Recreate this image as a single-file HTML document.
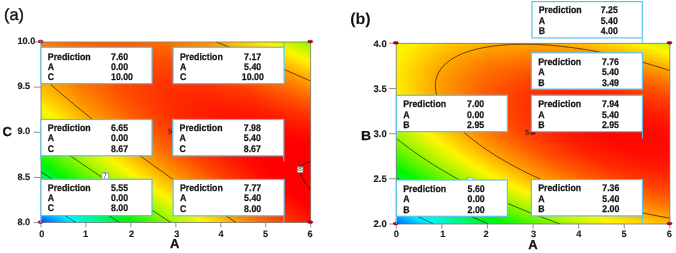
<!DOCTYPE html>
<html><head><meta charset="utf-8"><title>Contour plots</title><style>
html,body{margin:0;padding:0;background:#fff;width:676px;height:253px;overflow:hidden}
svg{display:block;filter:blur(0.3px)}
text{font-family:"Liberation Sans",sans-serif;fill:#1a1a1a;text-rendering:geometricPrecision}
.t{font-size:9.2px;font-weight:bold;fill:#222;stroke:#222;stroke-width:0.15px}
.tb{font-size:9.5px}
.ax{font-size:13px;font-weight:bold;fill:#111;stroke:#111;stroke-width:0.25px}
.pl{font-size:16px;font-weight:bold;fill:#111}
.bx{font-size:9.6px;font-weight:bold;fill:#151515;stroke:#151515;stroke-width:0.25px}
.five{font-size:7.5px;font-weight:bold;fill:#5a1a00}
.cl{font-size:6.5px;fill:#222}
</style></head>
<body><svg width="676" height="253" viewBox="0 0 676 253">
<defs><linearGradient id="a0" gradientUnits="userSpaceOnUse" x1="41.0" x2="311.0" y1="0" y2="0"><stop offset="0.000" stop-color="#ff8000"/><stop offset="0.156" stop-color="#ff6400"/><stop offset="0.311" stop-color="#ff5f00"/><stop offset="0.467" stop-color="#ff7000"/><stop offset="0.622" stop-color="#ff9900"/><stop offset="0.778" stop-color="#ffd900"/><stop offset="0.841" stop-color="#fcf600"/><stop offset="0.993" stop-color="#96f600"/><stop offset="1.000" stop-color="#91f600"/></linearGradient><linearGradient id="a1" gradientUnits="userSpaceOnUse" x1="41.0" x2="311.0" y1="0" y2="0"><stop offset="0.000" stop-color="#ff8100"/><stop offset="0.156" stop-color="#ff6300"/><stop offset="0.311" stop-color="#ff5c00"/><stop offset="0.467" stop-color="#ff6c00"/><stop offset="0.622" stop-color="#ff9200"/><stop offset="0.778" stop-color="#ffd000"/><stop offset="0.856" stop-color="#fdf600"/><stop offset="1.000" stop-color="#9df600"/></linearGradient><linearGradient id="a2" gradientUnits="userSpaceOnUse" x1="41.0" x2="311.0" y1="0" y2="0"><stop offset="0.000" stop-color="#ff8200"/><stop offset="0.156" stop-color="#ff6200"/><stop offset="0.311" stop-color="#ff5900"/><stop offset="0.467" stop-color="#ff6700"/><stop offset="0.622" stop-color="#ff8c00"/><stop offset="0.778" stop-color="#ffc800"/><stop offset="0.874" stop-color="#fcf600"/><stop offset="1.000" stop-color="#a8f600"/></linearGradient><linearGradient id="a3" gradientUnits="userSpaceOnUse" x1="41.0" x2="311.0" y1="0" y2="0"><stop offset="0.000" stop-color="#ff8400"/><stop offset="0.156" stop-color="#ff6200"/><stop offset="0.311" stop-color="#ff5700"/><stop offset="0.467" stop-color="#ff6300"/><stop offset="0.622" stop-color="#ff8600"/><stop offset="0.778" stop-color="#ffc000"/><stop offset="0.889" stop-color="#fdf600"/><stop offset="1.000" stop-color="#b4f600"/></linearGradient><linearGradient id="a4" gradientUnits="userSpaceOnUse" x1="41.0" x2="311.0" y1="0" y2="0"><stop offset="0.000" stop-color="#ff8500"/><stop offset="0.156" stop-color="#ff6100"/><stop offset="0.311" stop-color="#ff5400"/><stop offset="0.467" stop-color="#ff5f00"/><stop offset="0.622" stop-color="#ff8000"/><stop offset="0.778" stop-color="#ffb800"/><stop offset="0.907" stop-color="#fcf600"/><stop offset="1.000" stop-color="#bff600"/></linearGradient><linearGradient id="a5" gradientUnits="userSpaceOnUse" x1="41.0" x2="311.0" y1="0" y2="0"><stop offset="0.000" stop-color="#ff8700"/><stop offset="0.156" stop-color="#ff6100"/><stop offset="0.311" stop-color="#ff5200"/><stop offset="0.467" stop-color="#ff5b00"/><stop offset="0.622" stop-color="#ff7a00"/><stop offset="0.778" stop-color="#ffb100"/><stop offset="0.922" stop-color="#fdf600"/><stop offset="1.000" stop-color="#cbf600"/></linearGradient><linearGradient id="a6" gradientUnits="userSpaceOnUse" x1="41.0" x2="311.0" y1="0" y2="0"><stop offset="0.000" stop-color="#ff8800"/><stop offset="0.156" stop-color="#ff6100"/><stop offset="0.311" stop-color="#ff5000"/><stop offset="0.467" stop-color="#ff5700"/><stop offset="0.622" stop-color="#ff7400"/><stop offset="0.778" stop-color="#ffa900"/><stop offset="0.941" stop-color="#fcf600"/><stop offset="1.000" stop-color="#d6f600"/></linearGradient><linearGradient id="a7" gradientUnits="userSpaceOnUse" x1="41.0" x2="311.0" y1="0" y2="0"><stop offset="0.000" stop-color="#ff8a00"/><stop offset="0.156" stop-color="#ff6100"/><stop offset="0.311" stop-color="#ff4f00"/><stop offset="0.467" stop-color="#ff5300"/><stop offset="0.622" stop-color="#ff6f00"/><stop offset="0.778" stop-color="#ffa200"/><stop offset="0.933" stop-color="#ffeb00"/><stop offset="0.959" stop-color="#fbf600"/><stop offset="1.000" stop-color="#e1f600"/></linearGradient><linearGradient id="a8" gradientUnits="userSpaceOnUse" x1="41.0" x2="311.0" y1="0" y2="0"><stop offset="0.000" stop-color="#ff8c00"/><stop offset="0.156" stop-color="#ff6100"/><stop offset="0.311" stop-color="#ff4d00"/><stop offset="0.467" stop-color="#ff5000"/><stop offset="0.622" stop-color="#ff6a00"/><stop offset="0.778" stop-color="#ff9a00"/><stop offset="0.933" stop-color="#ffe200"/><stop offset="0.974" stop-color="#fcf600"/><stop offset="1.000" stop-color="#ebf600"/></linearGradient><linearGradient id="a9" gradientUnits="userSpaceOnUse" x1="41.0" x2="311.0" y1="0" y2="0"><stop offset="0.000" stop-color="#ff8f00"/><stop offset="0.156" stop-color="#ff6200"/><stop offset="0.311" stop-color="#ff4c00"/><stop offset="0.467" stop-color="#ff4d00"/><stop offset="0.622" stop-color="#ff6400"/><stop offset="0.778" stop-color="#ff9300"/><stop offset="0.933" stop-color="#ffd900"/><stop offset="0.989" stop-color="#fdf600"/><stop offset="1.000" stop-color="#f6f600"/></linearGradient><linearGradient id="a10" gradientUnits="userSpaceOnUse" x1="41.0" x2="311.0" y1="0" y2="0"><stop offset="0.000" stop-color="#ff9100"/><stop offset="0.156" stop-color="#ff6200"/><stop offset="0.311" stop-color="#ff4a00"/><stop offset="0.467" stop-color="#ff4900"/><stop offset="0.622" stop-color="#ff5f00"/><stop offset="0.778" stop-color="#ff8d00"/><stop offset="0.933" stop-color="#ffd100"/><stop offset="1.000" stop-color="#fff500"/></linearGradient><linearGradient id="a11" gradientUnits="userSpaceOnUse" x1="41.0" x2="311.0" y1="0" y2="0"><stop offset="0.000" stop-color="#ff9400"/><stop offset="0.156" stop-color="#ff6300"/><stop offset="0.311" stop-color="#ff4900"/><stop offset="0.467" stop-color="#ff4600"/><stop offset="0.622" stop-color="#ff5b00"/><stop offset="0.778" stop-color="#ff8600"/><stop offset="0.933" stop-color="#ffc800"/><stop offset="1.000" stop-color="#ffeb00"/></linearGradient><linearGradient id="a12" gradientUnits="userSpaceOnUse" x1="41.0" x2="311.0" y1="0" y2="0"><stop offset="0.000" stop-color="#ff9700"/><stop offset="0.156" stop-color="#ff6400"/><stop offset="0.311" stop-color="#ff4800"/><stop offset="0.467" stop-color="#ff4400"/><stop offset="0.622" stop-color="#ff5600"/><stop offset="0.778" stop-color="#ff7f00"/><stop offset="0.933" stop-color="#ffc000"/><stop offset="1.000" stop-color="#ffe200"/></linearGradient><linearGradient id="a13" gradientUnits="userSpaceOnUse" x1="41.0" x2="311.0" y1="0" y2="0"><stop offset="0.000" stop-color="#ff9a00"/><stop offset="0.156" stop-color="#ff6500"/><stop offset="0.311" stop-color="#ff4800"/><stop offset="0.467" stop-color="#ff4100"/><stop offset="0.622" stop-color="#ff5100"/><stop offset="0.778" stop-color="#ff7900"/><stop offset="0.933" stop-color="#ffb700"/><stop offset="1.000" stop-color="#ffd900"/></linearGradient><linearGradient id="a14" gradientUnits="userSpaceOnUse" x1="41.0" x2="311.0" y1="0" y2="0"><stop offset="0.000" stop-color="#ff9d00"/><stop offset="0.156" stop-color="#ff6600"/><stop offset="0.311" stop-color="#ff4700"/><stop offset="0.467" stop-color="#ff3f00"/><stop offset="0.622" stop-color="#ff4d00"/><stop offset="0.778" stop-color="#ff7300"/><stop offset="0.933" stop-color="#ffaf00"/><stop offset="1.000" stop-color="#ffd000"/></linearGradient><linearGradient id="a15" gradientUnits="userSpaceOnUse" x1="41.0" x2="311.0" y1="0" y2="0"><stop offset="0.000" stop-color="#ffa000"/><stop offset="0.156" stop-color="#ff6800"/><stop offset="0.311" stop-color="#ff4600"/><stop offset="0.467" stop-color="#ff3c00"/><stop offset="0.622" stop-color="#ff4900"/><stop offset="0.778" stop-color="#ff6d00"/><stop offset="0.933" stop-color="#ffa700"/><stop offset="1.000" stop-color="#ffc800"/></linearGradient><linearGradient id="a16" gradientUnits="userSpaceOnUse" x1="41.0" x2="311.0" y1="0" y2="0"><stop offset="0.000" stop-color="#ffa300"/><stop offset="0.156" stop-color="#ff6900"/><stop offset="0.311" stop-color="#ff4600"/><stop offset="0.467" stop-color="#ff3a00"/><stop offset="0.622" stop-color="#ff4500"/><stop offset="0.778" stop-color="#ff6700"/><stop offset="0.933" stop-color="#ffa000"/><stop offset="1.000" stop-color="#ffbf00"/></linearGradient><linearGradient id="a17" gradientUnits="userSpaceOnUse" x1="41.0" x2="311.0" y1="0" y2="0"><stop offset="0.000" stop-color="#ffa700"/><stop offset="0.156" stop-color="#ff6b00"/><stop offset="0.311" stop-color="#ff4600"/><stop offset="0.467" stop-color="#ff3800"/><stop offset="0.622" stop-color="#ff4100"/><stop offset="0.778" stop-color="#ff6100"/><stop offset="0.933" stop-color="#ff9800"/><stop offset="1.000" stop-color="#ffb700"/></linearGradient><linearGradient id="a18" gradientUnits="userSpaceOnUse" x1="41.0" x2="311.0" y1="0" y2="0"><stop offset="0.000" stop-color="#ffab00"/><stop offset="0.156" stop-color="#ff6d00"/><stop offset="0.311" stop-color="#ff4600"/><stop offset="0.467" stop-color="#ff3600"/><stop offset="0.622" stop-color="#ff3d00"/><stop offset="0.778" stop-color="#ff5c00"/><stop offset="0.933" stop-color="#ff9100"/><stop offset="1.000" stop-color="#ffaf00"/></linearGradient><linearGradient id="a19" gradientUnits="userSpaceOnUse" x1="41.0" x2="311.0" y1="0" y2="0"><stop offset="0.000" stop-color="#ffaf00"/><stop offset="0.156" stop-color="#ff6f00"/><stop offset="0.311" stop-color="#ff4600"/><stop offset="0.467" stop-color="#ff3500"/><stop offset="0.622" stop-color="#ff3a00"/><stop offset="0.778" stop-color="#ff5600"/><stop offset="0.933" stop-color="#ff8a00"/><stop offset="1.000" stop-color="#ffa700"/></linearGradient><linearGradient id="a20" gradientUnits="userSpaceOnUse" x1="41.0" x2="311.0" y1="0" y2="0"><stop offset="0.000" stop-color="#ffb300"/><stop offset="0.156" stop-color="#ff7100"/><stop offset="0.311" stop-color="#ff4700"/><stop offset="0.467" stop-color="#ff3300"/><stop offset="0.622" stop-color="#ff3700"/><stop offset="0.778" stop-color="#ff5100"/><stop offset="0.933" stop-color="#ff8200"/><stop offset="1.000" stop-color="#ff9f00"/></linearGradient><linearGradient id="a21" gradientUnits="userSpaceOnUse" x1="41.0" x2="311.0" y1="0" y2="0"><stop offset="0.000" stop-color="#ffb700"/><stop offset="0.156" stop-color="#ff7400"/><stop offset="0.311" stop-color="#ff4700"/><stop offset="0.467" stop-color="#ff3200"/><stop offset="0.622" stop-color="#ff3300"/><stop offset="0.778" stop-color="#ff4c00"/><stop offset="0.933" stop-color="#ff7c00"/><stop offset="1.000" stop-color="#ff9700"/></linearGradient><linearGradient id="a22" gradientUnits="userSpaceOnUse" x1="41.0" x2="311.0" y1="0" y2="0"><stop offset="0.000" stop-color="#ffbc00"/><stop offset="0.156" stop-color="#ff7600"/><stop offset="0.311" stop-color="#ff4800"/><stop offset="0.467" stop-color="#ff3100"/><stop offset="0.622" stop-color="#ff3000"/><stop offset="0.778" stop-color="#ff4700"/><stop offset="0.933" stop-color="#ff7500"/><stop offset="1.000" stop-color="#ff8f00"/></linearGradient><linearGradient id="a23" gradientUnits="userSpaceOnUse" x1="41.0" x2="311.0" y1="0" y2="0"><stop offset="0.000" stop-color="#ffc000"/><stop offset="0.156" stop-color="#ff7900"/><stop offset="0.311" stop-color="#ff4900"/><stop offset="0.467" stop-color="#ff3000"/><stop offset="0.622" stop-color="#ff2e00"/><stop offset="0.778" stop-color="#ff4200"/><stop offset="0.933" stop-color="#ff6e00"/><stop offset="1.000" stop-color="#ff8800"/></linearGradient><linearGradient id="a24" gradientUnits="userSpaceOnUse" x1="41.0" x2="311.0" y1="0" y2="0"><stop offset="0.000" stop-color="#ffc500"/><stop offset="0.156" stop-color="#ff7c00"/><stop offset="0.311" stop-color="#ff4a00"/><stop offset="0.467" stop-color="#ff2f00"/><stop offset="0.622" stop-color="#ff2b00"/><stop offset="0.778" stop-color="#ff3e00"/><stop offset="0.933" stop-color="#ff6800"/><stop offset="1.000" stop-color="#ff8100"/></linearGradient><linearGradient id="a25" gradientUnits="userSpaceOnUse" x1="41.0" x2="311.0" y1="0" y2="0"><stop offset="0.000" stop-color="#ffca00"/><stop offset="0.156" stop-color="#ff7f00"/><stop offset="0.311" stop-color="#ff4b00"/><stop offset="0.467" stop-color="#ff2e00"/><stop offset="0.622" stop-color="#ff2800"/><stop offset="0.778" stop-color="#ff3a00"/><stop offset="0.933" stop-color="#ff6200"/><stop offset="1.000" stop-color="#ff7a00"/></linearGradient><linearGradient id="a26" gradientUnits="userSpaceOnUse" x1="41.0" x2="311.0" y1="0" y2="0"><stop offset="0.000" stop-color="#ffcf00"/><stop offset="0.156" stop-color="#ff8200"/><stop offset="0.311" stop-color="#ff4d00"/><stop offset="0.467" stop-color="#ff2e00"/><stop offset="0.622" stop-color="#ff2600"/><stop offset="0.778" stop-color="#ff3500"/><stop offset="0.933" stop-color="#ff5c00"/><stop offset="1.000" stop-color="#ff7300"/></linearGradient><linearGradient id="a27" gradientUnits="userSpaceOnUse" x1="41.0" x2="311.0" y1="0" y2="0"><stop offset="0.000" stop-color="#ffd400"/><stop offset="0.156" stop-color="#ff8600"/><stop offset="0.311" stop-color="#ff4e00"/><stop offset="0.467" stop-color="#ff2e00"/><stop offset="0.622" stop-color="#ff2400"/><stop offset="0.778" stop-color="#ff3100"/><stop offset="0.933" stop-color="#ff5600"/><stop offset="1.000" stop-color="#ff6c00"/></linearGradient><linearGradient id="a28" gradientUnits="userSpaceOnUse" x1="41.0" x2="311.0" y1="0" y2="0"><stop offset="0.000" stop-color="#ffda00"/><stop offset="0.156" stop-color="#ff8900"/><stop offset="0.311" stop-color="#ff5000"/><stop offset="0.467" stop-color="#ff2d00"/><stop offset="0.622" stop-color="#ff2200"/><stop offset="0.778" stop-color="#ff2d00"/><stop offset="0.933" stop-color="#ff5000"/><stop offset="1.000" stop-color="#ff6600"/></linearGradient><linearGradient id="a29" gradientUnits="userSpaceOnUse" x1="41.0" x2="311.0" y1="0" y2="0"><stop offset="0.000" stop-color="#ffe000"/><stop offset="0.156" stop-color="#ff8d00"/><stop offset="0.311" stop-color="#ff5200"/><stop offset="0.467" stop-color="#ff2d00"/><stop offset="0.622" stop-color="#ff2000"/><stop offset="0.778" stop-color="#ff2a00"/><stop offset="0.933" stop-color="#ff4a00"/><stop offset="1.000" stop-color="#ff5f00"/></linearGradient><linearGradient id="a30" gradientUnits="userSpaceOnUse" x1="41.0" x2="311.0" y1="0" y2="0"><stop offset="0.000" stop-color="#ffe500"/><stop offset="0.156" stop-color="#ff9100"/><stop offset="0.311" stop-color="#ff5400"/><stop offset="0.467" stop-color="#ff2e00"/><stop offset="0.622" stop-color="#ff1e00"/><stop offset="0.778" stop-color="#ff2600"/><stop offset="0.933" stop-color="#ff4500"/><stop offset="1.000" stop-color="#ff5900"/></linearGradient><linearGradient id="a31" gradientUnits="userSpaceOnUse" x1="41.0" x2="311.0" y1="0" y2="0"><stop offset="0.000" stop-color="#ffeb00"/><stop offset="0.156" stop-color="#ff9500"/><stop offset="0.311" stop-color="#ff5600"/><stop offset="0.467" stop-color="#ff2e00"/><stop offset="0.622" stop-color="#ff1d00"/><stop offset="0.778" stop-color="#ff2300"/><stop offset="0.933" stop-color="#ff4000"/><stop offset="1.000" stop-color="#ff5300"/></linearGradient><linearGradient id="a32" gradientUnits="userSpaceOnUse" x1="41.0" x2="311.0" y1="0" y2="0"><stop offset="0.000" stop-color="#fff100"/><stop offset="0.156" stop-color="#ff9900"/><stop offset="0.311" stop-color="#ff5900"/><stop offset="0.467" stop-color="#ff2f00"/><stop offset="0.622" stop-color="#ff1c00"/><stop offset="0.778" stop-color="#ff2000"/><stop offset="0.933" stop-color="#ff3b00"/><stop offset="1.000" stop-color="#ff4d00"/></linearGradient><linearGradient id="a33" gradientUnits="userSpaceOnUse" x1="41.0" x2="311.0" y1="0" y2="0"><stop offset="0.000" stop-color="#fdf600"/><stop offset="0.178" stop-color="#ff9300"/><stop offset="0.333" stop-color="#ff5300"/><stop offset="0.489" stop-color="#ff2b00"/><stop offset="0.644" stop-color="#ff1900"/><stop offset="0.800" stop-color="#ff1f00"/><stop offset="0.956" stop-color="#ff3b00"/><stop offset="1.000" stop-color="#ff4800"/></linearGradient><linearGradient id="a34" gradientUnits="userSpaceOnUse" x1="41.0" x2="311.0" y1="0" y2="0"><stop offset="0.000" stop-color="#f6f600"/><stop offset="0.019" stop-color="#fff200"/><stop offset="0.174" stop-color="#ff9900"/><stop offset="0.330" stop-color="#ff5700"/><stop offset="0.485" stop-color="#ff2c00"/><stop offset="0.641" stop-color="#ff1800"/><stop offset="0.796" stop-color="#ff1b00"/><stop offset="0.952" stop-color="#ff3500"/><stop offset="1.000" stop-color="#ff4200"/></linearGradient><linearGradient id="a35" gradientUnits="userSpaceOnUse" x1="41.0" x2="311.0" y1="0" y2="0"><stop offset="0.000" stop-color="#eff600"/><stop offset="0.026" stop-color="#fff400"/><stop offset="0.181" stop-color="#ff9a00"/><stop offset="0.337" stop-color="#ff5700"/><stop offset="0.493" stop-color="#ff2b00"/><stop offset="0.648" stop-color="#ff1700"/><stop offset="0.804" stop-color="#ff1900"/><stop offset="0.959" stop-color="#ff3200"/><stop offset="1.000" stop-color="#ff3d00"/></linearGradient><linearGradient id="a36" gradientUnits="userSpaceOnUse" x1="41.0" x2="311.0" y1="0" y2="0"><stop offset="0.000" stop-color="#e8f600"/><stop offset="0.037" stop-color="#fff300"/><stop offset="0.193" stop-color="#ff9900"/><stop offset="0.348" stop-color="#ff5600"/><stop offset="0.504" stop-color="#ff2a00"/><stop offset="0.659" stop-color="#ff1500"/><stop offset="0.815" stop-color="#ff1700"/><stop offset="0.970" stop-color="#ff3000"/><stop offset="1.000" stop-color="#ff3800"/></linearGradient><linearGradient id="a37" gradientUnits="userSpaceOnUse" x1="41.0" x2="311.0" y1="0" y2="0"><stop offset="0.000" stop-color="#e0f600"/><stop offset="0.044" stop-color="#fff400"/><stop offset="0.200" stop-color="#ff9a00"/><stop offset="0.356" stop-color="#ff5600"/><stop offset="0.511" stop-color="#ff2900"/><stop offset="0.667" stop-color="#ff1400"/><stop offset="0.822" stop-color="#ff1500"/><stop offset="0.978" stop-color="#ff2d00"/><stop offset="1.000" stop-color="#ff3300"/></linearGradient><linearGradient id="a38" gradientUnits="userSpaceOnUse" x1="41.0" x2="311.0" y1="0" y2="0"><stop offset="0.000" stop-color="#d8f600"/><stop offset="0.056" stop-color="#fff400"/><stop offset="0.211" stop-color="#ff9900"/><stop offset="0.367" stop-color="#ff5500"/><stop offset="0.522" stop-color="#ff2800"/><stop offset="0.678" stop-color="#ff1200"/><stop offset="0.833" stop-color="#ff1300"/><stop offset="0.989" stop-color="#ff2b00"/><stop offset="1.000" stop-color="#ff2e00"/></linearGradient><linearGradient id="a39" gradientUnits="userSpaceOnUse" x1="41.0" x2="311.0" y1="0" y2="0"><stop offset="0.000" stop-color="#d0f600"/><stop offset="0.063" stop-color="#fff500"/><stop offset="0.219" stop-color="#ff9a00"/><stop offset="0.374" stop-color="#ff5500"/><stop offset="0.530" stop-color="#ff2700"/><stop offset="0.685" stop-color="#ff1100"/><stop offset="0.841" stop-color="#ff1100"/><stop offset="0.996" stop-color="#ff2800"/><stop offset="1.000" stop-color="#ff2900"/></linearGradient><linearGradient id="a40" gradientUnits="userSpaceOnUse" x1="41.0" x2="311.0" y1="0" y2="0"><stop offset="0.000" stop-color="#c8f600"/><stop offset="0.074" stop-color="#fff500"/><stop offset="0.230" stop-color="#ff9900"/><stop offset="0.385" stop-color="#ff5400"/><stop offset="0.541" stop-color="#ff2600"/><stop offset="0.696" stop-color="#ff0f00"/><stop offset="0.852" stop-color="#ff0f00"/><stop offset="1.000" stop-color="#ff2400"/></linearGradient><linearGradient id="a41" gradientUnits="userSpaceOnUse" x1="41.0" x2="311.0" y1="0" y2="0"><stop offset="0.000" stop-color="#c0f600"/><stop offset="0.085" stop-color="#fff400"/><stop offset="0.241" stop-color="#ff9800"/><stop offset="0.396" stop-color="#ff5300"/><stop offset="0.552" stop-color="#ff2400"/><stop offset="0.707" stop-color="#ff0d00"/><stop offset="0.863" stop-color="#ff0d00"/><stop offset="1.000" stop-color="#ff2000"/></linearGradient><linearGradient id="a42" gradientUnits="userSpaceOnUse" x1="41.0" x2="311.0" y1="0" y2="0"><stop offset="0.000" stop-color="#b7f600"/><stop offset="0.093" stop-color="#fff600"/><stop offset="0.248" stop-color="#ff9900"/><stop offset="0.404" stop-color="#ff5300"/><stop offset="0.559" stop-color="#ff2400"/><stop offset="0.715" stop-color="#ff0c00"/><stop offset="0.870" stop-color="#ff0b00"/><stop offset="1.000" stop-color="#ff1c00"/></linearGradient><linearGradient id="a43" gradientUnits="userSpaceOnUse" x1="41.0" x2="311.0" y1="0" y2="0"><stop offset="0.000" stop-color="#aff600"/><stop offset="0.104" stop-color="#fff500"/><stop offset="0.259" stop-color="#ff9800"/><stop offset="0.415" stop-color="#ff5200"/><stop offset="0.570" stop-color="#ff2300"/><stop offset="0.726" stop-color="#ff0a00"/><stop offset="0.881" stop-color="#ff0900"/><stop offset="1.000" stop-color="#ff1800"/></linearGradient><linearGradient id="a44" gradientUnits="userSpaceOnUse" x1="41.0" x2="311.0" y1="0" y2="0"><stop offset="0.000" stop-color="#a6f600"/><stop offset="0.115" stop-color="#fff400"/><stop offset="0.270" stop-color="#ff9700"/><stop offset="0.426" stop-color="#ff5100"/><stop offset="0.581" stop-color="#ff2100"/><stop offset="0.737" stop-color="#ff0900"/><stop offset="0.893" stop-color="#ff0800"/><stop offset="1.000" stop-color="#ff1400"/></linearGradient><linearGradient id="a45" gradientUnits="userSpaceOnUse" x1="41.0" x2="311.0" y1="0" y2="0"><stop offset="0.000" stop-color="#9df600"/><stop offset="0.122" stop-color="#fff600"/><stop offset="0.281" stop-color="#ff9600"/><stop offset="0.437" stop-color="#ff5000"/><stop offset="0.593" stop-color="#ff2000"/><stop offset="0.748" stop-color="#ff0700"/><stop offset="0.904" stop-color="#ff0600"/><stop offset="1.000" stop-color="#ff1000"/></linearGradient><linearGradient id="a46" gradientUnits="userSpaceOnUse" x1="41.0" x2="311.0" y1="0" y2="0"><stop offset="0.000" stop-color="#94f600"/><stop offset="0.133" stop-color="#fff600"/><stop offset="0.289" stop-color="#ff9700"/><stop offset="0.444" stop-color="#ff5000"/><stop offset="0.600" stop-color="#ff1f00"/><stop offset="0.756" stop-color="#ff0600"/><stop offset="0.911" stop-color="#ff0400"/><stop offset="1.000" stop-color="#ff0d00"/></linearGradient><linearGradient id="a47" gradientUnits="userSpaceOnUse" x1="41.0" x2="311.0" y1="0" y2="0"><stop offset="0.000" stop-color="#8af600"/><stop offset="0.141" stop-color="#fdf600"/><stop offset="0.315" stop-color="#ff8f00"/><stop offset="0.470" stop-color="#ff4900"/><stop offset="0.626" stop-color="#ff1b00"/><stop offset="0.781" stop-color="#ff0300"/><stop offset="0.937" stop-color="#ff0300"/><stop offset="1.000" stop-color="#ff0900"/></linearGradient><linearGradient id="a48" gradientUnits="userSpaceOnUse" x1="41.0" x2="311.0" y1="0" y2="0"><stop offset="0.000" stop-color="#81f600"/><stop offset="0.152" stop-color="#fef600"/><stop offset="0.319" stop-color="#ff9200"/><stop offset="0.474" stop-color="#ff4b00"/><stop offset="0.630" stop-color="#ff1b00"/><stop offset="0.785" stop-color="#ff0300"/><stop offset="0.970" stop-color="#ff0300"/><stop offset="1.000" stop-color="#ff0600"/></linearGradient><linearGradient id="a49" gradientUnits="userSpaceOnUse" x1="41.0" x2="311.0" y1="0" y2="0"><stop offset="0.000" stop-color="#77f600"/><stop offset="0.152" stop-color="#f6f600"/><stop offset="0.167" stop-color="#fff400"/><stop offset="0.322" stop-color="#ff9500"/><stop offset="0.478" stop-color="#ff4d00"/><stop offset="0.633" stop-color="#ff1c00"/><stop offset="0.789" stop-color="#ff0200"/><stop offset="1.000" stop-color="#ff0300"/></linearGradient><linearGradient id="a50" gradientUnits="userSpaceOnUse" x1="41.0" x2="311.0" y1="0" y2="0"><stop offset="0.000" stop-color="#6df600"/><stop offset="0.152" stop-color="#eef600"/><stop offset="0.178" stop-color="#fff300"/><stop offset="0.333" stop-color="#ff9400"/><stop offset="0.489" stop-color="#ff4c00"/><stop offset="0.644" stop-color="#ff1b00"/><stop offset="0.800" stop-color="#ff0000"/><stop offset="1.000" stop-color="#ff0000"/></linearGradient><linearGradient id="a51" gradientUnits="userSpaceOnUse" x1="41.0" x2="311.0" y1="0" y2="0"><stop offset="0.000" stop-color="#63f600"/><stop offset="0.152" stop-color="#e6f600"/><stop offset="0.189" stop-color="#fff300"/><stop offset="0.344" stop-color="#ff9300"/><stop offset="0.500" stop-color="#ff4b00"/><stop offset="0.656" stop-color="#ff1900"/><stop offset="0.804" stop-color="#ff0000"/><stop offset="1.000" stop-color="#ff0000"/></linearGradient><linearGradient id="a52" gradientUnits="userSpaceOnUse" x1="41.0" x2="311.0" y1="0" y2="0"><stop offset="0.000" stop-color="#59f600"/><stop offset="0.152" stop-color="#def600"/><stop offset="0.196" stop-color="#fff500"/><stop offset="0.352" stop-color="#ff9500"/><stop offset="0.507" stop-color="#ff4b00"/><stop offset="0.663" stop-color="#ff1900"/><stop offset="0.807" stop-color="#ff0000"/><stop offset="1.000" stop-color="#ff0000"/></linearGradient><linearGradient id="a53" gradientUnits="userSpaceOnUse" x1="41.0" x2="311.0" y1="0" y2="0"><stop offset="0.000" stop-color="#4ff600"/><stop offset="0.152" stop-color="#d5f600"/><stop offset="0.207" stop-color="#fff400"/><stop offset="0.363" stop-color="#ff9400"/><stop offset="0.519" stop-color="#ff4a00"/><stop offset="0.674" stop-color="#ff1800"/><stop offset="0.807" stop-color="#ff0000"/><stop offset="1.000" stop-color="#ff0000"/></linearGradient><linearGradient id="a54" gradientUnits="userSpaceOnUse" x1="41.0" x2="311.0" y1="0" y2="0"><stop offset="0.000" stop-color="#44f600"/><stop offset="0.152" stop-color="#cdf600"/><stop offset="0.219" stop-color="#fff400"/><stop offset="0.374" stop-color="#ff9300"/><stop offset="0.530" stop-color="#ff4900"/><stop offset="0.685" stop-color="#ff1700"/><stop offset="0.811" stop-color="#ff0000"/><stop offset="1.000" stop-color="#ff0000"/></linearGradient><linearGradient id="a55" gradientUnits="userSpaceOnUse" x1="41.0" x2="311.0" y1="0" y2="0"><stop offset="0.000" stop-color="#39f600"/><stop offset="0.152" stop-color="#c4f600"/><stop offset="0.230" stop-color="#fff300"/><stop offset="0.385" stop-color="#ff9200"/><stop offset="0.541" stop-color="#ff4900"/><stop offset="0.696" stop-color="#ff1600"/><stop offset="0.815" stop-color="#ff0000"/><stop offset="1.000" stop-color="#ff0000"/></linearGradient><linearGradient id="a56" gradientUnits="userSpaceOnUse" x1="41.0" x2="311.0" y1="0" y2="0"><stop offset="0.000" stop-color="#2ef600"/><stop offset="0.152" stop-color="#bbf600"/><stop offset="0.237" stop-color="#fff500"/><stop offset="0.393" stop-color="#ff9400"/><stop offset="0.548" stop-color="#ff4900"/><stop offset="0.704" stop-color="#ff1500"/><stop offset="0.819" stop-color="#ff0000"/><stop offset="1.000" stop-color="#ff0000"/></linearGradient><linearGradient id="a57" gradientUnits="userSpaceOnUse" x1="41.0" x2="311.0" y1="0" y2="0"><stop offset="0.000" stop-color="#23f600"/><stop offset="0.152" stop-color="#b2f600"/><stop offset="0.248" stop-color="#fff500"/><stop offset="0.404" stop-color="#ff9300"/><stop offset="0.559" stop-color="#ff4800"/><stop offset="0.715" stop-color="#ff1400"/><stop offset="0.822" stop-color="#ff0000"/><stop offset="1.000" stop-color="#ff0000"/></linearGradient><linearGradient id="a58" gradientUnits="userSpaceOnUse" x1="41.0" x2="311.0" y1="0" y2="0"><stop offset="0.000" stop-color="#18f600"/><stop offset="0.152" stop-color="#a8f600"/><stop offset="0.259" stop-color="#fff500"/><stop offset="0.415" stop-color="#ff9300"/><stop offset="0.570" stop-color="#ff4700"/><stop offset="0.726" stop-color="#ff1300"/><stop offset="0.830" stop-color="#ff0000"/><stop offset="1.000" stop-color="#ff0000"/></linearGradient><linearGradient id="a59" gradientUnits="userSpaceOnUse" x1="41.0" x2="311.0" y1="0" y2="0"><stop offset="0.000" stop-color="#0cf600"/><stop offset="0.152" stop-color="#9ff600"/><stop offset="0.270" stop-color="#fff400"/><stop offset="0.426" stop-color="#ff9200"/><stop offset="0.581" stop-color="#ff4700"/><stop offset="0.737" stop-color="#ff1200"/><stop offset="0.833" stop-color="#ff0000"/><stop offset="1.000" stop-color="#ff0000"/></linearGradient><linearGradient id="a60" gradientUnits="userSpaceOnUse" x1="41.0" x2="311.0" y1="0" y2="0"><stop offset="0.000" stop-color="#00f600"/><stop offset="0.152" stop-color="#95f600"/><stop offset="0.278" stop-color="#fef600"/><stop offset="0.441" stop-color="#ff8f00"/><stop offset="0.596" stop-color="#ff4400"/><stop offset="0.752" stop-color="#ff1000"/><stop offset="0.837" stop-color="#ff0000"/><stop offset="1.000" stop-color="#ff0000"/></linearGradient><linearGradient id="a61" gradientUnits="userSpaceOnUse" x1="41.0" x2="311.0" y1="0" y2="0"><stop offset="0.000" stop-color="#00f60c"/><stop offset="0.015" stop-color="#04f600"/><stop offset="0.167" stop-color="#99f600"/><stop offset="0.289" stop-color="#fff600"/><stop offset="0.448" stop-color="#ff9100"/><stop offset="0.604" stop-color="#ff4500"/><stop offset="0.759" stop-color="#ff1000"/><stop offset="0.844" stop-color="#ff0000"/><stop offset="1.000" stop-color="#ff0000"/></linearGradient><linearGradient id="a62" gradientUnits="userSpaceOnUse" x1="41.0" x2="311.0" y1="0" y2="0"><stop offset="0.000" stop-color="#00f618"/><stop offset="0.022" stop-color="#00f600"/><stop offset="0.174" stop-color="#95f600"/><stop offset="0.300" stop-color="#fff600"/><stop offset="0.456" stop-color="#ff9200"/><stop offset="0.611" stop-color="#ff4600"/><stop offset="0.767" stop-color="#ff1000"/><stop offset="0.848" stop-color="#ff0000"/><stop offset="1.000" stop-color="#ff0000"/></linearGradient><linearGradient id="a63" gradientUnits="userSpaceOnUse" x1="41.0" x2="311.0" y1="0" y2="0"><stop offset="0.000" stop-color="#00f624"/><stop offset="0.033" stop-color="#00f600"/><stop offset="0.185" stop-color="#96f600"/><stop offset="0.311" stop-color="#fff600"/><stop offset="0.467" stop-color="#ff9200"/><stop offset="0.622" stop-color="#ff4500"/><stop offset="0.778" stop-color="#ff0f00"/><stop offset="0.856" stop-color="#ff0000"/><stop offset="1.000" stop-color="#ff0000"/></linearGradient><linearGradient id="a64" gradientUnits="userSpaceOnUse" x1="41.0" x2="311.0" y1="0" y2="0"><stop offset="0.000" stop-color="#00f630"/><stop offset="0.044" stop-color="#00f600"/><stop offset="0.196" stop-color="#96f600"/><stop offset="0.322" stop-color="#fff500"/><stop offset="0.478" stop-color="#ff9100"/><stop offset="0.633" stop-color="#ff4400"/><stop offset="0.789" stop-color="#ff0e00"/><stop offset="0.863" stop-color="#ff0000"/><stop offset="1.000" stop-color="#ff0000"/></linearGradient><linearGradient id="a65" gradientUnits="userSpaceOnUse" x1="41.0" x2="311.0" y1="0" y2="0"><stop offset="0.000" stop-color="#00f63d"/><stop offset="0.056" stop-color="#00f600"/><stop offset="0.207" stop-color="#96f600"/><stop offset="0.333" stop-color="#fff500"/><stop offset="0.489" stop-color="#ff9100"/><stop offset="0.644" stop-color="#ff4400"/><stop offset="0.800" stop-color="#ff0d00"/><stop offset="0.867" stop-color="#ff0000"/><stop offset="1.000" stop-color="#ff0000"/></linearGradient><linearGradient id="a66" gradientUnits="userSpaceOnUse" x1="41.0" x2="311.0" y1="0" y2="0"><stop offset="0.000" stop-color="#00f64a"/><stop offset="0.067" stop-color="#00f600"/><stop offset="0.222" stop-color="#99f600"/><stop offset="0.344" stop-color="#fff500"/><stop offset="0.500" stop-color="#ff9000"/><stop offset="0.656" stop-color="#ff4300"/><stop offset="0.811" stop-color="#ff0c00"/><stop offset="0.874" stop-color="#ff0000"/><stop offset="1.000" stop-color="#ff0000"/></linearGradient><linearGradient id="a67" gradientUnits="userSpaceOnUse" x1="41.0" x2="311.0" y1="0" y2="0"><stop offset="0.000" stop-color="#00f657"/><stop offset="0.078" stop-color="#00f601"/><stop offset="0.233" stop-color="#99f600"/><stop offset="0.356" stop-color="#fff500"/><stop offset="0.511" stop-color="#ff9000"/><stop offset="0.667" stop-color="#ff4200"/><stop offset="0.822" stop-color="#ff0c00"/><stop offset="0.881" stop-color="#ff0000"/><stop offset="1.000" stop-color="#ff0000"/></linearGradient><linearGradient id="a68" gradientUnits="userSpaceOnUse" x1="41.0" x2="311.0" y1="0" y2="0"><stop offset="0.000" stop-color="#00f664"/><stop offset="0.089" stop-color="#00f601"/><stop offset="0.248" stop-color="#9df600"/><stop offset="0.367" stop-color="#fff400"/><stop offset="0.522" stop-color="#ff8f00"/><stop offset="0.678" stop-color="#ff4200"/><stop offset="0.833" stop-color="#ff0b00"/><stop offset="0.889" stop-color="#ff0000"/><stop offset="1.000" stop-color="#ff0000"/></linearGradient><linearGradient id="a69" gradientUnits="userSpaceOnUse" x1="41.0" x2="311.0" y1="0" y2="0"><stop offset="0.000" stop-color="#00f671"/><stop offset="0.100" stop-color="#00f601"/><stop offset="0.263" stop-color="#a0f600"/><stop offset="0.378" stop-color="#fff400"/><stop offset="0.533" stop-color="#ff8f00"/><stop offset="0.689" stop-color="#ff4100"/><stop offset="0.844" stop-color="#ff0a00"/><stop offset="0.896" stop-color="#ff0000"/><stop offset="1.000" stop-color="#ff0000"/></linearGradient><linearGradient id="a70" gradientUnits="userSpaceOnUse" x1="41.0" x2="311.0" y1="0" y2="0"><stop offset="0.000" stop-color="#00f67f"/><stop offset="0.111" stop-color="#00f601"/><stop offset="0.274" stop-color="#a0f600"/><stop offset="0.385" stop-color="#fef600"/><stop offset="0.548" stop-color="#ff8c00"/><stop offset="0.704" stop-color="#ff3f00"/><stop offset="0.859" stop-color="#ff0800"/><stop offset="0.907" stop-color="#ff0000"/><stop offset="1.000" stop-color="#ff0000"/></linearGradient><linearGradient id="a71" gradientUnits="userSpaceOnUse" x1="41.0" x2="311.0" y1="0" y2="0"><stop offset="0.000" stop-color="#00f68d"/><stop offset="0.122" stop-color="#00f601"/><stop offset="0.289" stop-color="#a3f600"/><stop offset="0.396" stop-color="#fff600"/><stop offset="0.559" stop-color="#ff8c00"/><stop offset="0.715" stop-color="#ff3e00"/><stop offset="0.870" stop-color="#ff0700"/><stop offset="0.915" stop-color="#ff0000"/><stop offset="1.000" stop-color="#ff0000"/></linearGradient><linearGradient id="a72" gradientUnits="userSpaceOnUse" x1="41.0" x2="311.0" y1="0" y2="0"><stop offset="0.000" stop-color="#00f69a"/><stop offset="0.133" stop-color="#00f602"/><stop offset="0.304" stop-color="#a7f600"/><stop offset="0.407" stop-color="#fff600"/><stop offset="0.567" stop-color="#ff8e00"/><stop offset="0.722" stop-color="#ff3f00"/><stop offset="0.878" stop-color="#ff0700"/><stop offset="0.922" stop-color="#ff0000"/><stop offset="1.000" stop-color="#ff0000"/></linearGradient><linearGradient id="a73" gradientUnits="userSpaceOnUse" x1="41.0" x2="311.0" y1="0" y2="0"><stop offset="0.000" stop-color="#00f6a8"/><stop offset="0.144" stop-color="#00f602"/><stop offset="0.319" stop-color="#aaf600"/><stop offset="0.419" stop-color="#fff600"/><stop offset="0.578" stop-color="#ff8d00"/><stop offset="0.733" stop-color="#ff3e00"/><stop offset="0.889" stop-color="#ff0700"/><stop offset="0.933" stop-color="#ff0000"/><stop offset="1.000" stop-color="#ff0000"/></linearGradient><linearGradient id="a74" gradientUnits="userSpaceOnUse" x1="41.0" x2="311.0" y1="0" y2="0"><stop offset="0.000" stop-color="#00f6b7"/><stop offset="0.152" stop-color="#00f606"/><stop offset="0.163" stop-color="#06f600"/><stop offset="0.315" stop-color="#9df600"/><stop offset="0.430" stop-color="#fff600"/><stop offset="0.589" stop-color="#ff8d00"/><stop offset="0.744" stop-color="#ff3e00"/><stop offset="0.900" stop-color="#ff0600"/><stop offset="0.944" stop-color="#ff0000"/><stop offset="1.000" stop-color="#ff0000"/></linearGradient><linearGradient id="a75" gradientUnits="userSpaceOnUse" x1="41.0" x2="311.0" y1="0" y2="0"><stop offset="0.000" stop-color="#00f6c5"/><stop offset="0.152" stop-color="#00f613"/><stop offset="0.170" stop-color="#01f600"/><stop offset="0.322" stop-color="#99f600"/><stop offset="0.441" stop-color="#fff600"/><stop offset="0.596" stop-color="#ff8f00"/><stop offset="0.752" stop-color="#ff3f00"/><stop offset="0.907" stop-color="#ff0600"/><stop offset="0.948" stop-color="#ff0000"/><stop offset="1.000" stop-color="#ff0000"/></linearGradient><linearGradient id="a76" gradientUnits="userSpaceOnUse" x1="41.0" x2="311.0" y1="0" y2="0"><stop offset="0.000" stop-color="#00f6d4"/><stop offset="0.152" stop-color="#00f61f"/><stop offset="0.181" stop-color="#01f600"/><stop offset="0.333" stop-color="#99f600"/><stop offset="0.452" stop-color="#fff600"/><stop offset="0.607" stop-color="#ff8f00"/><stop offset="0.763" stop-color="#ff3f00"/><stop offset="0.919" stop-color="#ff0500"/><stop offset="0.959" stop-color="#ff0000"/><stop offset="1.000" stop-color="#ff0000"/></linearGradient><linearGradient id="a77" gradientUnits="userSpaceOnUse" x1="41.0" x2="311.0" y1="0" y2="0"><stop offset="0.000" stop-color="#00f6e3"/><stop offset="0.152" stop-color="#00f62c"/><stop offset="0.193" stop-color="#01f600"/><stop offset="0.344" stop-color="#99f600"/><stop offset="0.463" stop-color="#fff600"/><stop offset="0.619" stop-color="#ff8e00"/><stop offset="0.774" stop-color="#ff3e00"/><stop offset="0.930" stop-color="#ff0500"/><stop offset="0.981" stop-color="#ff0000"/><stop offset="1.000" stop-color="#ff0000"/></linearGradient><linearGradient id="a78" gradientUnits="userSpaceOnUse" x1="41.0" x2="311.0" y1="0" y2="0"><stop offset="0.000" stop-color="#00f6f2"/><stop offset="0.152" stop-color="#00f639"/><stop offset="0.204" stop-color="#00f600"/><stop offset="0.356" stop-color="#99f600"/><stop offset="0.474" stop-color="#fff600"/><stop offset="0.630" stop-color="#ff8e00"/><stop offset="0.785" stop-color="#ff3e00"/><stop offset="0.941" stop-color="#ff0400"/><stop offset="1.000" stop-color="#ff0000"/></linearGradient><linearGradient id="a79" gradientUnits="userSpaceOnUse" x1="41.0" x2="311.0" y1="0" y2="0"><stop offset="0.000" stop-color="#00f4ff"/><stop offset="0.170" stop-color="#00f631"/><stop offset="0.215" stop-color="#00f600"/><stop offset="0.367" stop-color="#99f600"/><stop offset="0.485" stop-color="#fff600"/><stop offset="0.641" stop-color="#ff8e00"/><stop offset="0.796" stop-color="#ff3d00"/><stop offset="0.952" stop-color="#ff0300"/><stop offset="1.000" stop-color="#ff0000"/></linearGradient><linearGradient id="a80" gradientUnits="userSpaceOnUse" x1="41.0" x2="311.0" y1="0" y2="0"><stop offset="0.000" stop-color="#00e6ff"/><stop offset="0.015" stop-color="#00f6fd"/><stop offset="0.167" stop-color="#00f643"/><stop offset="0.226" stop-color="#00f600"/><stop offset="0.381" stop-color="#9cf600"/><stop offset="0.496" stop-color="#fff600"/><stop offset="0.652" stop-color="#ff8e00"/><stop offset="0.807" stop-color="#ff3d00"/><stop offset="0.963" stop-color="#ff0300"/><stop offset="1.000" stop-color="#ff0000"/></linearGradient><linearGradient id="a81" gradientUnits="userSpaceOnUse" x1="41.0" x2="311.0" y1="0" y2="0"><stop offset="0.000" stop-color="#00d7ff"/><stop offset="0.026" stop-color="#00f6fd"/><stop offset="0.178" stop-color="#00f643"/><stop offset="0.237" stop-color="#00f601"/><stop offset="0.400" stop-color="#a2f600"/><stop offset="0.507" stop-color="#fff600"/><stop offset="0.663" stop-color="#ff8e00"/><stop offset="0.819" stop-color="#ff3c00"/><stop offset="0.974" stop-color="#ff0200"/><stop offset="1.000" stop-color="#ff0000"/></linearGradient><linearGradient id="a82" gradientUnits="userSpaceOnUse" x1="41.0" x2="311.0" y1="0" y2="0"><stop offset="0.000" stop-color="#00c8ff"/><stop offset="0.037" stop-color="#00f6fe"/><stop offset="0.189" stop-color="#00f644"/><stop offset="0.252" stop-color="#03f600"/><stop offset="0.404" stop-color="#9bf600"/><stop offset="0.519" stop-color="#fff600"/><stop offset="0.674" stop-color="#ff8d00"/><stop offset="0.830" stop-color="#ff3c00"/><stop offset="0.985" stop-color="#ff0100"/><stop offset="1.000" stop-color="#ff0000"/></linearGradient><linearGradient id="a83" gradientUnits="userSpaceOnUse" x1="41.0" x2="311.0" y1="0" y2="0"><stop offset="0.000" stop-color="#00b9ff"/><stop offset="0.048" stop-color="#00f6ff"/><stop offset="0.200" stop-color="#00f644"/><stop offset="0.263" stop-color="#02f600"/><stop offset="0.415" stop-color="#9bf600"/><stop offset="0.530" stop-color="#fff600"/><stop offset="0.685" stop-color="#ff8d00"/><stop offset="0.841" stop-color="#ff3b00"/><stop offset="0.996" stop-color="#ff0100"/><stop offset="1.000" stop-color="#ff0000"/></linearGradient><linearGradient id="a84" gradientUnits="userSpaceOnUse" x1="41.0" x2="311.0" y1="0" y2="0"><stop offset="0.000" stop-color="#00aaff"/><stop offset="0.059" stop-color="#00f5ff"/><stop offset="0.219" stop-color="#00f63c"/><stop offset="0.274" stop-color="#02f600"/><stop offset="0.426" stop-color="#9bf600"/><stop offset="0.541" stop-color="#fff600"/><stop offset="0.696" stop-color="#ff8d00"/><stop offset="0.852" stop-color="#ff3b00"/><stop offset="1.000" stop-color="#ff0200"/></linearGradient><linearGradient id="a85" gradientUnits="userSpaceOnUse" x1="41.0" x2="311.0" y1="0" y2="0"><stop offset="0.000" stop-color="#009aff"/><stop offset="0.070" stop-color="#00f4ff"/><stop offset="0.241" stop-color="#00f630"/><stop offset="0.285" stop-color="#01f600"/><stop offset="0.437" stop-color="#9bf600"/><stop offset="0.552" stop-color="#fff600"/><stop offset="0.711" stop-color="#ff8b00"/><stop offset="0.867" stop-color="#ff3900"/><stop offset="1.000" stop-color="#ff0500"/></linearGradient><linearGradient id="a86" gradientUnits="userSpaceOnUse" x1="41.0" x2="311.0" y1="0" y2="0"><stop offset="0.000" stop-color="#008bff"/><stop offset="0.085" stop-color="#00f6fd"/><stop offset="0.237" stop-color="#00f642"/><stop offset="0.296" stop-color="#01f600"/><stop offset="0.448" stop-color="#9af600"/><stop offset="0.563" stop-color="#fff600"/><stop offset="0.722" stop-color="#ff8b00"/><stop offset="0.878" stop-color="#ff3900"/><stop offset="1.000" stop-color="#ff0800"/></linearGradient><linearGradient id="a87" gradientUnits="userSpaceOnUse" x1="41.0" x2="311.0" y1="0" y2="0"><stop offset="0.000" stop-color="#007bff"/><stop offset="0.096" stop-color="#00f6fd"/><stop offset="0.248" stop-color="#00f642"/><stop offset="0.307" stop-color="#00f600"/><stop offset="0.459" stop-color="#9af600"/><stop offset="0.574" stop-color="#fff600"/><stop offset="0.733" stop-color="#ff8a00"/><stop offset="0.889" stop-color="#ff3800"/><stop offset="1.000" stop-color="#ff0c00"/></linearGradient><linearGradient id="a88" gradientUnits="userSpaceOnUse" x1="41.0" x2="311.0" y1="0" y2="0"><stop offset="0.000" stop-color="#006bff"/><stop offset="0.107" stop-color="#00f6fe"/><stop offset="0.259" stop-color="#00f643"/><stop offset="0.319" stop-color="#00f600"/><stop offset="0.474" stop-color="#9df600"/><stop offset="0.585" stop-color="#fff600"/><stop offset="0.748" stop-color="#ff8800"/><stop offset="0.904" stop-color="#ff3600"/><stop offset="1.000" stop-color="#ff0f00"/></linearGradient><linearGradient id="a89" gradientUnits="userSpaceOnUse" x1="41.0" x2="311.0" y1="0" y2="0"><stop offset="0.000" stop-color="#005bff"/><stop offset="0.119" stop-color="#00f6ff"/><stop offset="0.274" stop-color="#00f640"/><stop offset="0.333" stop-color="#03f600"/><stop offset="0.485" stop-color="#9df600"/><stop offset="0.596" stop-color="#fef600"/><stop offset="0.759" stop-color="#ff8800"/><stop offset="0.915" stop-color="#ff3600"/><stop offset="1.000" stop-color="#ff1300"/></linearGradient><linearGradient id="a90" gradientUnits="userSpaceOnUse" x1="41.0" x2="311.0" y1="0" y2="0"><stop offset="0.000" stop-color="#004bff"/><stop offset="0.130" stop-color="#00f5ff"/><stop offset="0.296" stop-color="#00f633"/><stop offset="0.344" stop-color="#02f600"/><stop offset="0.496" stop-color="#9cf600"/><stop offset="0.611" stop-color="#fff400"/><stop offset="0.767" stop-color="#ff8a00"/><stop offset="0.922" stop-color="#ff3700"/><stop offset="1.000" stop-color="#ff1700"/></linearGradient><clipPath id="clipa"><rect x="41.00" y="42.00" width="269.70" height="180.60"/></clipPath><linearGradient id="b0" gradientUnits="userSpaceOnUse" x1="396.0" x2="670.0" y1="0" y2="0"><stop offset="0.000" stop-color="#e9f600"/><stop offset="0.055" stop-color="#fff400"/><stop offset="0.215" stop-color="#ffc300"/><stop offset="0.376" stop-color="#ffaa00"/><stop offset="0.536" stop-color="#ffa800"/><stop offset="0.697" stop-color="#ffbf00"/><stop offset="0.858" stop-color="#ffed00"/><stop offset="0.891" stop-color="#fbf600"/><stop offset="1.000" stop-color="#c6f600"/></linearGradient><linearGradient id="b1" gradientUnits="userSpaceOnUse" x1="396.0" x2="670.0" y1="0" y2="0"><stop offset="0.000" stop-color="#edf600"/><stop offset="0.047" stop-color="#fff300"/><stop offset="0.208" stop-color="#ffbf00"/><stop offset="0.369" stop-color="#ffa400"/><stop offset="0.529" stop-color="#ffa000"/><stop offset="0.690" stop-color="#ffb500"/><stop offset="0.850" stop-color="#ffe100"/><stop offset="0.912" stop-color="#fdf600"/><stop offset="1.000" stop-color="#d2f600"/></linearGradient><linearGradient id="b2" gradientUnits="userSpaceOnUse" x1="396.0" x2="670.0" y1="0" y2="0"><stop offset="0.000" stop-color="#f1f600"/><stop offset="0.036" stop-color="#fff300"/><stop offset="0.197" stop-color="#ffbd00"/><stop offset="0.358" stop-color="#ff9f00"/><stop offset="0.518" stop-color="#ff9900"/><stop offset="0.679" stop-color="#ffaa00"/><stop offset="0.839" stop-color="#ffd300"/><stop offset="0.938" stop-color="#fdf600"/><stop offset="1.000" stop-color="#def600"/></linearGradient><linearGradient id="b3" gradientUnits="userSpaceOnUse" x1="396.0" x2="670.0" y1="0" y2="0"><stop offset="0.000" stop-color="#f4f600"/><stop offset="0.029" stop-color="#fff300"/><stop offset="0.190" stop-color="#ffbb00"/><stop offset="0.350" stop-color="#ff9a00"/><stop offset="0.511" stop-color="#ff9100"/><stop offset="0.672" stop-color="#ffa000"/><stop offset="0.832" stop-color="#ffc700"/><stop offset="0.964" stop-color="#fcf600"/><stop offset="1.000" stop-color="#eaf600"/></linearGradient><linearGradient id="b4" gradientUnits="userSpaceOnUse" x1="396.0" x2="670.0" y1="0" y2="0"><stop offset="0.000" stop-color="#f7f600"/><stop offset="0.026" stop-color="#fff200"/><stop offset="0.186" stop-color="#ffb800"/><stop offset="0.347" stop-color="#ff9500"/><stop offset="0.507" stop-color="#ff8a00"/><stop offset="0.668" stop-color="#ff9800"/><stop offset="0.828" stop-color="#ffbd00"/><stop offset="0.985" stop-color="#fdf600"/><stop offset="1.000" stop-color="#f6f600"/></linearGradient><linearGradient id="b5" gradientUnits="userSpaceOnUse" x1="396.0" x2="670.0" y1="0" y2="0"><stop offset="0.000" stop-color="#faf600"/><stop offset="0.026" stop-color="#ffef00"/><stop offset="0.186" stop-color="#ffb300"/><stop offset="0.347" stop-color="#ff9000"/><stop offset="0.507" stop-color="#ff8400"/><stop offset="0.668" stop-color="#ff9000"/><stop offset="0.828" stop-color="#ffb400"/><stop offset="0.989" stop-color="#ffef00"/><stop offset="1.000" stop-color="#fff400"/></linearGradient><linearGradient id="b6" gradientUnits="userSpaceOnUse" x1="396.0" x2="670.0" y1="0" y2="0"><stop offset="0.000" stop-color="#fcf600"/><stop offset="0.186" stop-color="#ffb000"/><stop offset="0.347" stop-color="#ff8b00"/><stop offset="0.507" stop-color="#ff7e00"/><stop offset="0.668" stop-color="#ff8800"/><stop offset="0.828" stop-color="#ffab00"/><stop offset="0.989" stop-color="#ffe500"/><stop offset="1.000" stop-color="#ffea00"/></linearGradient><linearGradient id="b7" gradientUnits="userSpaceOnUse" x1="396.0" x2="670.0" y1="0" y2="0"><stop offset="0.000" stop-color="#fff600"/><stop offset="0.161" stop-color="#ffb400"/><stop offset="0.321" stop-color="#ff8a00"/><stop offset="0.482" stop-color="#ff7800"/><stop offset="0.642" stop-color="#ff7e00"/><stop offset="0.803" stop-color="#ff9b00"/><stop offset="0.964" stop-color="#ffd100"/><stop offset="1.000" stop-color="#ffe000"/></linearGradient><linearGradient id="b8" gradientUnits="userSpaceOnUse" x1="396.0" x2="670.0" y1="0" y2="0"><stop offset="0.000" stop-color="#fff400"/><stop offset="0.161" stop-color="#ffb100"/><stop offset="0.321" stop-color="#ff8600"/><stop offset="0.482" stop-color="#ff7200"/><stop offset="0.642" stop-color="#ff7700"/><stop offset="0.803" stop-color="#ff9300"/><stop offset="0.964" stop-color="#ffc700"/><stop offset="1.000" stop-color="#ffd600"/></linearGradient><linearGradient id="b9" gradientUnits="userSpaceOnUse" x1="396.0" x2="670.0" y1="0" y2="0"><stop offset="0.000" stop-color="#fff300"/><stop offset="0.161" stop-color="#ffae00"/><stop offset="0.321" stop-color="#ff8200"/><stop offset="0.482" stop-color="#ff6d00"/><stop offset="0.642" stop-color="#ff7000"/><stop offset="0.803" stop-color="#ff8b00"/><stop offset="0.964" stop-color="#ffbe00"/><stop offset="1.000" stop-color="#ffcd00"/></linearGradient><linearGradient id="b10" gradientUnits="userSpaceOnUse" x1="396.0" x2="670.0" y1="0" y2="0"><stop offset="0.000" stop-color="#fff100"/><stop offset="0.161" stop-color="#ffac00"/><stop offset="0.321" stop-color="#ff7e00"/><stop offset="0.482" stop-color="#ff6800"/><stop offset="0.642" stop-color="#ff6a00"/><stop offset="0.803" stop-color="#ff8300"/><stop offset="0.964" stop-color="#ffb500"/><stop offset="1.000" stop-color="#ffc400"/></linearGradient><linearGradient id="b11" gradientUnits="userSpaceOnUse" x1="396.0" x2="670.0" y1="0" y2="0"><stop offset="0.000" stop-color="#fff000"/><stop offset="0.161" stop-color="#ffa900"/><stop offset="0.321" stop-color="#ff7a00"/><stop offset="0.482" stop-color="#ff6300"/><stop offset="0.642" stop-color="#ff6300"/><stop offset="0.803" stop-color="#ff7c00"/><stop offset="0.964" stop-color="#ffac00"/><stop offset="1.000" stop-color="#ffbb00"/></linearGradient><linearGradient id="b12" gradientUnits="userSpaceOnUse" x1="396.0" x2="670.0" y1="0" y2="0"><stop offset="0.000" stop-color="#ffef00"/><stop offset="0.161" stop-color="#ffa700"/><stop offset="0.321" stop-color="#ff7700"/><stop offset="0.482" stop-color="#ff5e00"/><stop offset="0.642" stop-color="#ff5d00"/><stop offset="0.803" stop-color="#ff7500"/><stop offset="0.964" stop-color="#ffa400"/><stop offset="1.000" stop-color="#ffb200"/></linearGradient><linearGradient id="b13" gradientUnits="userSpaceOnUse" x1="396.0" x2="670.0" y1="0" y2="0"><stop offset="0.000" stop-color="#ffee00"/><stop offset="0.161" stop-color="#ffa500"/><stop offset="0.321" stop-color="#ff7300"/><stop offset="0.482" stop-color="#ff5a00"/><stop offset="0.642" stop-color="#ff5800"/><stop offset="0.803" stop-color="#ff6e00"/><stop offset="0.964" stop-color="#ff9b00"/><stop offset="1.000" stop-color="#ffa900"/></linearGradient><linearGradient id="b14" gradientUnits="userSpaceOnUse" x1="396.0" x2="670.0" y1="0" y2="0"><stop offset="0.000" stop-color="#ffee00"/><stop offset="0.161" stop-color="#ffa300"/><stop offset="0.321" stop-color="#ff7000"/><stop offset="0.482" stop-color="#ff5500"/><stop offset="0.642" stop-color="#ff5200"/><stop offset="0.803" stop-color="#ff6700"/><stop offset="0.964" stop-color="#ff9300"/><stop offset="1.000" stop-color="#ffa100"/></linearGradient><linearGradient id="b15" gradientUnits="userSpaceOnUse" x1="396.0" x2="670.0" y1="0" y2="0"><stop offset="0.000" stop-color="#ffed00"/><stop offset="0.161" stop-color="#ffa100"/><stop offset="0.321" stop-color="#ff6d00"/><stop offset="0.482" stop-color="#ff5100"/><stop offset="0.642" stop-color="#ff4d00"/><stop offset="0.803" stop-color="#ff6000"/><stop offset="0.964" stop-color="#ff8b00"/><stop offset="1.000" stop-color="#ff9900"/></linearGradient><linearGradient id="b16" gradientUnits="userSpaceOnUse" x1="396.0" x2="670.0" y1="0" y2="0"><stop offset="0.000" stop-color="#ffed00"/><stop offset="0.161" stop-color="#ffa000"/><stop offset="0.321" stop-color="#ff6b00"/><stop offset="0.482" stop-color="#ff4d00"/><stop offset="0.642" stop-color="#ff4800"/><stop offset="0.803" stop-color="#ff5a00"/><stop offset="0.964" stop-color="#ff8400"/><stop offset="1.000" stop-color="#ff9100"/></linearGradient><linearGradient id="b17" gradientUnits="userSpaceOnUse" x1="396.0" x2="670.0" y1="0" y2="0"><stop offset="0.000" stop-color="#ffed00"/><stop offset="0.161" stop-color="#ff9f00"/><stop offset="0.321" stop-color="#ff6800"/><stop offset="0.482" stop-color="#ff4a00"/><stop offset="0.642" stop-color="#ff4300"/><stop offset="0.803" stop-color="#ff5400"/><stop offset="0.964" stop-color="#ff7c00"/><stop offset="1.000" stop-color="#ff8900"/></linearGradient><linearGradient id="b18" gradientUnits="userSpaceOnUse" x1="396.0" x2="670.0" y1="0" y2="0"><stop offset="0.000" stop-color="#ffee00"/><stop offset="0.161" stop-color="#ff9e00"/><stop offset="0.321" stop-color="#ff6600"/><stop offset="0.482" stop-color="#ff4600"/><stop offset="0.642" stop-color="#ff3e00"/><stop offset="0.803" stop-color="#ff4e00"/><stop offset="0.964" stop-color="#ff7500"/><stop offset="1.000" stop-color="#ff8200"/></linearGradient><linearGradient id="b19" gradientUnits="userSpaceOnUse" x1="396.0" x2="670.0" y1="0" y2="0"><stop offset="0.000" stop-color="#ffee00"/><stop offset="0.161" stop-color="#ff9d00"/><stop offset="0.321" stop-color="#ff6400"/><stop offset="0.482" stop-color="#ff4300"/><stop offset="0.642" stop-color="#ff3a00"/><stop offset="0.803" stop-color="#ff4800"/><stop offset="0.964" stop-color="#ff6e00"/><stop offset="1.000" stop-color="#ff7a00"/></linearGradient><linearGradient id="b20" gradientUnits="userSpaceOnUse" x1="396.0" x2="670.0" y1="0" y2="0"><stop offset="0.000" stop-color="#ffef00"/><stop offset="0.161" stop-color="#ff9d00"/><stop offset="0.321" stop-color="#ff6300"/><stop offset="0.482" stop-color="#ff4000"/><stop offset="0.642" stop-color="#ff3500"/><stop offset="0.803" stop-color="#ff4300"/><stop offset="0.964" stop-color="#ff6800"/><stop offset="1.000" stop-color="#ff7300"/></linearGradient><linearGradient id="b21" gradientUnits="userSpaceOnUse" x1="396.0" x2="670.0" y1="0" y2="0"><stop offset="0.000" stop-color="#fff000"/><stop offset="0.161" stop-color="#ff9d00"/><stop offset="0.321" stop-color="#ff6100"/><stop offset="0.482" stop-color="#ff3d00"/><stop offset="0.642" stop-color="#ff3100"/><stop offset="0.803" stop-color="#ff3d00"/><stop offset="0.964" stop-color="#ff6100"/><stop offset="1.000" stop-color="#ff6d00"/></linearGradient><linearGradient id="b22" gradientUnits="userSpaceOnUse" x1="396.0" x2="670.0" y1="0" y2="0"><stop offset="0.000" stop-color="#fff100"/><stop offset="0.161" stop-color="#ff9d00"/><stop offset="0.321" stop-color="#ff6000"/><stop offset="0.482" stop-color="#ff3b00"/><stop offset="0.642" stop-color="#ff2e00"/><stop offset="0.803" stop-color="#ff3800"/><stop offset="0.964" stop-color="#ff5b00"/><stop offset="1.000" stop-color="#ff6600"/></linearGradient><linearGradient id="b23" gradientUnits="userSpaceOnUse" x1="396.0" x2="670.0" y1="0" y2="0"><stop offset="0.000" stop-color="#fff300"/><stop offset="0.161" stop-color="#ff9d00"/><stop offset="0.321" stop-color="#ff5f00"/><stop offset="0.482" stop-color="#ff3900"/><stop offset="0.642" stop-color="#ff2a00"/><stop offset="0.803" stop-color="#ff3400"/><stop offset="0.964" stop-color="#ff5500"/><stop offset="1.000" stop-color="#ff6000"/></linearGradient><linearGradient id="b24" gradientUnits="userSpaceOnUse" x1="396.0" x2="670.0" y1="0" y2="0"><stop offset="0.000" stop-color="#fff500"/><stop offset="0.161" stop-color="#ff9e00"/><stop offset="0.321" stop-color="#ff5e00"/><stop offset="0.482" stop-color="#ff3700"/><stop offset="0.642" stop-color="#ff2700"/><stop offset="0.803" stop-color="#ff2f00"/><stop offset="0.964" stop-color="#ff4f00"/><stop offset="1.000" stop-color="#ff5a00"/></linearGradient><linearGradient id="b25" gradientUnits="userSpaceOnUse" x1="396.0" x2="670.0" y1="0" y2="0"><stop offset="0.000" stop-color="#fef600"/><stop offset="0.168" stop-color="#ff9b00"/><stop offset="0.328" stop-color="#ff5b00"/><stop offset="0.489" stop-color="#ff3400"/><stop offset="0.650" stop-color="#ff2400"/><stop offset="0.810" stop-color="#ff2c00"/><stop offset="0.971" stop-color="#ff4b00"/><stop offset="1.000" stop-color="#ff5400"/></linearGradient><linearGradient id="b26" gradientUnits="userSpaceOnUse" x1="396.0" x2="670.0" y1="0" y2="0"><stop offset="0.000" stop-color="#fcf600"/><stop offset="0.179" stop-color="#ff9600"/><stop offset="0.339" stop-color="#ff5700"/><stop offset="0.500" stop-color="#ff3000"/><stop offset="0.661" stop-color="#ff2000"/><stop offset="0.821" stop-color="#ff2900"/><stop offset="0.982" stop-color="#ff4900"/><stop offset="1.000" stop-color="#ff4e00"/></linearGradient><linearGradient id="b27" gradientUnits="userSpaceOnUse" x1="396.0" x2="670.0" y1="0" y2="0"><stop offset="0.000" stop-color="#f9f600"/><stop offset="0.018" stop-color="#fff000"/><stop offset="0.179" stop-color="#ff9700"/><stop offset="0.339" stop-color="#ff5700"/><stop offset="0.500" stop-color="#ff2e00"/><stop offset="0.661" stop-color="#ff1e00"/><stop offset="0.821" stop-color="#ff2500"/><stop offset="0.982" stop-color="#ff4400"/><stop offset="1.000" stop-color="#ff4900"/></linearGradient><linearGradient id="b28" gradientUnits="userSpaceOnUse" x1="396.0" x2="670.0" y1="0" y2="0"><stop offset="0.000" stop-color="#f6f600"/><stop offset="0.018" stop-color="#fff200"/><stop offset="0.179" stop-color="#ff9900"/><stop offset="0.339" stop-color="#ff5700"/><stop offset="0.500" stop-color="#ff2d00"/><stop offset="0.661" stop-color="#ff1b00"/><stop offset="0.821" stop-color="#ff2100"/><stop offset="0.982" stop-color="#ff3f00"/><stop offset="1.000" stop-color="#ff4400"/></linearGradient><linearGradient id="b29" gradientUnits="userSpaceOnUse" x1="396.0" x2="670.0" y1="0" y2="0"><stop offset="0.000" stop-color="#f3f600"/><stop offset="0.022" stop-color="#fff300"/><stop offset="0.182" stop-color="#ff9800"/><stop offset="0.343" stop-color="#ff5600"/><stop offset="0.504" stop-color="#ff2b00"/><stop offset="0.664" stop-color="#ff1900"/><stop offset="0.825" stop-color="#ff1e00"/><stop offset="0.985" stop-color="#ff3b00"/><stop offset="1.000" stop-color="#ff3f00"/></linearGradient><linearGradient id="b30" gradientUnits="userSpaceOnUse" x1="396.0" x2="670.0" y1="0" y2="0"><stop offset="0.000" stop-color="#f0f600"/><stop offset="0.026" stop-color="#fff300"/><stop offset="0.186" stop-color="#ff9800"/><stop offset="0.347" stop-color="#ff5500"/><stop offset="0.507" stop-color="#ff2a00"/><stop offset="0.668" stop-color="#ff1600"/><stop offset="0.828" stop-color="#ff1b00"/><stop offset="0.989" stop-color="#ff3700"/><stop offset="1.000" stop-color="#ff3a00"/></linearGradient><linearGradient id="b31" gradientUnits="userSpaceOnUse" x1="396.0" x2="670.0" y1="0" y2="0"><stop offset="0.000" stop-color="#ecf600"/><stop offset="0.029" stop-color="#fff400"/><stop offset="0.190" stop-color="#ff9800"/><stop offset="0.350" stop-color="#ff5500"/><stop offset="0.511" stop-color="#ff2900"/><stop offset="0.672" stop-color="#ff1400"/><stop offset="0.832" stop-color="#ff1800"/><stop offset="0.993" stop-color="#ff3400"/><stop offset="1.000" stop-color="#ff3500"/></linearGradient><linearGradient id="b32" gradientUnits="userSpaceOnUse" x1="396.0" x2="670.0" y1="0" y2="0"><stop offset="0.000" stop-color="#e8f600"/><stop offset="0.033" stop-color="#fff500"/><stop offset="0.193" stop-color="#ff9900"/><stop offset="0.354" stop-color="#ff5400"/><stop offset="0.515" stop-color="#ff2700"/><stop offset="0.675" stop-color="#ff1200"/><stop offset="0.836" stop-color="#ff1500"/><stop offset="0.996" stop-color="#ff3000"/><stop offset="1.000" stop-color="#ff3100"/></linearGradient><linearGradient id="b33" gradientUnits="userSpaceOnUse" x1="396.0" x2="670.0" y1="0" y2="0"><stop offset="0.000" stop-color="#e4f600"/><stop offset="0.040" stop-color="#fff400"/><stop offset="0.201" stop-color="#ff9700"/><stop offset="0.361" stop-color="#ff5200"/><stop offset="0.522" stop-color="#ff2600"/><stop offset="0.682" stop-color="#ff1100"/><stop offset="0.843" stop-color="#ff1300"/><stop offset="1.000" stop-color="#ff2d00"/></linearGradient><linearGradient id="b34" gradientUnits="userSpaceOnUse" x1="396.0" x2="670.0" y1="0" y2="0"><stop offset="0.000" stop-color="#e0f600"/><stop offset="0.044" stop-color="#fff500"/><stop offset="0.204" stop-color="#ff9800"/><stop offset="0.365" stop-color="#ff5200"/><stop offset="0.526" stop-color="#ff2500"/><stop offset="0.686" stop-color="#ff0f00"/><stop offset="0.847" stop-color="#ff1100"/><stop offset="1.000" stop-color="#ff2900"/></linearGradient><linearGradient id="b35" gradientUnits="userSpaceOnUse" x1="396.0" x2="670.0" y1="0" y2="0"><stop offset="0.000" stop-color="#dbf600"/><stop offset="0.051" stop-color="#fff400"/><stop offset="0.212" stop-color="#ff9700"/><stop offset="0.372" stop-color="#ff5100"/><stop offset="0.533" stop-color="#ff2300"/><stop offset="0.693" stop-color="#ff0d00"/><stop offset="0.854" stop-color="#ff0f00"/><stop offset="1.000" stop-color="#ff2600"/></linearGradient><linearGradient id="b36" gradientUnits="userSpaceOnUse" x1="396.0" x2="670.0" y1="0" y2="0"><stop offset="0.000" stop-color="#d7f600"/><stop offset="0.058" stop-color="#fff300"/><stop offset="0.219" stop-color="#ff9600"/><stop offset="0.380" stop-color="#ff5000"/><stop offset="0.540" stop-color="#ff2200"/><stop offset="0.701" stop-color="#ff0c00"/><stop offset="0.861" stop-color="#ff0e00"/><stop offset="1.000" stop-color="#ff2200"/></linearGradient><linearGradient id="b37" gradientUnits="userSpaceOnUse" x1="396.0" x2="670.0" y1="0" y2="0"><stop offset="0.000" stop-color="#d1f600"/><stop offset="0.062" stop-color="#fff500"/><stop offset="0.223" stop-color="#ff9700"/><stop offset="0.383" stop-color="#ff5000"/><stop offset="0.544" stop-color="#ff2200"/><stop offset="0.704" stop-color="#ff0b00"/><stop offset="0.865" stop-color="#ff0c00"/><stop offset="1.000" stop-color="#ff1f00"/></linearGradient><linearGradient id="b38" gradientUnits="userSpaceOnUse" x1="396.0" x2="670.0" y1="0" y2="0"><stop offset="0.000" stop-color="#ccf600"/><stop offset="0.069" stop-color="#fff500"/><stop offset="0.230" stop-color="#ff9600"/><stop offset="0.391" stop-color="#ff5000"/><stop offset="0.551" stop-color="#ff2100"/><stop offset="0.712" stop-color="#ff0a00"/><stop offset="0.872" stop-color="#ff0b00"/><stop offset="1.000" stop-color="#ff1c00"/></linearGradient><linearGradient id="b39" gradientUnits="userSpaceOnUse" x1="396.0" x2="670.0" y1="0" y2="0"><stop offset="0.000" stop-color="#c7f600"/><stop offset="0.077" stop-color="#fff400"/><stop offset="0.237" stop-color="#ff9600"/><stop offset="0.398" stop-color="#ff4f00"/><stop offset="0.558" stop-color="#ff2000"/><stop offset="0.719" stop-color="#ff0900"/><stop offset="0.880" stop-color="#ff0900"/><stop offset="1.000" stop-color="#ff1a00"/></linearGradient><linearGradient id="b40" gradientUnits="userSpaceOnUse" x1="396.0" x2="670.0" y1="0" y2="0"><stop offset="0.000" stop-color="#c1f600"/><stop offset="0.084" stop-color="#fff400"/><stop offset="0.245" stop-color="#ff9500"/><stop offset="0.405" stop-color="#ff4e00"/><stop offset="0.566" stop-color="#ff1f00"/><stop offset="0.726" stop-color="#ff0800"/><stop offset="0.887" stop-color="#ff0900"/><stop offset="1.000" stop-color="#ff1700"/></linearGradient><linearGradient id="b41" gradientUnits="userSpaceOnUse" x1="396.0" x2="670.0" y1="0" y2="0"><stop offset="0.000" stop-color="#bbf600"/><stop offset="0.091" stop-color="#fff400"/><stop offset="0.252" stop-color="#ff9500"/><stop offset="0.412" stop-color="#ff4e00"/><stop offset="0.573" stop-color="#ff1f00"/><stop offset="0.734" stop-color="#ff0700"/><stop offset="0.894" stop-color="#ff0800"/><stop offset="1.000" stop-color="#ff1500"/></linearGradient><linearGradient id="b42" gradientUnits="userSpaceOnUse" x1="396.0" x2="670.0" y1="0" y2="0"><stop offset="0.000" stop-color="#b4f600"/><stop offset="0.099" stop-color="#fff500"/><stop offset="0.259" stop-color="#ff9500"/><stop offset="0.420" stop-color="#ff4e00"/><stop offset="0.580" stop-color="#ff1f00"/><stop offset="0.741" stop-color="#ff0700"/><stop offset="0.901" stop-color="#ff0700"/><stop offset="1.000" stop-color="#ff1300"/></linearGradient><linearGradient id="b43" gradientUnits="userSpaceOnUse" x1="396.0" x2="670.0" y1="0" y2="0"><stop offset="0.000" stop-color="#aef600"/><stop offset="0.106" stop-color="#fff500"/><stop offset="0.266" stop-color="#ff9600"/><stop offset="0.427" stop-color="#ff4e00"/><stop offset="0.588" stop-color="#ff1e00"/><stop offset="0.748" stop-color="#ff0700"/><stop offset="0.909" stop-color="#ff0700"/><stop offset="1.000" stop-color="#ff1100"/></linearGradient><linearGradient id="b44" gradientUnits="userSpaceOnUse" x1="396.0" x2="670.0" y1="0" y2="0"><stop offset="0.000" stop-color="#a7f600"/><stop offset="0.113" stop-color="#fff500"/><stop offset="0.274" stop-color="#ff9600"/><stop offset="0.434" stop-color="#ff4e00"/><stop offset="0.595" stop-color="#ff1e00"/><stop offset="0.755" stop-color="#ff0600"/><stop offset="0.916" stop-color="#ff0600"/><stop offset="1.000" stop-color="#ff1000"/></linearGradient><linearGradient id="b45" gradientUnits="userSpaceOnUse" x1="396.0" x2="670.0" y1="0" y2="0"><stop offset="0.000" stop-color="#a0f600"/><stop offset="0.120" stop-color="#fff600"/><stop offset="0.281" stop-color="#ff9600"/><stop offset="0.442" stop-color="#ff4f00"/><stop offset="0.602" stop-color="#ff1f00"/><stop offset="0.763" stop-color="#ff0600"/><stop offset="0.923" stop-color="#ff0600"/><stop offset="1.000" stop-color="#ff0e00"/></linearGradient><linearGradient id="b46" gradientUnits="userSpaceOnUse" x1="396.0" x2="670.0" y1="0" y2="0"><stop offset="0.000" stop-color="#99f600"/><stop offset="0.131" stop-color="#fff500"/><stop offset="0.292" stop-color="#ff9500"/><stop offset="0.453" stop-color="#ff4e00"/><stop offset="0.613" stop-color="#ff1e00"/><stop offset="0.774" stop-color="#ff0600"/><stop offset="0.934" stop-color="#ff0600"/><stop offset="1.000" stop-color="#ff0d00"/></linearGradient><linearGradient id="b47" gradientUnits="userSpaceOnUse" x1="396.0" x2="670.0" y1="0" y2="0"><stop offset="0.000" stop-color="#91f600"/><stop offset="0.139" stop-color="#fff600"/><stop offset="0.299" stop-color="#ff9600"/><stop offset="0.460" stop-color="#ff4e00"/><stop offset="0.620" stop-color="#ff1f00"/><stop offset="0.781" stop-color="#ff0700"/><stop offset="0.942" stop-color="#ff0700"/><stop offset="1.000" stop-color="#ff0c00"/></linearGradient><linearGradient id="b48" gradientUnits="userSpaceOnUse" x1="396.0" x2="670.0" y1="0" y2="0"><stop offset="0.000" stop-color="#89f600"/><stop offset="0.146" stop-color="#fef600"/><stop offset="0.318" stop-color="#ff9100"/><stop offset="0.478" stop-color="#ff4b00"/><stop offset="0.639" stop-color="#ff1d00"/><stop offset="0.799" stop-color="#ff0600"/><stop offset="0.960" stop-color="#ff0800"/><stop offset="1.000" stop-color="#ff0c00"/></linearGradient><linearGradient id="b49" gradientUnits="userSpaceOnUse" x1="396.0" x2="670.0" y1="0" y2="0"><stop offset="0.000" stop-color="#81f600"/><stop offset="0.153" stop-color="#fdf600"/><stop offset="0.339" stop-color="#ff8b00"/><stop offset="0.500" stop-color="#ff4700"/><stop offset="0.661" stop-color="#ff1b00"/><stop offset="0.821" stop-color="#ff0600"/><stop offset="0.982" stop-color="#ff0900"/><stop offset="1.000" stop-color="#ff0b00"/></linearGradient><linearGradient id="b50" gradientUnits="userSpaceOnUse" x1="396.0" x2="670.0" y1="0" y2="0"><stop offset="0.000" stop-color="#79f600"/><stop offset="0.153" stop-color="#f6f600"/><stop offset="0.172" stop-color="#fff200"/><stop offset="0.332" stop-color="#ff9400"/><stop offset="0.493" stop-color="#ff4d00"/><stop offset="0.653" stop-color="#ff1f00"/><stop offset="0.814" stop-color="#ff0800"/><stop offset="0.974" stop-color="#ff0900"/><stop offset="1.000" stop-color="#ff0b00"/></linearGradient><linearGradient id="b51" gradientUnits="userSpaceOnUse" x1="396.0" x2="670.0" y1="0" y2="0"><stop offset="0.000" stop-color="#70f600"/><stop offset="0.153" stop-color="#eef600"/><stop offset="0.179" stop-color="#fff400"/><stop offset="0.339" stop-color="#ff9500"/><stop offset="0.500" stop-color="#ff4f00"/><stop offset="0.661" stop-color="#ff2000"/><stop offset="0.821" stop-color="#ff0900"/><stop offset="0.982" stop-color="#ff0a00"/><stop offset="1.000" stop-color="#ff0b00"/></linearGradient><linearGradient id="b52" gradientUnits="userSpaceOnUse" x1="396.0" x2="670.0" y1="0" y2="0"><stop offset="0.000" stop-color="#68f600"/><stop offset="0.153" stop-color="#e7f600"/><stop offset="0.190" stop-color="#fff300"/><stop offset="0.350" stop-color="#ff9500"/><stop offset="0.511" stop-color="#ff4f00"/><stop offset="0.672" stop-color="#ff2000"/><stop offset="0.832" stop-color="#ff0a00"/><stop offset="0.993" stop-color="#ff0b00"/><stop offset="1.000" stop-color="#ff0c00"/></linearGradient><linearGradient id="b53" gradientUnits="userSpaceOnUse" x1="396.0" x2="670.0" y1="0" y2="0"><stop offset="0.000" stop-color="#5ff600"/><stop offset="0.153" stop-color="#dff600"/><stop offset="0.201" stop-color="#fff300"/><stop offset="0.361" stop-color="#ff9500"/><stop offset="0.522" stop-color="#ff4f00"/><stop offset="0.682" stop-color="#ff2100"/><stop offset="0.843" stop-color="#ff0b00"/><stop offset="1.000" stop-color="#ff0c00"/></linearGradient><linearGradient id="b54" gradientUnits="userSpaceOnUse" x1="396.0" x2="670.0" y1="0" y2="0"><stop offset="0.000" stop-color="#55f600"/><stop offset="0.153" stop-color="#d7f600"/><stop offset="0.208" stop-color="#fff500"/><stop offset="0.369" stop-color="#ff9700"/><stop offset="0.529" stop-color="#ff5100"/><stop offset="0.690" stop-color="#ff2300"/><stop offset="0.850" stop-color="#ff0c00"/><stop offset="1.000" stop-color="#ff0d00"/></linearGradient><linearGradient id="b55" gradientUnits="userSpaceOnUse" x1="396.0" x2="670.0" y1="0" y2="0"><stop offset="0.000" stop-color="#4cf600"/><stop offset="0.153" stop-color="#cff600"/><stop offset="0.219" stop-color="#fff500"/><stop offset="0.380" stop-color="#ff9700"/><stop offset="0.540" stop-color="#ff5200"/><stop offset="0.701" stop-color="#ff2400"/><stop offset="0.861" stop-color="#ff0e00"/><stop offset="1.000" stop-color="#ff0e00"/></linearGradient><linearGradient id="b56" gradientUnits="userSpaceOnUse" x1="396.0" x2="670.0" y1="0" y2="0"><stop offset="0.000" stop-color="#42f600"/><stop offset="0.153" stop-color="#c7f600"/><stop offset="0.230" stop-color="#fff500"/><stop offset="0.391" stop-color="#ff9800"/><stop offset="0.551" stop-color="#ff5200"/><stop offset="0.712" stop-color="#ff2500"/><stop offset="0.872" stop-color="#ff0f00"/><stop offset="1.000" stop-color="#ff0f00"/></linearGradient><linearGradient id="b57" gradientUnits="userSpaceOnUse" x1="396.0" x2="670.0" y1="0" y2="0"><stop offset="0.000" stop-color="#38f600"/><stop offset="0.153" stop-color="#bef600"/><stop offset="0.241" stop-color="#fff500"/><stop offset="0.401" stop-color="#ff9800"/><stop offset="0.562" stop-color="#ff5300"/><stop offset="0.723" stop-color="#ff2600"/><stop offset="0.883" stop-color="#ff1100"/><stop offset="1.000" stop-color="#ff1000"/></linearGradient><linearGradient id="b58" gradientUnits="userSpaceOnUse" x1="396.0" x2="670.0" y1="0" y2="0"><stop offset="0.000" stop-color="#2ef600"/><stop offset="0.153" stop-color="#b5f600"/><stop offset="0.252" stop-color="#fff600"/><stop offset="0.412" stop-color="#ff9900"/><stop offset="0.573" stop-color="#ff5500"/><stop offset="0.734" stop-color="#ff2800"/><stop offset="0.894" stop-color="#ff1300"/><stop offset="1.000" stop-color="#ff1200"/></linearGradient><linearGradient id="b59" gradientUnits="userSpaceOnUse" x1="396.0" x2="670.0" y1="0" y2="0"><stop offset="0.000" stop-color="#23f600"/><stop offset="0.153" stop-color="#acf600"/><stop offset="0.266" stop-color="#fff400"/><stop offset="0.427" stop-color="#ff9800"/><stop offset="0.588" stop-color="#ff5500"/><stop offset="0.748" stop-color="#ff2900"/><stop offset="0.909" stop-color="#ff1500"/><stop offset="1.000" stop-color="#ff1400"/></linearGradient><linearGradient id="b60" gradientUnits="userSpaceOnUse" x1="396.0" x2="670.0" y1="0" y2="0"><stop offset="0.000" stop-color="#18f600"/><stop offset="0.153" stop-color="#a2f600"/><stop offset="0.277" stop-color="#fff500"/><stop offset="0.438" stop-color="#ff9900"/><stop offset="0.599" stop-color="#ff5600"/><stop offset="0.759" stop-color="#ff2b00"/><stop offset="0.920" stop-color="#ff1700"/><stop offset="1.000" stop-color="#ff1600"/></linearGradient><linearGradient id="b61" gradientUnits="userSpaceOnUse" x1="396.0" x2="670.0" y1="0" y2="0"><stop offset="0.000" stop-color="#0df600"/><stop offset="0.153" stop-color="#98f600"/><stop offset="0.288" stop-color="#fff600"/><stop offset="0.449" stop-color="#ff9b00"/><stop offset="0.609" stop-color="#ff5800"/><stop offset="0.770" stop-color="#ff2d00"/><stop offset="0.931" stop-color="#ff1900"/><stop offset="1.000" stop-color="#ff1800"/></linearGradient><linearGradient id="b62" gradientUnits="userSpaceOnUse" x1="396.0" x2="670.0" y1="0" y2="0"><stop offset="0.000" stop-color="#02f600"/><stop offset="0.153" stop-color="#8ff600"/><stop offset="0.299" stop-color="#fef600"/><stop offset="0.467" stop-color="#ff9900"/><stop offset="0.628" stop-color="#ff5700"/><stop offset="0.788" stop-color="#ff2d00"/><stop offset="0.949" stop-color="#ff1b00"/><stop offset="1.000" stop-color="#ff1b00"/></linearGradient><linearGradient id="b63" gradientUnits="userSpaceOnUse" x1="396.0" x2="670.0" y1="0" y2="0"><stop offset="0.000" stop-color="#00f609"/><stop offset="0.015" stop-color="#05f600"/><stop offset="0.168" stop-color="#91f600"/><stop offset="0.314" stop-color="#fff600"/><stop offset="0.474" stop-color="#ff9c00"/><stop offset="0.635" stop-color="#ff5a00"/><stop offset="0.796" stop-color="#ff3000"/><stop offset="0.956" stop-color="#ff1e00"/><stop offset="1.000" stop-color="#ff1e00"/></linearGradient><linearGradient id="b64" gradientUnits="userSpaceOnUse" x1="396.0" x2="670.0" y1="0" y2="0"><stop offset="0.000" stop-color="#00f615"/><stop offset="0.022" stop-color="#01f600"/><stop offset="0.175" stop-color="#8cf600"/><stop offset="0.325" stop-color="#fef600"/><stop offset="0.496" stop-color="#ff9900"/><stop offset="0.657" stop-color="#ff5900"/><stop offset="0.818" stop-color="#ff3100"/><stop offset="0.978" stop-color="#ff2100"/><stop offset="1.000" stop-color="#ff2100"/></linearGradient><linearGradient id="b65" gradientUnits="userSpaceOnUse" x1="396.0" x2="670.0" y1="0" y2="0"><stop offset="0.000" stop-color="#00f621"/><stop offset="0.033" stop-color="#00f600"/><stop offset="0.186" stop-color="#8bf600"/><stop offset="0.339" stop-color="#fff600"/><stop offset="0.504" stop-color="#ff9c00"/><stop offset="0.664" stop-color="#ff5c00"/><stop offset="0.825" stop-color="#ff3400"/><stop offset="0.985" stop-color="#ff2400"/><stop offset="1.000" stop-color="#ff2400"/></linearGradient><linearGradient id="b66" gradientUnits="userSpaceOnUse" x1="396.0" x2="670.0" y1="0" y2="0"><stop offset="0.000" stop-color="#00f62d"/><stop offset="0.047" stop-color="#02f600"/><stop offset="0.201" stop-color="#8df600"/><stop offset="0.350" stop-color="#fdf600"/><stop offset="0.533" stop-color="#ff9600"/><stop offset="0.693" stop-color="#ff5900"/><stop offset="0.854" stop-color="#ff3400"/><stop offset="1.000" stop-color="#ff2700"/></linearGradient><linearGradient id="b67" gradientUnits="userSpaceOnUse" x1="396.0" x2="670.0" y1="0" y2="0"><stop offset="0.000" stop-color="#00f63a"/><stop offset="0.058" stop-color="#01f600"/><stop offset="0.212" stop-color="#8bf600"/><stop offset="0.365" stop-color="#fdf600"/><stop offset="0.544" stop-color="#ff9800"/><stop offset="0.704" stop-color="#ff5c00"/><stop offset="0.865" stop-color="#ff3700"/><stop offset="1.000" stop-color="#ff2b00"/></linearGradient><linearGradient id="b68" gradientUnits="userSpaceOnUse" x1="396.0" x2="670.0" y1="0" y2="0"><stop offset="0.000" stop-color="#00f647"/><stop offset="0.073" stop-color="#03f600"/><stop offset="0.226" stop-color="#8cf600"/><stop offset="0.380" stop-color="#fdf600"/><stop offset="0.558" stop-color="#ff9900"/><stop offset="0.719" stop-color="#ff5e00"/><stop offset="0.880" stop-color="#ff3a00"/><stop offset="1.000" stop-color="#ff2f00"/></linearGradient><linearGradient id="b69" gradientUnits="userSpaceOnUse" x1="396.0" x2="670.0" y1="0" y2="0"><stop offset="0.000" stop-color="#00f653"/><stop offset="0.084" stop-color="#01f600"/><stop offset="0.237" stop-color="#8af600"/><stop offset="0.391" stop-color="#fbf600"/><stop offset="0.412" stop-color="#ffed00"/><stop offset="0.573" stop-color="#ff9a00"/><stop offset="0.734" stop-color="#ff6000"/><stop offset="0.894" stop-color="#ff3d00"/><stop offset="1.000" stop-color="#ff3300"/></linearGradient><linearGradient id="b70" gradientUnits="userSpaceOnUse" x1="396.0" x2="670.0" y1="0" y2="0"><stop offset="0.000" stop-color="#00f661"/><stop offset="0.095" stop-color="#00f601"/><stop offset="0.255" stop-color="#8df600"/><stop offset="0.409" stop-color="#fdf600"/><stop offset="0.591" stop-color="#ff9a00"/><stop offset="0.752" stop-color="#ff6100"/><stop offset="0.912" stop-color="#ff4000"/><stop offset="1.000" stop-color="#ff3700"/></linearGradient><linearGradient id="b71" gradientUnits="userSpaceOnUse" x1="396.0" x2="670.0" y1="0" y2="0"><stop offset="0.000" stop-color="#00f66e"/><stop offset="0.109" stop-color="#01f600"/><stop offset="0.263" stop-color="#88f600"/><stop offset="0.416" stop-color="#f8f600"/><stop offset="0.434" stop-color="#fff200"/><stop offset="0.595" stop-color="#ffa000"/><stop offset="0.755" stop-color="#ff6600"/><stop offset="0.916" stop-color="#ff4400"/><stop offset="1.000" stop-color="#ff3c00"/></linearGradient><linearGradient id="b72" gradientUnits="userSpaceOnUse" x1="396.0" x2="670.0" y1="0" y2="0"><stop offset="0.000" stop-color="#00f67c"/><stop offset="0.120" stop-color="#00f601"/><stop offset="0.288" stop-color="#91f600"/><stop offset="0.442" stop-color="#fef600"/><stop offset="0.613" stop-color="#ffa000"/><stop offset="0.774" stop-color="#ff6800"/><stop offset="0.934" stop-color="#ff4700"/><stop offset="1.000" stop-color="#ff4100"/></linearGradient><linearGradient id="b73" gradientUnits="userSpaceOnUse" x1="396.0" x2="670.0" y1="0" y2="0"><stop offset="0.000" stop-color="#00f68a"/><stop offset="0.135" stop-color="#00f600"/><stop offset="0.292" stop-color="#88f600"/><stop offset="0.445" stop-color="#f6f600"/><stop offset="0.467" stop-color="#fff200"/><stop offset="0.628" stop-color="#ffa200"/><stop offset="0.788" stop-color="#ff6b00"/><stop offset="0.949" stop-color="#ff4b00"/><stop offset="1.000" stop-color="#ff4600"/></linearGradient><linearGradient id="b74" gradientUnits="userSpaceOnUse" x1="396.0" x2="670.0" y1="0" y2="0"><stop offset="0.000" stop-color="#00f698"/><stop offset="0.146" stop-color="#00f603"/><stop offset="0.332" stop-color="#9cf600"/><stop offset="0.474" stop-color="#fef600"/><stop offset="0.642" stop-color="#ffa400"/><stop offset="0.803" stop-color="#ff6e00"/><stop offset="0.964" stop-color="#ff4f00"/><stop offset="1.000" stop-color="#ff4b00"/></linearGradient><linearGradient id="b75" gradientUnits="userSpaceOnUse" x1="396.0" x2="670.0" y1="0" y2="0"><stop offset="0.000" stop-color="#00f6a7"/><stop offset="0.153" stop-color="#00f609"/><stop offset="0.168" stop-color="#04f600"/><stop offset="0.321" stop-color="#88f600"/><stop offset="0.474" stop-color="#f4f600"/><stop offset="0.496" stop-color="#fff400"/><stop offset="0.657" stop-color="#ffa600"/><stop offset="0.818" stop-color="#ff7100"/><stop offset="0.978" stop-color="#ff5300"/><stop offset="1.000" stop-color="#ff5100"/></linearGradient><linearGradient id="b76" gradientUnits="userSpaceOnUse" x1="396.0" x2="670.0" y1="0" y2="0"><stop offset="0.000" stop-color="#00f6b5"/><stop offset="0.153" stop-color="#00f617"/><stop offset="0.179" stop-color="#01f600"/><stop offset="0.332" stop-color="#84f600"/><stop offset="0.485" stop-color="#f0f600"/><stop offset="0.515" stop-color="#fff400"/><stop offset="0.675" stop-color="#ffa700"/><stop offset="0.836" stop-color="#ff7300"/><stop offset="0.996" stop-color="#ff5700"/><stop offset="1.000" stop-color="#ff5600"/></linearGradient><linearGradient id="b77" gradientUnits="userSpaceOnUse" x1="396.0" x2="670.0" y1="0" y2="0"><stop offset="0.000" stop-color="#00f6c4"/><stop offset="0.153" stop-color="#00f624"/><stop offset="0.193" stop-color="#02f600"/><stop offset="0.347" stop-color="#84f600"/><stop offset="0.500" stop-color="#eef600"/><stop offset="0.533" stop-color="#fff300"/><stop offset="0.693" stop-color="#ffa900"/><stop offset="0.854" stop-color="#ff7600"/><stop offset="1.000" stop-color="#ff5c00"/></linearGradient><linearGradient id="b78" gradientUnits="userSpaceOnUse" x1="396.0" x2="670.0" y1="0" y2="0"><stop offset="0.000" stop-color="#00f6d3"/><stop offset="0.153" stop-color="#00f632"/><stop offset="0.208" stop-color="#02f600"/><stop offset="0.361" stop-color="#83f600"/><stop offset="0.515" stop-color="#ecf600"/><stop offset="0.551" stop-color="#fff300"/><stop offset="0.712" stop-color="#ffaa00"/><stop offset="0.872" stop-color="#ff7900"/><stop offset="1.000" stop-color="#ff6300"/></linearGradient><linearGradient id="b79" gradientUnits="userSpaceOnUse" x1="396.0" x2="670.0" y1="0" y2="0"><stop offset="0.000" stop-color="#00f6e3"/><stop offset="0.153" stop-color="#00f640"/><stop offset="0.223" stop-color="#01f600"/><stop offset="0.376" stop-color="#82f600"/><stop offset="0.529" stop-color="#eaf600"/><stop offset="0.569" stop-color="#fff400"/><stop offset="0.730" stop-color="#ffac00"/><stop offset="0.891" stop-color="#ff7c00"/><stop offset="1.000" stop-color="#ff6900"/></linearGradient><linearGradient id="b80" gradientUnits="userSpaceOnUse" x1="396.0" x2="670.0" y1="0" y2="0"><stop offset="0.000" stop-color="#00f6f3"/><stop offset="0.153" stop-color="#00f64f"/><stop offset="0.237" stop-color="#01f600"/><stop offset="0.391" stop-color="#80f600"/><stop offset="0.544" stop-color="#e8f600"/><stop offset="0.588" stop-color="#fff400"/><stop offset="0.748" stop-color="#ffae00"/><stop offset="0.909" stop-color="#ff7f00"/><stop offset="1.000" stop-color="#ff7000"/></linearGradient><linearGradient id="b81" gradientUnits="userSpaceOnUse" x1="396.0" x2="670.0" y1="0" y2="0"><stop offset="0.000" stop-color="#00f3ff"/><stop offset="0.029" stop-color="#00f6e1"/><stop offset="0.182" stop-color="#00f641"/><stop offset="0.252" stop-color="#00f600"/><stop offset="0.405" stop-color="#7ff600"/><stop offset="0.558" stop-color="#e5f600"/><stop offset="0.609" stop-color="#fff300"/><stop offset="0.770" stop-color="#ffaf00"/><stop offset="0.931" stop-color="#ff8200"/><stop offset="1.000" stop-color="#ff7600"/></linearGradient><linearGradient id="b82" gradientUnits="userSpaceOnUse" x1="396.0" x2="670.0" y1="0" y2="0"><stop offset="0.000" stop-color="#00e3ff"/><stop offset="0.018" stop-color="#00f6fe"/><stop offset="0.172" stop-color="#00f65a"/><stop offset="0.270" stop-color="#03f600"/><stop offset="0.423" stop-color="#7ff600"/><stop offset="0.577" stop-color="#e5f600"/><stop offset="0.628" stop-color="#fff400"/><stop offset="0.788" stop-color="#ffb100"/><stop offset="0.949" stop-color="#ff8600"/><stop offset="1.000" stop-color="#ff7e00"/></linearGradient><linearGradient id="b83" gradientUnits="userSpaceOnUse" x1="396.0" x2="670.0" y1="0" y2="0"><stop offset="0.000" stop-color="#00d4ff"/><stop offset="0.033" stop-color="#00f6fd"/><stop offset="0.186" stop-color="#00f65b"/><stop offset="0.285" stop-color="#01f600"/><stop offset="0.438" stop-color="#7df600"/><stop offset="0.591" stop-color="#e2f600"/><stop offset="0.650" stop-color="#fff400"/><stop offset="0.810" stop-color="#ffb300"/><stop offset="0.971" stop-color="#ff8a00"/><stop offset="1.000" stop-color="#ff8500"/></linearGradient><linearGradient id="b84" gradientUnits="userSpaceOnUse" x1="396.0" x2="670.0" y1="0" y2="0"><stop offset="0.000" stop-color="#00c4ff"/><stop offset="0.047" stop-color="#00f6fd"/><stop offset="0.201" stop-color="#00f65b"/><stop offset="0.299" stop-color="#00f600"/><stop offset="0.453" stop-color="#7bf600"/><stop offset="0.606" stop-color="#def600"/><stop offset="0.672" stop-color="#fff300"/><stop offset="0.832" stop-color="#ffb500"/><stop offset="0.993" stop-color="#ff8e00"/><stop offset="1.000" stop-color="#ff8c00"/></linearGradient><linearGradient id="b85" gradientUnits="userSpaceOnUse" x1="396.0" x2="670.0" y1="0" y2="0"><stop offset="0.000" stop-color="#00b4ff"/><stop offset="0.062" stop-color="#00f6fd"/><stop offset="0.215" stop-color="#00f65c"/><stop offset="0.318" stop-color="#02f600"/><stop offset="0.471" stop-color="#7bf600"/><stop offset="0.624" stop-color="#ddf600"/><stop offset="0.693" stop-color="#fff400"/><stop offset="0.854" stop-color="#ffb700"/><stop offset="1.000" stop-color="#ff9400"/></linearGradient><linearGradient id="b86" gradientUnits="userSpaceOnUse" x1="396.0" x2="670.0" y1="0" y2="0"><stop offset="0.000" stop-color="#00a3ff"/><stop offset="0.077" stop-color="#00f6fd"/><stop offset="0.230" stop-color="#00f65d"/><stop offset="0.332" stop-color="#00f600"/><stop offset="0.485" stop-color="#78f600"/><stop offset="0.639" stop-color="#d9f600"/><stop offset="0.715" stop-color="#fff400"/><stop offset="0.876" stop-color="#ffb900"/><stop offset="1.000" stop-color="#ff9c00"/></linearGradient><linearGradient id="b87" gradientUnits="userSpaceOnUse" x1="396.0" x2="670.0" y1="0" y2="0"><stop offset="0.000" stop-color="#0093ff"/><stop offset="0.091" stop-color="#00f6fe"/><stop offset="0.245" stop-color="#00f65f"/><stop offset="0.350" stop-color="#01f600"/><stop offset="0.504" stop-color="#78f600"/><stop offset="0.657" stop-color="#d7f600"/><stop offset="0.741" stop-color="#fff300"/><stop offset="0.901" stop-color="#ffbb00"/><stop offset="1.000" stop-color="#ffa400"/></linearGradient><linearGradient id="b88" gradientUnits="userSpaceOnUse" x1="396.0" x2="670.0" y1="0" y2="0"><stop offset="0.000" stop-color="#0082ff"/><stop offset="0.106" stop-color="#00f6fe"/><stop offset="0.259" stop-color="#00f660"/><stop offset="0.369" stop-color="#02f600"/><stop offset="0.522" stop-color="#77f600"/><stop offset="0.675" stop-color="#d5f600"/><stop offset="0.763" stop-color="#fff500"/><stop offset="0.923" stop-color="#ffbe00"/><stop offset="1.000" stop-color="#ffad00"/></linearGradient><linearGradient id="b89" gradientUnits="userSpaceOnUse" x1="396.0" x2="670.0" y1="0" y2="0"><stop offset="0.000" stop-color="#0071ff"/><stop offset="0.120" stop-color="#00f6ff"/><stop offset="0.274" stop-color="#00f662"/><stop offset="0.383" stop-color="#00f600"/><stop offset="0.540" stop-color="#77f600"/><stop offset="0.693" stop-color="#d3f600"/><stop offset="0.788" stop-color="#fff500"/><stop offset="0.949" stop-color="#ffc100"/><stop offset="1.000" stop-color="#ffb600"/></linearGradient><linearGradient id="b90" gradientUnits="userSpaceOnUse" x1="396.0" x2="670.0" y1="0" y2="0"><stop offset="0.000" stop-color="#0060ff"/><stop offset="0.135" stop-color="#00f5ff"/><stop offset="0.299" stop-color="#00f65a"/><stop offset="0.401" stop-color="#00f600"/><stop offset="0.555" stop-color="#73f600"/><stop offset="0.708" stop-color="#cef600"/><stop offset="0.818" stop-color="#fff400"/><stop offset="0.978" stop-color="#ffc300"/><stop offset="1.000" stop-color="#ffbe00"/></linearGradient><clipPath id="clipb"><rect x="396.20" y="43.30" width="273.70" height="180.70"/></clipPath></defs>
<g clip-path="url(#clipa)"><rect x="41.0" y="42.0" width="270.0" height="2.5" fill="url(#a0)"/><rect x="41.0" y="44.0" width="270.0" height="2.5" fill="url(#a1)"/><rect x="41.0" y="46.0" width="270.0" height="2.5" fill="url(#a2)"/><rect x="41.0" y="48.0" width="270.0" height="2.5" fill="url(#a3)"/><rect x="41.0" y="50.0" width="270.0" height="2.5" fill="url(#a4)"/><rect x="41.0" y="52.0" width="270.0" height="2.5" fill="url(#a5)"/><rect x="41.0" y="54.0" width="270.0" height="2.5" fill="url(#a6)"/><rect x="41.0" y="56.0" width="270.0" height="2.5" fill="url(#a7)"/><rect x="41.0" y="58.0" width="270.0" height="2.5" fill="url(#a8)"/><rect x="41.0" y="60.0" width="270.0" height="2.5" fill="url(#a9)"/><rect x="41.0" y="62.0" width="270.0" height="2.5" fill="url(#a10)"/><rect x="41.0" y="64.0" width="270.0" height="2.5" fill="url(#a11)"/><rect x="41.0" y="66.0" width="270.0" height="2.5" fill="url(#a12)"/><rect x="41.0" y="68.0" width="270.0" height="2.5" fill="url(#a13)"/><rect x="41.0" y="70.0" width="270.0" height="2.5" fill="url(#a14)"/><rect x="41.0" y="72.0" width="270.0" height="2.5" fill="url(#a15)"/><rect x="41.0" y="74.0" width="270.0" height="2.5" fill="url(#a16)"/><rect x="41.0" y="76.0" width="270.0" height="2.5" fill="url(#a17)"/><rect x="41.0" y="78.0" width="270.0" height="2.5" fill="url(#a18)"/><rect x="41.0" y="80.0" width="270.0" height="2.5" fill="url(#a19)"/><rect x="41.0" y="82.0" width="270.0" height="2.5" fill="url(#a20)"/><rect x="41.0" y="84.0" width="270.0" height="2.5" fill="url(#a21)"/><rect x="41.0" y="86.0" width="270.0" height="2.5" fill="url(#a22)"/><rect x="41.0" y="88.0" width="270.0" height="2.5" fill="url(#a23)"/><rect x="41.0" y="90.0" width="270.0" height="2.5" fill="url(#a24)"/><rect x="41.0" y="92.0" width="270.0" height="2.5" fill="url(#a25)"/><rect x="41.0" y="94.0" width="270.0" height="2.5" fill="url(#a26)"/><rect x="41.0" y="96.0" width="270.0" height="2.5" fill="url(#a27)"/><rect x="41.0" y="98.0" width="270.0" height="2.5" fill="url(#a28)"/><rect x="41.0" y="100.0" width="270.0" height="2.5" fill="url(#a29)"/><rect x="41.0" y="102.0" width="270.0" height="2.5" fill="url(#a30)"/><rect x="41.0" y="104.0" width="270.0" height="2.5" fill="url(#a31)"/><rect x="41.0" y="106.0" width="270.0" height="2.5" fill="url(#a32)"/><rect x="41.0" y="108.0" width="270.0" height="2.5" fill="url(#a33)"/><rect x="41.0" y="110.0" width="270.0" height="2.5" fill="url(#a34)"/><rect x="41.0" y="112.0" width="270.0" height="2.5" fill="url(#a35)"/><rect x="41.0" y="114.0" width="270.0" height="2.5" fill="url(#a36)"/><rect x="41.0" y="116.0" width="270.0" height="2.5" fill="url(#a37)"/><rect x="41.0" y="118.0" width="270.0" height="2.5" fill="url(#a38)"/><rect x="41.0" y="120.0" width="270.0" height="2.5" fill="url(#a39)"/><rect x="41.0" y="122.0" width="270.0" height="2.5" fill="url(#a40)"/><rect x="41.0" y="124.0" width="270.0" height="2.5" fill="url(#a41)"/><rect x="41.0" y="126.0" width="270.0" height="2.5" fill="url(#a42)"/><rect x="41.0" y="128.0" width="270.0" height="2.5" fill="url(#a43)"/><rect x="41.0" y="130.0" width="270.0" height="2.5" fill="url(#a44)"/><rect x="41.0" y="132.0" width="270.0" height="2.5" fill="url(#a45)"/><rect x="41.0" y="134.0" width="270.0" height="2.5" fill="url(#a46)"/><rect x="41.0" y="136.0" width="270.0" height="2.5" fill="url(#a47)"/><rect x="41.0" y="138.0" width="270.0" height="2.5" fill="url(#a48)"/><rect x="41.0" y="140.0" width="270.0" height="2.5" fill="url(#a49)"/><rect x="41.0" y="142.0" width="270.0" height="2.5" fill="url(#a50)"/><rect x="41.0" y="144.0" width="270.0" height="2.5" fill="url(#a51)"/><rect x="41.0" y="146.0" width="270.0" height="2.5" fill="url(#a52)"/><rect x="41.0" y="148.0" width="270.0" height="2.5" fill="url(#a53)"/><rect x="41.0" y="150.0" width="270.0" height="2.5" fill="url(#a54)"/><rect x="41.0" y="152.0" width="270.0" height="2.5" fill="url(#a55)"/><rect x="41.0" y="154.0" width="270.0" height="2.5" fill="url(#a56)"/><rect x="41.0" y="156.0" width="270.0" height="2.5" fill="url(#a57)"/><rect x="41.0" y="158.0" width="270.0" height="2.5" fill="url(#a58)"/><rect x="41.0" y="160.0" width="270.0" height="2.5" fill="url(#a59)"/><rect x="41.0" y="162.0" width="270.0" height="2.5" fill="url(#a60)"/><rect x="41.0" y="164.0" width="270.0" height="2.5" fill="url(#a61)"/><rect x="41.0" y="166.0" width="270.0" height="2.5" fill="url(#a62)"/><rect x="41.0" y="168.0" width="270.0" height="2.5" fill="url(#a63)"/><rect x="41.0" y="170.0" width="270.0" height="2.5" fill="url(#a64)"/><rect x="41.0" y="172.0" width="270.0" height="2.5" fill="url(#a65)"/><rect x="41.0" y="174.0" width="270.0" height="2.5" fill="url(#a66)"/><rect x="41.0" y="176.0" width="270.0" height="2.5" fill="url(#a67)"/><rect x="41.0" y="178.0" width="270.0" height="2.5" fill="url(#a68)"/><rect x="41.0" y="180.0" width="270.0" height="2.5" fill="url(#a69)"/><rect x="41.0" y="182.0" width="270.0" height="2.5" fill="url(#a70)"/><rect x="41.0" y="184.0" width="270.0" height="2.5" fill="url(#a71)"/><rect x="41.0" y="186.0" width="270.0" height="2.5" fill="url(#a72)"/><rect x="41.0" y="188.0" width="270.0" height="2.5" fill="url(#a73)"/><rect x="41.0" y="190.0" width="270.0" height="2.5" fill="url(#a74)"/><rect x="41.0" y="192.0" width="270.0" height="2.5" fill="url(#a75)"/><rect x="41.0" y="194.0" width="270.0" height="2.5" fill="url(#a76)"/><rect x="41.0" y="196.0" width="270.0" height="2.5" fill="url(#a77)"/><rect x="41.0" y="198.0" width="270.0" height="2.5" fill="url(#a78)"/><rect x="41.0" y="200.0" width="270.0" height="2.5" fill="url(#a79)"/><rect x="41.0" y="202.0" width="270.0" height="2.5" fill="url(#a80)"/><rect x="41.0" y="204.0" width="270.0" height="2.5" fill="url(#a81)"/><rect x="41.0" y="206.0" width="270.0" height="2.5" fill="url(#a82)"/><rect x="41.0" y="208.0" width="270.0" height="2.5" fill="url(#a83)"/><rect x="41.0" y="210.0" width="270.0" height="2.5" fill="url(#a84)"/><rect x="41.0" y="212.0" width="270.0" height="2.5" fill="url(#a85)"/><rect x="41.0" y="214.0" width="270.0" height="2.5" fill="url(#a86)"/><rect x="41.0" y="216.0" width="270.0" height="2.5" fill="url(#a87)"/><rect x="41.0" y="218.0" width="270.0" height="2.5" fill="url(#a88)"/><rect x="41.0" y="220.0" width="270.0" height="2.5" fill="url(#a89)"/><rect x="41.0" y="222.0" width="270.0" height="2.5" fill="url(#a90)"/></g>
<g clip-path="url(#clipb)"><rect x="396.0" y="43.0" width="274.0" height="2.5" fill="url(#b0)"/><rect x="396.0" y="45.0" width="274.0" height="2.5" fill="url(#b1)"/><rect x="396.0" y="47.0" width="274.0" height="2.5" fill="url(#b2)"/><rect x="396.0" y="49.0" width="274.0" height="2.5" fill="url(#b3)"/><rect x="396.0" y="51.0" width="274.0" height="2.5" fill="url(#b4)"/><rect x="396.0" y="53.0" width="274.0" height="2.5" fill="url(#b5)"/><rect x="396.0" y="55.0" width="274.0" height="2.5" fill="url(#b6)"/><rect x="396.0" y="57.0" width="274.0" height="2.5" fill="url(#b7)"/><rect x="396.0" y="59.0" width="274.0" height="2.5" fill="url(#b8)"/><rect x="396.0" y="61.0" width="274.0" height="2.5" fill="url(#b9)"/><rect x="396.0" y="63.0" width="274.0" height="2.5" fill="url(#b10)"/><rect x="396.0" y="65.0" width="274.0" height="2.5" fill="url(#b11)"/><rect x="396.0" y="67.0" width="274.0" height="2.5" fill="url(#b12)"/><rect x="396.0" y="69.0" width="274.0" height="2.5" fill="url(#b13)"/><rect x="396.0" y="71.0" width="274.0" height="2.5" fill="url(#b14)"/><rect x="396.0" y="73.0" width="274.0" height="2.5" fill="url(#b15)"/><rect x="396.0" y="75.0" width="274.0" height="2.5" fill="url(#b16)"/><rect x="396.0" y="77.0" width="274.0" height="2.5" fill="url(#b17)"/><rect x="396.0" y="79.0" width="274.0" height="2.5" fill="url(#b18)"/><rect x="396.0" y="81.0" width="274.0" height="2.5" fill="url(#b19)"/><rect x="396.0" y="83.0" width="274.0" height="2.5" fill="url(#b20)"/><rect x="396.0" y="85.0" width="274.0" height="2.5" fill="url(#b21)"/><rect x="396.0" y="87.0" width="274.0" height="2.5" fill="url(#b22)"/><rect x="396.0" y="89.0" width="274.0" height="2.5" fill="url(#b23)"/><rect x="396.0" y="91.0" width="274.0" height="2.5" fill="url(#b24)"/><rect x="396.0" y="93.0" width="274.0" height="2.5" fill="url(#b25)"/><rect x="396.0" y="95.0" width="274.0" height="2.5" fill="url(#b26)"/><rect x="396.0" y="97.0" width="274.0" height="2.5" fill="url(#b27)"/><rect x="396.0" y="99.0" width="274.0" height="2.5" fill="url(#b28)"/><rect x="396.0" y="101.0" width="274.0" height="2.5" fill="url(#b29)"/><rect x="396.0" y="103.0" width="274.0" height="2.5" fill="url(#b30)"/><rect x="396.0" y="105.0" width="274.0" height="2.5" fill="url(#b31)"/><rect x="396.0" y="107.0" width="274.0" height="2.5" fill="url(#b32)"/><rect x="396.0" y="109.0" width="274.0" height="2.5" fill="url(#b33)"/><rect x="396.0" y="111.0" width="274.0" height="2.5" fill="url(#b34)"/><rect x="396.0" y="113.0" width="274.0" height="2.5" fill="url(#b35)"/><rect x="396.0" y="115.0" width="274.0" height="2.5" fill="url(#b36)"/><rect x="396.0" y="117.0" width="274.0" height="2.5" fill="url(#b37)"/><rect x="396.0" y="119.0" width="274.0" height="2.5" fill="url(#b38)"/><rect x="396.0" y="121.0" width="274.0" height="2.5" fill="url(#b39)"/><rect x="396.0" y="123.0" width="274.0" height="2.5" fill="url(#b40)"/><rect x="396.0" y="125.0" width="274.0" height="2.5" fill="url(#b41)"/><rect x="396.0" y="127.0" width="274.0" height="2.5" fill="url(#b42)"/><rect x="396.0" y="129.0" width="274.0" height="2.5" fill="url(#b43)"/><rect x="396.0" y="131.0" width="274.0" height="2.5" fill="url(#b44)"/><rect x="396.0" y="133.0" width="274.0" height="2.5" fill="url(#b45)"/><rect x="396.0" y="135.0" width="274.0" height="2.5" fill="url(#b46)"/><rect x="396.0" y="137.0" width="274.0" height="2.5" fill="url(#b47)"/><rect x="396.0" y="139.0" width="274.0" height="2.5" fill="url(#b48)"/><rect x="396.0" y="141.0" width="274.0" height="2.5" fill="url(#b49)"/><rect x="396.0" y="143.0" width="274.0" height="2.5" fill="url(#b50)"/><rect x="396.0" y="145.0" width="274.0" height="2.5" fill="url(#b51)"/><rect x="396.0" y="147.0" width="274.0" height="2.5" fill="url(#b52)"/><rect x="396.0" y="149.0" width="274.0" height="2.5" fill="url(#b53)"/><rect x="396.0" y="151.0" width="274.0" height="2.5" fill="url(#b54)"/><rect x="396.0" y="153.0" width="274.0" height="2.5" fill="url(#b55)"/><rect x="396.0" y="155.0" width="274.0" height="2.5" fill="url(#b56)"/><rect x="396.0" y="157.0" width="274.0" height="2.5" fill="url(#b57)"/><rect x="396.0" y="159.0" width="274.0" height="2.5" fill="url(#b58)"/><rect x="396.0" y="161.0" width="274.0" height="2.5" fill="url(#b59)"/><rect x="396.0" y="163.0" width="274.0" height="2.5" fill="url(#b60)"/><rect x="396.0" y="165.0" width="274.0" height="2.5" fill="url(#b61)"/><rect x="396.0" y="167.0" width="274.0" height="2.5" fill="url(#b62)"/><rect x="396.0" y="169.0" width="274.0" height="2.5" fill="url(#b63)"/><rect x="396.0" y="171.0" width="274.0" height="2.5" fill="url(#b64)"/><rect x="396.0" y="173.0" width="274.0" height="2.5" fill="url(#b65)"/><rect x="396.0" y="175.0" width="274.0" height="2.5" fill="url(#b66)"/><rect x="396.0" y="177.0" width="274.0" height="2.5" fill="url(#b67)"/><rect x="396.0" y="179.0" width="274.0" height="2.5" fill="url(#b68)"/><rect x="396.0" y="181.0" width="274.0" height="2.5" fill="url(#b69)"/><rect x="396.0" y="183.0" width="274.0" height="2.5" fill="url(#b70)"/><rect x="396.0" y="185.0" width="274.0" height="2.5" fill="url(#b71)"/><rect x="396.0" y="187.0" width="274.0" height="2.5" fill="url(#b72)"/><rect x="396.0" y="189.0" width="274.0" height="2.5" fill="url(#b73)"/><rect x="396.0" y="191.0" width="274.0" height="2.5" fill="url(#b74)"/><rect x="396.0" y="193.0" width="274.0" height="2.5" fill="url(#b75)"/><rect x="396.0" y="195.0" width="274.0" height="2.5" fill="url(#b76)"/><rect x="396.0" y="197.0" width="274.0" height="2.5" fill="url(#b77)"/><rect x="396.0" y="199.0" width="274.0" height="2.5" fill="url(#b78)"/><rect x="396.0" y="201.0" width="274.0" height="2.5" fill="url(#b79)"/><rect x="396.0" y="203.0" width="274.0" height="2.5" fill="url(#b80)"/><rect x="396.0" y="205.0" width="274.0" height="2.5" fill="url(#b81)"/><rect x="396.0" y="207.0" width="274.0" height="2.5" fill="url(#b82)"/><rect x="396.0" y="209.0" width="274.0" height="2.5" fill="url(#b83)"/><rect x="396.0" y="211.0" width="274.0" height="2.5" fill="url(#b84)"/><rect x="396.0" y="213.0" width="274.0" height="2.5" fill="url(#b85)"/><rect x="396.0" y="215.0" width="274.0" height="2.5" fill="url(#b86)"/><rect x="396.0" y="217.0" width="274.0" height="2.5" fill="url(#b87)"/><rect x="396.0" y="219.0" width="274.0" height="2.5" fill="url(#b88)"/><rect x="396.0" y="221.0" width="274.0" height="2.5" fill="url(#b89)"/><rect x="396.0" y="223.0" width="274.0" height="2.5" fill="url(#b90)"/></g>
<g fill="none" stroke="#000" stroke-opacity="0.75" stroke-width="0.90"><path d="M76.0 222.5 L75.6 222.2 L75.2 222.1 L75.0 221.9 L74.8 221.7 L74.4 221.5 L74.0 221.3 L73.8 221.1 L73.5 221.0 L73.2 220.8 L72.8 220.5 L72.5 220.3 L72.2 220.2 L72.0 220.0 L71.6 219.8 L71.2 219.6 L71.0 219.4 L70.8 219.2 L70.4 219.0 L70.0 218.8 L69.8 218.6 L69.5 218.5 L69.2 218.2 L68.8 218.0 L68.5 217.8 L68.2 217.7 L68.0 217.5 L67.6 217.2 L67.2 217.0 L67.0 216.9 L66.8 216.7 L66.4 216.5 L66.0 216.3 L65.8 216.1 L65.5 215.9 L65.2 215.8 L64.8 215.5 L64.5 215.3 L64.2 215.2 L64.0 215.0 L63.6 214.8 L63.2 214.5 L63.0 214.4 L62.8 214.2 L62.4 214.0 L62.0 213.8 L61.8 213.6 L61.5 213.4 L61.2 213.2 L60.8 213.0 L60.5 212.8 L60.2 212.6 L60.0 212.5 L59.6 212.2 L59.2 212.0 L59.0 211.8 L58.8 211.7 L58.5 211.5 L58.1 211.2 L57.8 211.1 L57.5 210.9 L57.2 210.7 L56.9 210.5 L56.5 210.3 L56.2 210.1 L56.0 210.0 L55.7 209.8 L55.3 209.5 L55.0 209.3 L54.8 209.2 L54.5 209.0 L54.1 208.8 L53.8 208.5 L53.5 208.4 L53.2 208.2 L52.9 208.0 L52.5 207.8 L52.2 207.6 L52.0 207.4 L51.7 207.2 L51.3 207.0 L51.0 206.8 L50.8 206.6 L50.5 206.5 L50.1 206.2 L49.8 206.0 L49.5 205.8 L49.2 205.7 L49.0 205.5 L48.6 205.2 L48.2 205.1 L48.0 204.9 L47.8 204.7 L47.4 204.5 L47.0 204.3 L46.8 204.1 L46.5 203.9 L46.2 203.8 L45.8 203.5 L45.5 203.3 L45.2 203.2 L45.0 203.0 L44.6 202.8 L44.2 202.5 L44.0 202.4 L43.8 202.2 L43.4 202.0 L43.0 201.8 L42.8 201.6 L42.5 201.4 L42.2 201.2 L41.8 201.0 L41.5 200.8 L41.2 200.6 L41.0 200.5"/><path d="M119.7 222.5 L119.3 222.2 L119.0 222.1 L118.8 221.9 L118.5 221.8 L118.1 221.5 L117.8 221.3 L117.5 221.1 L117.2 221.0 L116.9 220.8 L116.5 220.5 L116.2 220.3 L116.0 220.2 L115.7 220.0 L115.3 219.8 L115.0 219.5 L114.8 219.4 L114.5 219.2 L114.2 219.0 L113.8 218.8 L113.5 218.6 L113.2 218.4 L113.0 218.2 L112.6 218.0 L112.2 217.8 L112.0 217.6 L111.8 217.5 L111.4 217.2 L111.0 217.0 L110.8 216.8 L110.5 216.7 L110.2 216.5 L109.8 216.2 L109.5 216.0 L109.2 215.9 L109.0 215.7 L108.6 215.5 L108.3 215.2 L108.0 215.1 L107.8 214.9 L107.5 214.8 L107.1 214.5 L106.8 214.3 L106.5 214.1 L106.2 214.0 L105.9 213.8 L105.5 213.5 L105.2 213.3 L105.0 213.2 L104.7 213.0 L104.3 212.8 L104.0 212.5 L103.8 212.4 L103.5 212.2 L103.1 212.0 L102.8 211.8 L102.5 211.6 L102.2 211.4 L102.0 211.2 L101.6 211.0 L101.2 210.8 L101.0 210.6 L100.8 210.5 L100.4 210.2 L100.0 210.0 L99.8 209.8 L99.5 209.7 L99.2 209.5 L98.8 209.2 L98.5 209.0 L98.2 208.9 L98.0 208.7 L97.7 208.5 L97.3 208.2 L97.0 208.1 L96.8 207.9 L96.5 207.8 L96.1 207.5 L95.8 207.3 L95.5 207.1 L95.2 207.0 L94.9 206.8 L94.5 206.5 L94.2 206.3 L94.0 206.2 L93.7 206.0 L93.4 205.8 L93.0 205.5 L92.8 205.4 L92.5 205.2 L92.2 205.0 L91.8 204.8 L91.5 204.6 L91.2 204.4 L91.0 204.2 L90.6 204.0 L90.2 203.8 L90.0 203.6 L89.8 203.4 L89.5 203.2 L89.1 203.0 L88.8 202.8 L88.5 202.6 L88.2 202.5 L87.9 202.2 L87.5 202.0 L87.2 201.8 L87.0 201.7 L86.7 201.5 L86.3 201.2 L86.0 201.0 L85.8 200.9 L85.5 200.7 L85.2 200.5 L84.8 200.2 L84.5 200.1 L84.2 199.9 L84.0 199.8 L83.6 199.5 L83.2 199.3 L83.0 199.1 L82.8 198.9 L82.4 198.8 L82.1 198.5 L81.8 198.3 L81.5 198.1 L81.2 198.0 L80.9 197.8 L80.5 197.5 L80.2 197.3 L80.0 197.2 L79.7 197.0 L79.3 196.8 L79.0 196.5 L78.8 196.4 L78.5 196.2 L78.2 196.0 L77.8 195.8 L77.5 195.6 L77.2 195.4 L77.0 195.2 L76.6 195.0 L76.2 194.8 L76.0 194.6 L75.8 194.4 L75.5 194.2 L75.1 194.0 L74.8 193.8 L74.5 193.6 L74.2 193.5 L73.9 193.2 L73.5 193.0 L73.2 192.8 L73.0 192.7 L72.7 192.5 L72.4 192.2 L72.0 192.0 L71.8 191.9 L71.5 191.7 L71.2 191.5 L70.8 191.2 L70.5 191.1 L70.2 190.9 L70.0 190.7 L69.6 190.5 L69.3 190.2 L69.0 190.1 L68.8 189.9 L68.5 189.8 L68.1 189.5 L67.8 189.3 L67.5 189.1 L67.2 188.9 L66.9 188.8 L66.6 188.5 L66.2 188.3 L66.0 188.1 L65.8 188.0 L65.4 187.8 L65.0 187.5 L64.8 187.3 L64.5 187.2 L64.2 187.0 L63.9 186.8 L63.5 186.5 L63.2 186.4 L63.0 186.2 L62.7 186.0 L62.3 185.8 L62.0 185.5 L61.8 185.4 L61.5 185.2 L61.2 185.0 L60.8 184.8 L60.5 184.6 L60.2 184.4 L60.0 184.2 L59.6 184.0 L59.2 183.8 L59.0 183.6 L58.8 183.4 L58.5 183.2 L58.1 183.0 L57.8 182.8 L57.5 182.6 L57.2 182.5 L56.9 182.2 L56.5 182.0 L56.2 181.8 L56.0 181.6 L55.8 181.5 L55.4 181.2 L55.0 181.0 L54.8 180.8 L54.5 180.7 L54.2 180.5 L53.9 180.2 L53.5 180.0 L53.2 179.9 L53.0 179.7 L52.7 179.5 L52.3 179.2 L52.0 179.0 L51.8 178.9 L51.5 178.7 L51.2 178.5 L50.8 178.2 L50.5 178.1 L50.2 177.9 L50.0 177.7 L49.6 177.5 L49.3 177.2 L49.0 177.1 L48.8 176.9 L48.5 176.8 L48.1 176.5 L47.8 176.3 L47.5 176.1 L47.2 175.9 L47.0 175.8 L46.6 175.5 L46.2 175.3 L46.0 175.1 L45.8 175.0 L45.4 174.8 L45.0 174.5 L44.8 174.3 L44.5 174.1 L44.2 174.0 L43.9 173.8 L43.5 173.5 L43.2 173.3 L43.0 173.2 L42.8 173.0 L42.4 172.8 L42.0 172.5 L41.8 172.3 L41.5 172.2 L41.2 172.0 L41.0 171.9"/><path d="M309.8 42.0 L310.2 42.2 L310.5 42.3"/><path d="M171.0 222.5 L170.6 222.2 L170.2 222.0 L170.0 221.9 L169.8 221.7 L169.4 221.5 L169.0 221.2 L168.8 221.1 L168.5 220.9 L168.2 220.7 L167.9 220.5 L167.5 220.3 L167.2 220.1 L167.0 219.9 L166.7 219.8 L166.3 219.5 L166.0 219.3 L165.8 219.1 L165.5 219.0 L165.2 218.8 L164.8 218.5 L164.5 218.3 L164.2 218.2 L164.0 218.0 L163.6 217.8 L163.2 217.5 L163.0 217.4 L162.8 217.2 L162.5 217.0 L162.1 216.8 L161.8 216.5 L161.5 216.4 L161.2 216.2 L160.9 216.0 L160.5 215.8 L160.2 215.6 L160.0 215.4 L159.7 215.2 L159.4 215.0 L159.0 214.8 L158.8 214.6 L158.5 214.4 L158.2 214.2 L157.8 214.0 L157.5 213.8 L157.2 213.6 L157.0 213.5 L156.7 213.2 L156.3 213.0 L156.0 212.8 L155.8 212.7 L155.5 212.5 L155.1 212.2 L154.8 212.0 L154.5 211.9 L154.2 211.7 L154.0 211.5 L153.6 211.2 L153.2 211.0 L153.0 210.9 L152.8 210.7 L152.4 210.5 L152.0 210.2 L151.8 210.1 L151.5 209.9 L151.2 209.7 L150.9 209.5 L150.5 209.3 L150.2 209.1 L150.0 208.9 L149.7 208.8 L149.3 208.5 L149.0 208.3 L148.8 208.1 L148.5 208.0 L148.2 207.8 L147.8 207.5 L147.5 207.3 L147.2 207.1 L147.0 207.0 L146.7 206.8 L146.3 206.5 L146.0 206.3 L145.8 206.2 L145.5 206.0 L145.1 205.8 L144.8 205.5 L144.5 205.3 L144.2 205.2 L144.0 205.0 L143.6 204.8 L143.2 204.5 L143.0 204.4 L142.8 204.2 L142.4 204.0 L142.1 203.8 L141.8 203.6 L141.5 203.4 L141.2 203.2 L140.9 203.0 L140.5 202.8 L140.2 202.6 L140.0 202.4 L139.8 202.2 L139.4 202.0 L139.0 201.8 L138.8 201.6 L138.5 201.4 L138.2 201.2 L137.8 201.0 L137.5 200.8 L137.2 200.6 L137.0 200.4 L136.7 200.2 L136.3 200.0 L136.0 199.8 L135.8 199.6 L135.5 199.5 L135.2 199.2 L134.8 199.0 L134.5 198.8 L134.2 198.6 L134.0 198.5 L133.7 198.2 L133.3 198.0 L133.0 197.8 L132.8 197.7 L132.5 197.5 L132.1 197.2 L131.8 197.0 L131.5 196.8 L131.2 196.7 L131.0 196.5 L130.6 196.2 L130.2 196.0 L130.0 195.8 L129.8 195.7 L129.5 195.5 L129.1 195.2 L128.8 195.0 L128.5 194.9 L128.2 194.7 L127.9 194.5 L127.6 194.2 L127.2 194.0 L127.0 193.9 L126.8 193.7 L126.4 193.5 L126.1 193.2 L125.8 193.1 L125.5 192.9 L125.2 192.7 L124.9 192.5 L124.5 192.2 L124.2 192.1 L124.0 191.9 L123.8 191.7 L123.4 191.5 L123.0 191.2 L122.8 191.1 L122.5 190.9 L122.2 190.7 L121.9 190.5 L121.5 190.2 L121.2 190.1 L121.0 189.9 L120.8 189.7 L120.4 189.5 L120.0 189.3 L119.8 189.1 L119.5 188.9 L119.2 188.8 L118.9 188.5 L118.5 188.3 L118.2 188.1 L118.0 187.9 L117.7 187.8 L117.4 187.5 L117.0 187.3 L116.8 187.1 L116.5 186.9 L116.2 186.8 L115.8 186.5 L115.5 186.3 L115.2 186.1 L115.0 185.9 L114.7 185.8 L114.3 185.5 L114.0 185.3 L113.8 185.1 L113.5 184.9 L113.2 184.8 L112.8 184.5 L112.5 184.3 L112.2 184.1 L112.0 183.9 L111.7 183.8 L111.3 183.5 L111.0 183.3 L110.8 183.1 L110.5 182.9 L110.2 182.8 L109.8 182.5 L109.5 182.3 L109.2 182.1 L109.0 181.9 L108.7 181.8 L108.3 181.5 L108.0 181.3 L107.8 181.1 L107.5 180.9 L107.2 180.8 L106.8 180.5 L106.5 180.3 L106.2 180.1 L106.0 179.9 L105.7 179.8 L105.3 179.5 L105.0 179.3 L104.8 179.1 L104.5 178.9 L104.2 178.8 L103.8 178.5 L103.5 178.3 L103.2 178.1 L103.0 177.9 L102.7 177.8 L102.3 177.5 L102.0 177.3 L101.8 177.1 L101.5 176.9 L101.2 176.8 L100.8 176.5 L100.5 176.3 L100.2 176.1 L100.0 175.9 L99.7 175.8 L99.3 175.5 L99.0 175.3 L98.8 175.1 L98.5 174.9 L98.2 174.8 L97.9 174.5 L97.5 174.3 L97.2 174.1 L97.0 173.9 L96.7 173.8 L96.4 173.5 L96.0 173.3 L95.8 173.1 L95.5 172.9 L95.2 172.7 L94.9 172.5 L94.5 172.2 L94.2 172.1 L94.0 171.9 L93.8 171.7 L93.4 171.5 L93.0 171.2 L92.8 171.1 L92.5 170.9 L92.2 170.7 L91.9 170.5 L91.5 170.2 L91.2 170.1 L91.0 169.9 L90.8 169.7 L90.4 169.5 L90.1 169.2 L89.8 169.0 L89.5 168.9 L89.2 168.7 L88.9 168.5 L88.6 168.2 L88.2 168.0 L88.0 167.9 L87.8 167.7 L87.5 167.5 L87.1 167.2 L86.8 167.0 L86.5 166.9 L86.2 166.7 L86.0 166.5 L85.6 166.2 L85.2 166.0 L85.0 165.8 L84.8 165.7 L84.5 165.5 L84.1 165.2 L83.8 165.0 L83.5 164.8 L83.2 164.7 L83.0 164.5 L82.7 164.2 L82.3 164.0 L82.0 163.8 L81.8 163.6 L81.5 163.5 L81.2 163.2 L80.8 163.0 L80.5 162.8 L80.2 162.6 L80.0 162.4 L79.7 162.2 L79.3 162.0 L79.0 161.8 L78.8 161.6 L78.5 161.4 L78.2 161.2 L77.9 161.0 L77.5 160.8 L77.2 160.6 L77.0 160.4 L76.8 160.2 L76.4 160.0 L76.0 159.8 L75.8 159.6 L75.5 159.4 L75.2 159.2 L74.9 159.0 L74.6 158.8 L74.2 158.5 L74.0 158.4 L73.8 158.2 L73.5 158.0 L73.1 157.8 L72.8 157.5 L72.5 157.3 L72.2 157.2 L72.0 157.0 L71.6 156.8 L71.3 156.5 L71.0 156.3 L70.8 156.1 L70.5 156.0 L70.2 155.8 L69.8 155.5 L69.5 155.3 L69.2 155.1 L69.0 155.0 L68.7 154.8 L68.3 154.5 L68.0 154.3 L67.8 154.1 L67.5 153.9 L67.2 153.8 L66.9 153.5 L66.5 153.2 L66.2 153.1 L66.0 152.9 L65.8 152.7 L65.4 152.5 L65.1 152.2 L64.8 152.0 L64.5 151.9 L64.2 151.7 L64.0 151.5 L63.6 151.2 L63.2 151.0 L63.0 150.8 L62.8 150.7 L62.5 150.5 L62.1 150.2 L61.8 150.0 L61.5 149.8 L61.2 149.6 L61.0 149.5 L60.7 149.2 L60.3 149.0 L60.0 148.8 L59.8 148.6 L59.5 148.4 L59.2 148.2 L58.9 148.0 L58.5 147.8 L58.2 147.6 L58.0 147.4 L57.8 147.2 L57.4 147.0 L57.1 146.8 L56.8 146.5 L56.5 146.4 L56.2 146.2 L56.0 146.0 L55.6 145.8 L55.3 145.5 L55.0 145.3 L54.8 145.2 L54.5 145.0 L54.2 144.8 L53.8 144.5 L53.5 144.3 L53.2 144.1 L53.0 143.9 L52.7 143.8 L52.4 143.5 L52.0 143.3 L51.8 143.1 L51.5 142.9 L51.2 142.7 L50.9 142.5 L50.6 142.2 L50.2 142.0 L50.0 141.9 L49.8 141.7 L49.5 141.5 L49.1 141.2 L48.8 141.0 L48.5 140.8 L48.2 140.6 L48.0 140.5 L47.7 140.2 L47.3 140.0 L47.0 139.8 L46.8 139.6 L46.5 139.4 L46.2 139.2 L45.9 139.0 L45.5 138.8 L45.2 138.6 L45.0 138.4 L44.8 138.2 L44.4 138.0 L44.1 137.8 L43.8 137.5 L43.5 137.3 L43.2 137.2 L43.0 137.0 L42.6 136.8 L42.3 136.5 L42.0 136.3 L41.8 136.1 L41.5 135.9 L41.2 135.8 L41.0 135.6"/><path d="M216.3 42.0 L216.8 42.2 L217.0 42.3 L217.5 42.5 L217.8 42.6 L218.2 42.8 L218.5 42.9 L218.9 43.0 L219.2 43.1 L219.5 43.2 L220.0 43.4 L220.2 43.5 L220.8 43.7 L221.0 43.8 L221.4 44.0 L221.8 44.1 L222.1 44.2 L222.5 44.4 L222.8 44.5 L223.2 44.7 L223.5 44.8 L224.0 45.0 L224.2 45.1 L224.6 45.2 L225.0 45.4 L225.3 45.5 L225.8 45.7 L226.0 45.8 L226.5 46.0 L226.8 46.1 L227.2 46.2 L227.5 46.4 L227.8 46.5 L228.2 46.7 L228.5 46.8 L229.0 47.0 L229.2 47.1 L229.7 47.2 L230.0 47.4 L230.3 47.5 L230.8 47.7 L231.0 47.8 L231.5 48.0 L231.8 48.1 L232.2 48.2 L232.5 48.4 L232.8 48.5 L233.2 48.7 L233.5 48.8 L234.0 49.0 L234.2 49.1 L234.7 49.2 L235.0 49.4 L235.3 49.5 L235.8 49.7 L236.0 49.8 L236.5 50.0 L236.8 50.1 L237.2 50.2 L237.5 50.4 L237.8 50.5 L238.2 50.7 L238.5 50.8 L239.0 51.0 L239.2 51.1 L239.7 51.2 L240.0 51.4 L240.3 51.5 L240.8 51.7 L241.0 51.8 L241.5 52.0 L241.8 52.1 L242.2 52.2 L242.5 52.4 L242.8 52.5 L243.2 52.7 L243.5 52.8 L244.0 53.0 L244.2 53.1 L244.7 53.2 L245.0 53.4 L245.3 53.5 L245.8 53.7 L246.0 53.8 L246.5 54.0 L246.8 54.1 L247.1 54.2 L247.5 54.4 L247.8 54.5 L248.2 54.7 L248.5 54.8 L249.0 55.0 L249.2 55.1 L249.6 55.2 L250.0 55.4 L250.2 55.5 L250.8 55.7 L251.0 55.8 L251.4 56.0 L251.8 56.1 L252.1 56.2 L252.5 56.4 L252.8 56.5 L253.2 56.7 L253.5 56.8 L253.9 57.0 L254.2 57.1 L254.5 57.2 L255.0 57.5 L255.2 57.6 L255.7 57.8 L256.0 57.9 L256.3 58.0 L256.8 58.2 L257.0 58.3 L257.5 58.5 L257.8 58.6 L258.2 58.8 L258.5 58.9 L258.8 59.0 L259.2 59.2 L259.5 59.3 L260.0 59.5 L260.2 59.6 L260.6 59.8 L261.0 59.9 L261.2 60.0 L261.8 60.2 L262.0 60.3 L262.4 60.5 L262.8 60.6 L263.0 60.8 L263.5 61.0 L263.8 61.1 L264.2 61.2 L264.5 61.4 L264.8 61.5 L265.2 61.7 L265.5 61.8 L266.0 62.0 L266.2 62.1 L266.6 62.2 L267.0 62.4 L267.2 62.5 L267.8 62.7 L268.0 62.8 L268.4 63.0 L268.8 63.1 L269.0 63.2 L269.5 63.4 L269.8 63.5 L270.2 63.8 L270.5 63.9 L270.8 64.0 L271.2 64.2 L271.5 64.3 L272.0 64.5 L272.2 64.6 L272.6 64.8 L273.0 64.9 L273.2 65.0 L273.8 65.2 L274.0 65.3 L274.4 65.5 L274.8 65.6 L275.0 65.8 L275.5 66.0 L275.8 66.1 L276.2 66.2 L276.5 66.4 L276.8 66.5 L277.2 66.7 L277.5 66.8 L278.0 67.0 L278.2 67.1 L278.6 67.2 L279.0 67.4 L279.2 67.5 L279.8 67.7 L280.0 67.8 L280.4 68.0 L280.8 68.2 L281.0 68.3 L281.5 68.5 L281.8 68.6 L282.1 68.8 L282.5 68.9 L282.8 69.0 L283.2 69.2 L283.5 69.3 L283.9 69.5 L284.2 69.6 L284.5 69.8 L285.0 70.0 L285.2 70.1 L285.7 70.2 L286.0 70.4 L286.3 70.5 L286.8 70.7 L287.0 70.8 L287.5 71.0 L287.8 71.1 L288.0 71.2 L288.5 71.4 L288.8 71.5 L289.2 71.8 L289.5 71.9 L289.8 72.0 L290.2 72.2 L290.5 72.3 L291.0 72.5 L291.2 72.6 L291.6 72.8 L292.0 72.9 L292.2 73.0 L292.7 73.2 L293.0 73.4 L293.3 73.5 L293.8 73.7 L294.0 73.8 L294.5 74.0 L294.8 74.1 L295.1 74.2 L295.5 74.4 L295.8 74.5 L296.2 74.8 L296.5 74.9 L296.8 75.0 L297.2 75.2 L297.5 75.3 L298.0 75.5 L298.2 75.6 L298.6 75.8 L299.0 75.9 L299.2 76.0 L299.7 76.2 L300.0 76.4 L300.3 76.5 L300.8 76.7 L301.0 76.8 L301.5 77.0 L301.8 77.1 L302.1 77.2 L302.5 77.4 L302.8 77.5 L303.2 77.8 L303.5 77.9 L303.8 78.0 L304.2 78.2 L304.5 78.3 L305.0 78.5 L305.2 78.6 L305.5 78.8 L306.0 79.0 L306.2 79.1 L306.7 79.2 L307.0 79.4 L307.3 79.5 L307.8 79.7 L308.0 79.8 L308.4 80.0 L308.8 80.1 L309.0 80.3 L309.5 80.5 L309.8 80.6 L310.1 80.8 L310.5 80.9"/><path d="M236.1 222.5 L235.8 222.3 L235.5 222.1 L235.2 221.9 L235.0 221.8 L234.6 221.5 L234.2 221.3 L234.0 221.1 L233.8 220.9 L233.5 220.8 L233.1 220.5 L232.8 220.3 L232.5 220.1 L232.2 219.9 L232.0 219.8 L231.6 219.5 L231.2 219.3 L231.0 219.1 L230.8 218.9 L230.5 218.8 L230.1 218.5 L229.8 218.3 L229.5 218.1 L229.2 217.9 L229.0 217.8 L228.6 217.5 L228.2 217.3 L228.0 217.1 L227.8 216.9 L227.5 216.8 L227.1 216.5 L226.8 216.2 L226.5 216.1 L226.2 215.9 L226.0 215.7 L225.6 215.5 L225.3 215.2 L225.0 215.1 L224.8 214.9 L224.5 214.7 L224.1 214.5 L223.8 214.2 L223.5 214.1 L223.2 213.9 L223.0 213.7 L222.7 213.5 L222.3 213.2 L222.0 213.1 L221.8 212.9 L221.5 212.7 L221.2 212.5 L220.8 212.2 L220.5 212.0 L220.2 211.9 L220.0 211.7 L219.7 211.5 L219.3 211.2 L219.0 211.0 L218.8 210.9 L218.5 210.7 L218.2 210.5 L217.8 210.2 L217.5 210.0 L217.2 209.9 L217.0 209.7 L216.7 209.5 L216.4 209.2 L216.0 209.0 L215.8 208.8 L215.5 208.7 L215.2 208.5 L214.9 208.2 L214.5 208.0 L214.2 207.8 L214.0 207.7 L213.8 207.5 L213.4 207.2 L213.0 207.0 L212.8 206.8 L212.5 206.6 L212.2 206.5 L211.9 206.2 L211.6 206.0 L211.2 205.8 L211.0 205.6 L210.8 205.5 L210.5 205.2 L210.1 205.0 L209.8 204.8 L209.5 204.6 L209.2 204.4 L209.0 204.2 L208.6 204.0 L208.3 203.8 L208.0 203.6 L207.8 203.4 L207.5 203.2 L207.2 203.0 L206.8 202.8 L206.5 202.6 L206.2 202.4 L206.0 202.2 L205.7 202.0 L205.3 201.8 L205.0 201.5 L204.8 201.4 L204.5 201.2 L204.2 201.0 L203.9 200.8 L203.5 200.5 L203.2 200.3 L203.0 200.2 L202.8 200.0 L202.4 199.8 L202.0 199.5 L201.8 199.3 L201.5 199.1 L201.2 199.0 L200.9 198.8 L200.6 198.5 L200.2 198.3 L200.0 198.1 L199.8 197.9 L199.5 197.8 L199.1 197.5 L198.8 197.2 L198.5 197.1 L198.2 196.9 L198.0 196.7 L197.7 196.5 L197.3 196.2 L197.0 196.0 L196.8 195.9 L196.5 195.7 L196.2 195.5 L195.8 195.2 L195.5 195.0 L195.2 194.8 L195.0 194.7 L194.8 194.5 L194.4 194.2 L194.0 194.0 L193.8 193.8 L193.5 193.6 L193.2 193.5 L193.0 193.2 L192.6 193.0 L192.2 192.8 L192.0 192.6 L191.8 192.4 L191.5 192.2 L191.1 192.0 L190.8 191.8 L190.5 191.6 L190.2 191.4 L190.0 191.2 L189.7 191.0 L189.3 190.8 L189.0 190.5 L188.8 190.3 L188.5 190.2 L188.2 190.0 L187.9 189.8 L187.5 189.5 L187.2 189.3 L187.0 189.1 L186.8 188.9 L186.5 188.8 L186.1 188.5 L185.8 188.3 L185.5 188.1 L185.2 187.9 L185.0 187.7 L184.7 187.5 L184.3 187.2 L184.0 187.0 L183.8 186.9 L183.5 186.7 L183.2 186.5 L182.9 186.2 L182.5 186.0 L182.2 185.8 L182.0 185.6 L181.8 185.5 L181.4 185.2 L181.1 185.0 L180.8 184.8 L180.5 184.6 L180.2 184.4 L180.0 184.2 L179.7 184.0 L179.3 183.8 L179.0 183.5 L178.8 183.4 L178.5 183.2 L178.2 183.0 L177.9 182.8 L177.5 182.5 L177.2 182.3 L177.0 182.1 L176.8 182.0 L176.5 181.8 L176.1 181.5 L175.8 181.3 L175.5 181.1 L175.2 180.9 L175.0 180.7 L174.7 180.5 L174.3 180.2 L174.0 180.0 L173.8 179.8 L173.5 179.7 L173.2 179.5 L172.9 179.2 L172.6 179.0 L172.2 178.8 L172.0 178.6 L171.8 178.4 L171.5 178.2 L171.1 178.0 L170.8 177.8 L170.5 177.6 L170.2 177.4 L170.0 177.2 L169.7 177.0 L169.4 176.8 L169.0 176.5 L168.8 176.3 L168.5 176.1 L168.2 176.0 L168.0 175.8 L167.6 175.5 L167.3 175.2 L167.0 175.1 L166.8 174.9 L166.5 174.7 L166.2 174.5 L165.8 174.2 L165.5 174.0 L165.2 173.8 L165.0 173.6 L164.8 173.5 L164.4 173.2 L164.1 173.0 L163.8 172.8 L163.5 172.6 L163.2 172.4 L163.0 172.2 L162.7 172.0 L162.3 171.8 L162.0 171.5 L161.8 171.3 L161.5 171.1 L161.2 171.0 L160.9 170.8 L160.6 170.5 L160.2 170.3 L160.0 170.1 L159.8 169.9 L159.5 169.7 L159.2 169.5 L158.8 169.2 L158.5 169.0 L158.2 168.8 L158.0 168.6 L157.8 168.5 L157.5 168.2 L157.1 168.0 L156.8 167.8 L156.5 167.6 L156.2 167.4 L156.0 167.2 L155.7 167.0 L155.4 166.8 L155.0 166.5 L154.8 166.3 L154.5 166.1 L154.2 165.9 L154.0 165.8 L153.6 165.5 L153.3 165.2 L153.0 165.0 L152.8 164.9 L152.5 164.7 L152.2 164.5 L151.9 164.2 L151.6 164.0 L151.2 163.8 L151.0 163.6 L150.8 163.4 L150.5 163.2 L150.2 163.0 L149.8 162.8 L149.5 162.5 L149.2 162.3 L149.0 162.1 L148.8 162.0 L148.5 161.8 L148.1 161.5 L147.8 161.2 L147.5 161.1 L147.2 160.9 L147.0 160.7 L146.7 160.5 L146.4 160.2 L146.1 160.0 L145.8 159.8 L145.5 159.6 L145.2 159.4 L145.0 159.2 L144.7 159.0 L144.3 158.8 L144.0 158.5 L143.8 158.3 L143.5 158.1 L143.2 158.0 L143.0 157.8 L142.6 157.5 L142.3 157.2 L142.0 157.0 L141.8 156.9 L141.5 156.7 L141.2 156.5 L140.9 156.2 L140.6 156.0 L140.2 155.8 L140.0 155.6 L139.8 155.4 L139.5 155.2 L139.2 155.0 L138.9 154.8 L138.5 154.5 L138.2 154.3 L138.0 154.1 L137.8 153.9 L137.5 153.7 L137.2 153.5 L136.8 153.2 L136.5 153.0 L136.2 152.8 L136.0 152.6 L135.8 152.4 L135.5 152.2 L135.2 152.0 L134.8 151.8 L134.5 151.5 L134.2 151.3 L134.0 151.1 L133.8 151.0 L133.5 150.8 L133.1 150.5 L132.8 150.2 L132.5 150.0 L132.2 149.8 L132.0 149.7 L131.8 149.5 L131.4 149.2 L131.1 149.0 L130.8 148.8 L130.5 148.5 L130.2 148.4 L130.0 148.2 L129.8 148.0 L129.4 147.8 L129.1 147.5 L128.8 147.2 L128.5 147.1 L128.2 146.9 L128.0 146.7 L127.8 146.5 L127.4 146.2 L127.1 146.0 L126.8 145.8 L126.5 145.6 L126.2 145.4 L126.0 145.2 L125.8 145.0 L125.4 144.8 L125.1 144.5 L124.8 144.2 L124.5 144.1 L124.2 143.9 L124.0 143.7 L123.8 143.5 L123.4 143.2 L123.1 143.0 L122.8 142.8 L122.5 142.6 L122.2 142.4 L122.0 142.2 L121.8 142.0 L121.4 141.8 L121.1 141.5 L120.8 141.2 L120.5 141.0 L120.2 140.9 L120.0 140.7 L119.8 140.5 L119.4 140.2 L119.1 140.0 L118.8 139.8 L118.5 139.5 L118.2 139.3 L118.0 139.2 L117.8 139.0 L117.5 138.8 L117.1 138.5 L116.8 138.2 L116.5 138.0 L116.2 137.8 L116.0 137.6 L115.8 137.4 L115.5 137.2 L115.2 137.0 L114.8 136.8 L114.5 136.5 L114.2 136.3 L114.0 136.1 L113.8 135.9 L113.5 135.7 L113.2 135.5 L112.9 135.2 L112.6 135.0 L112.2 134.8 L112.0 134.6 L111.8 134.4 L111.5 134.2 L111.2 134.0 L110.9 133.8 L110.6 133.5 L110.3 133.2 L110.0 133.0 L109.8 132.9 L109.5 132.7 L109.2 132.5 L109.0 132.2 L108.6 132.0 L108.3 131.8 L108.0 131.5 L107.8 131.3 L107.5 131.1 L107.2 130.9 L107.0 130.7 L106.7 130.5 L106.4 130.2 L106.1 130.0 L105.8 129.8 L105.5 129.6 L105.2 129.4 L105.0 129.2 L104.8 129.0 L104.4 128.8 L104.1 128.5 L103.8 128.2 L103.5 128.0 L103.2 127.8 L103.0 127.6 L102.8 127.4 L102.5 127.2 L102.2 127.0 L101.9 126.8 L101.6 126.5 L101.2 126.3 L101.0 126.1 L100.8 125.9 L100.5 125.7 L100.2 125.5 L100.0 125.2 L99.6 125.0 L99.3 124.8 L99.0 124.5 L98.8 124.3 L98.5 124.1 L98.2 123.9 L98.0 123.7 L97.7 123.5 L97.4 123.2 L97.1 123.0 L96.8 122.8 L96.5 122.5 L96.2 122.3 L96.0 122.1 L95.8 121.9 L95.5 121.7 L95.2 121.5 L94.9 121.2 L94.6 121.0 L94.2 120.8 L94.0 120.6 L93.8 120.4 L93.5 120.2 L93.2 120.0 L93.0 119.8 L92.7 119.5 L92.4 119.2 L92.0 119.0 L91.8 118.8 L91.5 118.6 L91.2 118.4 L91.0 118.2 L90.8 118.0 L90.5 117.8 L90.2 117.5 L89.8 117.2 L89.5 117.0 L89.2 116.8 L89.0 116.6 L88.8 116.4 L88.5 116.2 L88.2 116.0 L88.0 115.8 L87.7 115.5 L87.3 115.2 L87.0 115.0 L86.8 114.8 L86.5 114.6 L86.2 114.4 L86.0 114.2 L85.8 114.0 L85.5 113.8 L85.2 113.5 L84.9 113.2 L84.6 113.0 L84.2 112.8 L84.0 112.6 L83.8 112.3 L83.5 112.1 L83.2 111.9 L83.0 111.7 L82.7 111.5 L82.4 111.2 L82.1 111.0 L81.8 110.8 L81.5 110.5 L81.2 110.3 L81.0 110.1 L80.8 109.9 L80.5 109.7 L80.2 109.5 L79.9 109.2 L79.6 109.0 L79.3 108.8 L79.0 108.5 L78.8 108.3 L78.5 108.1 L78.2 107.9 L78.0 107.7 L77.8 107.5 L77.5 107.2 L77.2 107.0 L76.9 106.8 L76.6 106.5 L76.3 106.2 L76.0 106.0 L75.8 105.8 L75.5 105.6 L75.2 105.4 L75.0 105.2 L74.8 105.0 L74.5 104.8 L74.2 104.5 L73.9 104.2 L73.6 104.0 L73.3 103.8 L73.0 103.5 L72.8 103.3 L72.5 103.1 L72.2 102.9 L72.0 102.7 L71.8 102.5 L71.5 102.2 L71.2 102.0 L70.9 101.8 L70.6 101.5 L70.3 101.2 L70.0 101.0 L69.8 100.8 L69.5 100.6 L69.2 100.4 L69.0 100.2 L68.8 100.0 L68.5 99.8 L68.2 99.5 L67.9 99.2 L67.6 99.0 L67.3 98.8 L67.0 98.5 L66.8 98.3 L66.5 98.1 L66.2 97.9 L66.0 97.6 L65.8 97.4 L65.5 97.2 L65.2 97.0 L64.9 96.8 L64.6 96.5 L64.4 96.2 L64.1 96.0 L63.8 95.8 L63.5 95.5 L63.2 95.3 L63.0 95.1 L62.8 94.9 L62.5 94.7 L62.2 94.5 L62.0 94.2 L61.7 94.0 L61.4 93.8 L61.1 93.5 L60.9 93.2 L60.6 93.0 L60.3 92.8 L60.0 92.5 L59.8 92.3 L59.5 92.1 L59.2 91.9 L59.0 91.6 L58.8 91.4 L58.5 91.2 L58.2 91.0 L58.0 90.8 L57.7 90.5 L57.4 90.2 L57.1 90.0 L56.8 89.8 L56.5 89.5 L56.2 89.3 L56.0 89.0 L55.8 88.8 L55.5 88.6 L55.2 88.4 L55.0 88.2 L54.8 87.9 L54.5 87.7 L54.2 87.5 L54.0 87.2 L53.7 87.0 L53.4 86.8 L53.1 86.5 L52.8 86.2 L52.6 86.0 L52.3 85.8 L52.0 85.5 L51.8 85.3 L51.5 85.1 L51.2 84.8 L51.0 84.6 L50.8 84.4 L50.5 84.2 L50.2 84.0 L50.0 83.7 L49.7 83.5 L49.5 83.2 L49.2 83.0 L48.9 82.8 L48.6 82.5 L48.4 82.2 L48.1 82.0 L47.8 81.8 L47.5 81.5 L47.2 81.3 L47.0 81.0 L46.8 80.8 L46.5 80.6 L46.2 80.3 L46.0 80.1 L45.8 79.9 L45.5 79.7 L45.2 79.4 L45.0 79.2 L44.8 79.0 L44.5 78.8 L44.2 78.5 L44.0 78.2 L43.7 78.0 L43.4 77.8 L43.1 77.5 L42.9 77.2 L42.6 77.0 L42.3 76.8 L42.1 76.5 L41.8 76.2 L41.5 76.0 L41.2 75.8 L41.0 75.5"/><path d="M310.5 189.6 L310.2 189.3 L310.0 189.0 L309.8 188.8 L309.6 188.5 L309.4 188.2 L309.2 188.0 L309.0 187.8 L308.8 187.5 L308.5 187.1 L308.2 186.8 L308.0 186.5 L307.8 186.2 L307.6 186.0 L307.4 185.8 L307.2 185.5 L307.0 185.1 L306.8 184.8 L306.5 184.5 L306.4 184.2 L306.2 184.0 L306.0 183.7 L305.8 183.4 L305.5 183.0 L305.3 182.8 L305.2 182.5 L305.0 182.2 L304.8 181.9 L304.5 181.5 L304.4 181.2 L304.2 181.0 L304.0 180.7 L303.8 180.2 L303.6 180.0 L303.5 179.8 L303.2 179.4 L303.0 179.0 L302.9 178.8 L302.8 178.4 L302.5 178.0 L302.4 177.8 L302.2 177.4 L302.0 177.0 L301.9 176.8 L301.8 176.3 L301.6 176.0 L301.5 175.7 L301.3 175.2 L301.2 175.0 L301.1 174.5 L301.0 174.2 L300.8 173.8 L300.8 173.4 L300.6 173.0 L300.5 172.5 L300.5 172.2 L300.4 171.8 L300.4 171.2 L300.3 170.8 L300.3 170.2 L300.3 169.8 L300.4 169.2 L300.5 168.8 L300.5 168.5 L300.7 168.0 L300.8 167.7 L300.9 167.2 L301.1 167.0 L301.2 166.6 L301.5 166.2 L301.7 166.0 L301.9 165.8 L302.1 165.5 L302.3 165.2 L302.6 165.0 L302.9 164.8 L303.2 164.5 L303.5 164.3 L303.8 164.1 L304.0 163.9 L304.3 163.8 L304.8 163.5 L305.0 163.4 L305.3 163.2 L305.8 163.1 L306.0 163.0 L306.5 162.8 L306.8 162.7 L307.2 162.6 L307.5 162.5 L308.0 162.4 L308.5 162.3 L308.8 162.2 L309.2 162.1 L309.8 162.0 L310.0 162.0 L310.5 161.9"/></g>
<g fill="none" stroke="#000" stroke-opacity="0.75" stroke-width="0.90"><path d="M433.3 223.8 L432.9 223.6 L432.7 223.5 L432.3 223.3 L431.9 223.1 L431.7 223.0 L431.2 222.8 L430.9 222.7 L430.7 222.6 L430.2 222.3 L429.9 222.2 L429.6 222.1 L429.2 221.9 L428.9 221.7 L428.6 221.6 L428.2 221.4 L427.9 221.3 L427.5 221.1 L427.2 220.9 L426.9 220.8 L426.4 220.6 L426.2 220.4 L425.9 220.3 L425.4 220.1 L425.2 220.0 L424.9 219.8 L424.4 219.6 L424.2 219.5 L423.8 219.3 L423.4 219.1 L423.2 219.0 L422.8 218.8 L422.4 218.6 L422.2 218.5 L421.8 218.3 L421.4 218.1 L421.2 218.0 L420.7 217.8 L420.4 217.7 L420.2 217.5 L419.7 217.3 L419.4 217.2 L419.2 217.1 L418.7 216.8 L418.4 216.7 L418.2 216.6 L417.7 216.3 L417.4 216.2 L417.1 216.1 L416.7 215.8 L416.4 215.7 L416.1 215.6 L415.7 215.3 L415.4 215.2 L415.1 215.1 L414.7 214.8 L414.4 214.7 L414.1 214.6 L413.7 214.3 L413.4 214.2 L413.1 214.1 L412.7 213.9 L412.4 213.7 L412.1 213.6 L411.7 213.4 L411.4 213.2 L411.1 213.1 L410.7 212.9 L410.4 212.7 L410.1 212.6 L409.7 212.4 L409.4 212.2 L409.1 212.1 L408.7 211.8 L408.4 211.7 L408.1 211.6 L407.7 211.3 L407.4 211.2 L407.1 211.1 L406.7 210.8 L406.4 210.7 L406.1 210.6 L405.7 210.3 L405.4 210.2 L405.2 210.1 L404.7 209.8 L404.4 209.7 L404.2 209.6 L403.7 209.3 L403.4 209.2 L403.2 209.0 L402.7 208.8 L402.4 208.7 L402.2 208.5 L401.7 208.3 L401.4 208.1 L401.2 208.0 L400.8 207.8 L400.4 207.6 L400.2 207.5 L399.8 207.3 L399.4 207.1 L399.2 207.0 L398.9 206.8 L398.4 206.6 L398.2 206.5 L397.9 206.3 L397.4 206.1 L397.2 205.9 L396.9 205.8 L396.5 205.6 L396.2 205.4"/><path d="M488.3 223.8 L487.9 223.7 L487.7 223.6 L487.2 223.3 L486.9 223.2 L486.5 223.1 L486.2 222.9 L485.9 222.8 L485.4 222.6 L485.2 222.5 L484.8 222.3 L484.4 222.2 L484.2 222.1 L483.7 221.8 L483.4 221.7 L483.0 221.6 L482.7 221.4 L482.4 221.3 L481.9 221.1 L481.7 221.0 L481.3 220.8 L480.9 220.7 L480.7 220.6 L480.2 220.3 L479.9 220.2 L479.5 220.1 L479.2 219.9 L478.9 219.8 L478.4 219.6 L478.2 219.5 L477.8 219.3 L477.4 219.1 L477.2 219.0 L476.7 218.8 L476.4 218.7 L476.1 218.6 L475.7 218.4 L475.4 218.3 L475.0 218.1 L474.7 217.9 L474.4 217.8 L473.9 217.6 L473.7 217.5 L473.3 217.3 L472.9 217.1 L472.7 217.0 L472.2 216.8 L471.9 216.7 L471.6 216.6 L471.2 216.4 L470.9 216.2 L470.5 216.1 L470.2 215.9 L469.9 215.8 L469.4 215.6 L469.2 215.5 L468.9 215.3 L468.4 215.1 L468.2 215.0 L467.7 214.8 L467.4 214.7 L467.2 214.6 L466.7 214.3 L466.4 214.2 L466.1 214.1 L465.7 213.9 L465.4 213.8 L465.0 213.6 L464.7 213.4 L464.4 213.3 L463.9 213.1 L463.7 212.9 L463.4 212.8 L462.9 212.6 L462.7 212.5 L462.3 212.3 L461.9 212.1 L461.7 212.0 L461.2 211.8 L460.9 211.7 L460.7 211.6 L460.2 211.3 L459.9 211.2 L459.6 211.1 L459.2 210.9 L458.9 210.7 L458.5 210.6 L458.2 210.4 L457.9 210.3 L457.5 210.1 L457.2 209.9 L456.9 209.8 L456.4 209.6 L456.2 209.4 L455.9 209.3 L455.4 209.1 L455.2 209.0 L454.8 208.8 L454.4 208.6 L454.2 208.5 L453.8 208.3 L453.4 208.1 L453.2 208.0 L452.7 207.8 L452.4 207.7 L452.2 207.5 L451.7 207.3 L451.4 207.2 L451.2 207.1 L450.7 206.8 L450.4 206.7 L450.2 206.6 L449.7 206.3 L449.4 206.2 L449.1 206.1 L448.7 205.8 L448.4 205.7 L448.1 205.6 L447.7 205.4 L447.4 205.2 L447.1 205.1 L446.7 204.9 L446.4 204.7 L446.1 204.6 L445.7 204.4 L445.4 204.3 L445.0 204.1 L444.7 203.9 L444.4 203.8 L444.0 203.6 L443.7 203.4 L443.4 203.3 L443.0 203.1 L442.7 202.9 L442.4 202.8 L442.0 202.6 L441.7 202.4 L441.4 202.3 L441.0 202.1 L440.7 201.9 L440.4 201.8 L440.0 201.6 L439.7 201.4 L439.4 201.3 L439.0 201.1 L438.7 200.9 L438.4 200.8 L438.0 200.6 L437.7 200.4 L437.4 200.3 L437.0 200.1 L436.7 199.9 L436.4 199.7 L436.1 199.6 L435.7 199.4 L435.4 199.2 L435.1 199.1 L434.7 198.9 L434.4 198.7 L434.1 198.6 L433.7 198.3 L433.4 198.2 L433.1 198.1 L432.7 197.8 L432.4 197.7 L432.2 197.6 L431.7 197.3 L431.4 197.2 L431.2 197.0 L430.7 196.8 L430.4 196.7 L430.2 196.5 L429.8 196.3 L429.4 196.1 L429.2 196.0 L428.8 195.8 L428.4 195.6 L428.2 195.5 L427.9 195.3 L427.4 195.1 L427.2 194.9 L426.9 194.8 L426.4 194.6 L426.2 194.4 L425.9 194.3 L425.5 194.1 L425.2 193.9 L424.9 193.8 L424.6 193.6 L424.2 193.4 L423.9 193.2 L423.6 193.1 L423.2 192.8 L422.9 192.7 L422.7 192.6 L422.2 192.3 L421.9 192.1 L421.7 192.0 L421.3 191.8 L420.9 191.6 L420.7 191.5 L420.4 191.3 L419.9 191.1 L419.7 190.9 L419.4 190.8 L419.0 190.6 L418.7 190.4 L418.4 190.2 L418.1 190.1 L417.7 189.8 L417.4 189.7 L417.2 189.6 L416.7 189.3 L416.4 189.2 L416.2 189.0 L415.8 188.8 L415.4 188.6 L415.2 188.5 L414.9 188.3 L414.5 188.1 L414.2 187.9 L413.9 187.8 L413.6 187.6 L413.2 187.3 L412.9 187.2 L412.7 187.1 L412.2 186.8 L411.9 186.6 L411.7 186.5 L411.3 186.3 L410.9 186.1 L410.7 185.9 L410.4 185.8 L410.0 185.6 L409.7 185.4 L409.4 185.2 L409.1 185.1 L408.7 184.8 L408.4 184.7 L408.2 184.5 L407.8 184.3 L407.4 184.1 L407.2 184.0 L406.9 183.8 L406.5 183.6 L406.2 183.4 L405.9 183.2 L405.6 183.1 L405.2 182.8 L404.9 182.7 L404.7 182.5 L404.3 182.3 L403.9 182.1 L403.7 181.9 L403.4 181.8 L403.0 181.6 L402.7 181.4 L402.4 181.2 L402.2 181.1 L401.8 180.8 L401.4 180.6 L401.2 180.5 L400.9 180.3 L400.5 180.1 L400.2 179.9 L399.9 179.7 L399.6 179.6 L399.2 179.3 L398.9 179.1 L398.7 179.0 L398.4 178.8 L397.9 178.6 L397.7 178.4 L397.4 178.3 L397.1 178.1 L396.7 177.8 L396.4 177.7 L396.2 177.5"/><path d="M559.9 223.8 L559.5 223.6 L559.2 223.5 L558.7 223.4 L558.5 223.3 L558.0 223.1 L557.7 223.0 L557.2 222.8 L557.0 222.8 L556.5 222.6 L556.2 222.5 L555.7 222.3 L555.5 222.2 L555.0 222.1 L554.7 222.0 L554.3 221.8 L554.0 221.7 L553.6 221.6 L553.2 221.4 L552.9 221.3 L552.5 221.1 L552.2 221.1 L551.7 220.9 L551.5 220.8 L551.0 220.6 L550.7 220.5 L550.2 220.3 L550.0 220.2 L549.5 220.1 L549.2 220.0 L548.7 219.8 L548.5 219.7 L548.1 219.6 L547.7 219.4 L547.4 219.3 L547.0 219.1 L546.7 219.0 L546.2 218.9 L546.0 218.8 L545.5 218.6 L545.2 218.5 L544.7 218.3 L544.5 218.2 L544.0 218.1 L543.7 217.9 L543.3 217.8 L543.0 217.7 L542.7 217.6 L542.2 217.4 L542.0 217.3 L541.5 217.1 L541.2 217.0 L540.7 216.8 L540.5 216.7 L540.0 216.6 L539.7 216.4 L539.4 216.3 L539.0 216.1 L538.7 216.0 L538.2 215.9 L538.0 215.8 L537.5 215.6 L537.2 215.5 L536.8 215.3 L536.5 215.2 L536.1 215.1 L535.7 214.9 L535.5 214.8 L535.0 214.6 L534.7 214.5 L534.2 214.3 L534.0 214.2 L533.5 214.1 L533.2 213.9 L532.9 213.8 L532.5 213.6 L532.2 213.5 L531.7 213.3 L531.5 213.2 L531.0 213.1 L530.7 212.9 L530.4 212.8 L530.0 212.6 L529.7 212.5 L529.2 212.3 L529.0 212.2 L528.5 212.1 L528.2 211.9 L527.9 211.8 L527.5 211.6 L527.2 211.5 L526.7 211.3 L526.5 211.2 L526.0 211.1 L525.7 210.9 L525.4 210.8 L525.0 210.6 L524.7 210.5 L524.2 210.3 L524.0 210.2 L523.5 210.1 L523.2 209.9 L522.9 209.8 L522.5 209.6 L522.2 209.5 L521.7 209.3 L521.5 209.2 L521.1 209.1 L520.7 208.9 L520.5 208.8 L520.0 208.6 L519.7 208.5 L519.3 208.3 L519.0 208.2 L518.7 208.1 L518.2 207.9 L518.0 207.7 L517.5 207.6 L517.2 207.4 L516.9 207.3 L516.5 207.1 L516.2 207.0 L515.7 206.8 L515.5 206.7 L515.1 206.6 L514.7 206.4 L514.5 206.3 L514.0 206.1 L513.7 206.0 L513.3 205.8 L513.0 205.6 L512.7 205.5 L512.2 205.3 L511.9 205.2 L511.6 205.1 L511.2 204.9 L510.9 204.8 L510.4 204.6 L510.2 204.5 L509.8 204.3 L509.4 204.1 L509.2 204.0 L508.7 203.8 L508.4 203.7 L508.1 203.6 L507.7 203.4 L507.4 203.3 L507.0 203.1 L506.7 202.9 L506.4 202.8 L505.9 202.6 L505.7 202.5 L505.3 202.3 L504.9 202.2 L504.7 202.1 L504.2 201.8 L503.9 201.7 L503.6 201.6 L503.2 201.4 L502.9 201.3 L502.4 201.1 L502.2 200.9 L501.9 200.8 L501.4 200.6 L501.2 200.5 L500.8 200.3 L500.4 200.2 L500.2 200.0 L499.7 199.8 L499.4 199.7 L499.1 199.6 L498.7 199.4 L498.4 199.3 L498.0 199.1 L497.7 198.9 L497.4 198.8 L496.9 198.6 L496.7 198.5 L496.4 198.3 L495.9 198.1 L495.7 198.0 L495.3 197.8 L494.9 197.6 L494.7 197.5 L494.2 197.3 L493.9 197.2 L493.7 197.1 L493.2 196.8 L492.9 196.7 L492.6 196.6 L492.2 196.4 L491.9 196.3 L491.5 196.1 L491.2 195.9 L490.9 195.8 L490.4 195.6 L490.2 195.4 L489.9 195.3 L489.4 195.1 L489.2 195.0 L488.9 194.8 L488.4 194.6 L488.2 194.5 L487.8 194.3 L487.4 194.1 L487.2 194.0 L486.8 193.8 L486.4 193.7 L486.2 193.5 L485.7 193.3 L485.4 193.2 L485.2 193.0 L484.7 192.8 L484.4 192.7 L484.2 192.6 L483.7 192.3 L483.4 192.2 L483.1 192.1 L482.7 191.8 L482.4 191.7 L482.1 191.6 L481.7 191.3 L481.4 191.2 L481.1 191.1 L480.7 190.9 L480.4 190.7 L480.1 190.6 L479.7 190.4 L479.4 190.2 L479.1 190.1 L478.7 189.9 L478.4 189.7 L478.1 189.6 L477.7 189.4 L477.4 189.2 L477.1 189.1 L476.7 188.9 L476.4 188.7 L476.1 188.6 L475.7 188.4 L475.4 188.2 L475.1 188.1 L474.7 187.9 L474.4 187.7 L474.1 187.6 L473.7 187.4 L473.4 187.2 L473.1 187.1 L472.7 186.8 L472.4 186.7 L472.1 186.6 L471.7 186.3 L471.4 186.2 L471.1 186.1 L470.7 185.8 L470.4 185.7 L470.2 185.6 L469.7 185.3 L469.4 185.2 L469.2 185.0 L468.7 184.8 L468.4 184.7 L468.2 184.5 L467.8 184.3 L467.4 184.1 L467.2 184.0 L466.8 183.8 L466.4 183.6 L466.2 183.5 L465.9 183.3 L465.4 183.1 L465.2 183.0 L464.9 182.8 L464.4 182.6 L464.2 182.4 L463.9 182.3 L463.5 182.1 L463.2 181.9 L462.9 181.8 L462.6 181.6 L462.2 181.4 L461.9 181.2 L461.6 181.1 L461.2 180.8 L460.9 180.7 L460.7 180.5 L460.3 180.3 L459.9 180.1 L459.7 180.0 L459.3 179.8 L458.9 179.6 L458.7 179.5 L458.4 179.3 L458.0 179.1 L457.7 178.9 L457.4 178.8 L457.1 178.6 L456.7 178.4 L456.4 178.2 L456.1 178.1 L455.7 177.8 L455.4 177.7 L455.2 177.5 L454.8 177.3 L454.4 177.1 L454.2 177.0 L453.9 176.8 L453.5 176.6 L453.2 176.4 L452.9 176.3 L452.6 176.1 L452.2 175.8 L451.9 175.7 L451.7 175.6 L451.2 175.3 L450.9 175.1 L450.7 175.0 L450.4 174.8 L449.9 174.6 L449.7 174.4 L449.4 174.3 L449.1 174.1 L448.7 173.8 L448.4 173.7 L448.2 173.6 L447.7 173.3 L447.4 173.1 L447.2 173.0 L446.9 172.8 L446.5 172.6 L446.2 172.4 L445.9 172.3 L445.6 172.1 L445.2 171.8 L444.9 171.7 L444.7 171.5 L444.3 171.3 L443.9 171.1 L443.7 170.9 L443.4 170.8 L443.1 170.6 L442.7 170.3 L442.4 170.2 L442.2 170.0 L441.8 169.8 L441.4 169.6 L441.2 169.4 L440.9 169.3 L440.5 169.1 L440.2 168.8 L439.9 168.7 L439.7 168.5 L439.3 168.3 L438.9 168.1 L438.7 167.9 L438.4 167.8 L438.1 167.6 L437.7 167.3 L437.4 167.2 L437.2 167.0 L436.8 166.8 L436.4 166.6 L436.2 166.4 L435.9 166.3 L435.6 166.1 L435.2 165.8 L434.9 165.6 L434.7 165.5 L434.4 165.3 L434.0 165.1 L433.7 164.9 L433.4 164.7 L433.2 164.5 L432.8 164.3 L432.4 164.1 L432.2 163.9 L431.9 163.8 L431.6 163.6 L431.2 163.3 L430.9 163.1 L430.7 163.0 L430.4 162.8 L430.1 162.6 L429.7 162.3 L429.4 162.2 L429.2 162.0 L428.9 161.8 L428.5 161.6 L428.2 161.4 L427.9 161.2 L427.7 161.0 L427.3 160.8 L427.0 160.6 L426.7 160.4 L426.4 160.2 L426.2 160.1 L425.8 159.8 L425.4 159.6 L425.2 159.4 L424.9 159.2 L424.7 159.1 L424.3 158.8 L423.9 158.6 L423.7 158.4 L423.4 158.2 L423.2 158.1 L422.8 157.8 L422.4 157.6 L422.2 157.4 L421.9 157.2 L421.7 157.1 L421.3 156.8 L420.9 156.6 L420.7 156.4 L420.4 156.2 L420.2 156.1 L419.8 155.8 L419.5 155.6 L419.2 155.4 L418.9 155.2 L418.7 155.0 L418.4 154.8 L418.0 154.6 L417.7 154.3 L417.4 154.2 L417.2 154.0 L416.9 153.8 L416.6 153.6 L416.2 153.3 L415.9 153.1 L415.7 152.9 L415.4 152.8 L415.1 152.6 L414.8 152.3 L414.4 152.1 L414.2 151.9 L413.9 151.7 L413.7 151.5 L413.4 151.3 L413.0 151.1 L412.7 150.8 L412.4 150.6 L412.2 150.5 L411.9 150.3 L411.6 150.1 L411.3 149.8 L410.9 149.6 L410.7 149.4 L410.4 149.2 L410.2 149.0 L409.9 148.8 L409.6 148.6 L409.2 148.3 L408.9 148.1 L408.7 147.9 L408.4 147.7 L408.2 147.5 L407.9 147.3 L407.6 147.1 L407.2 146.8 L406.9 146.6 L406.7 146.4 L406.4 146.2 L406.2 146.0 L405.9 145.8 L405.6 145.6 L405.2 145.3 L404.9 145.1 L404.7 144.9 L404.4 144.7 L404.2 144.5 L403.9 144.3 L403.6 144.1 L403.3 143.8 L402.9 143.6 L402.7 143.4 L402.4 143.2 L402.2 143.0 L401.9 142.8 L401.7 142.6 L401.3 142.3 L401.0 142.1 L400.7 141.8 L400.4 141.6 L400.2 141.4 L399.9 141.2 L399.7 141.0 L399.4 140.8 L399.1 140.6 L398.8 140.3 L398.5 140.1 L398.2 139.8 L397.9 139.6 L397.7 139.4 L397.4 139.2 L397.2 139.0 L396.9 138.8 L396.7 138.6 L396.3 138.3 L396.2 138.2"/><path d="M669.7 218.1 L669.5 218.0 L669.0 217.9 L668.5 217.9 L668.1 217.8 L667.7 217.7 L667.2 217.6 L666.7 217.6 L666.5 217.5 L666.0 217.4 L665.5 217.3 L665.2 217.3 L664.7 217.2 L664.2 217.1 L663.7 217.1 L663.5 217.0 L663.0 216.9 L662.5 216.8 L662.2 216.8 L661.7 216.7 L661.2 216.6 L661.0 216.5 L660.5 216.5 L660.0 216.4 L659.6 216.3 L659.2 216.2 L658.7 216.1 L658.3 216.1 L658.0 216.0 L657.5 215.9 L657.0 215.8 L656.7 215.7 L656.2 215.7 L655.7 215.6 L655.5 215.5 L655.0 215.4 L654.5 215.3 L654.2 215.3 L653.7 215.2 L653.2 215.1 L653.0 215.0 L652.5 214.9 L652.0 214.8 L651.7 214.8 L651.2 214.7 L650.7 214.6 L650.5 214.5 L650.0 214.4 L649.5 214.3 L649.2 214.3 L648.7 214.1 L648.2 214.1 L648.0 214.0 L647.5 213.9 L647.1 213.8 L646.7 213.7 L646.2 213.6 L645.9 213.6 L645.5 213.5 L645.0 213.3 L644.7 213.3 L644.2 213.2 L643.7 213.1 L643.5 213.0 L643.0 212.9 L642.5 212.8 L642.2 212.7 L641.7 212.6 L641.3 212.6 L641.0 212.5 L640.5 212.4 L640.2 212.3 L639.7 212.2 L639.2 212.1 L639.0 212.0 L638.5 211.9 L638.0 211.8 L637.7 211.7 L637.2 211.6 L636.9 211.6 L636.5 211.4 L636.0 211.3 L635.7 211.3 L635.2 211.1 L634.8 211.1 L634.5 211.0 L634.0 210.8 L633.7 210.8 L633.2 210.7 L632.7 210.6 L632.5 210.5 L632.0 210.4 L631.7 210.3 L631.2 210.2 L630.7 210.1 L630.5 210.0 L630.0 209.9 L629.7 209.8 L629.2 209.7 L628.7 209.6 L628.5 209.5 L628.0 209.4 L627.7 209.3 L627.2 209.2 L626.7 209.1 L626.5 209.0 L626.0 208.9 L625.7 208.8 L625.2 208.7 L624.7 208.6 L624.5 208.5 L624.0 208.4 L623.7 208.3 L623.2 208.2 L622.8 208.1 L622.5 208.0 L622.0 207.8 L621.7 207.8 L621.2 207.6 L620.9 207.6 L620.5 207.4 L620.0 207.3 L619.7 207.2 L619.2 207.1 L619.0 207.0 L618.5 206.9 L618.1 206.8 L617.7 206.7 L617.2 206.6 L617.0 206.5 L616.5 206.4 L616.2 206.3 L615.7 206.1 L615.4 206.1 L615.0 205.9 L614.5 205.8 L614.2 205.7 L613.7 205.6 L613.5 205.5 L613.0 205.4 L612.7 205.3 L612.2 205.2 L611.8 205.1 L611.5 205.0 L611.0 204.8 L610.7 204.7 L610.2 204.6 L610.0 204.5 L609.5 204.4 L609.2 204.3 L608.7 204.2 L608.3 204.1 L608.0 203.9 L607.5 203.8 L607.2 203.7 L606.7 203.6 L606.5 203.5 L606.0 203.4 L605.7 203.3 L605.2 203.1 L604.9 203.1 L604.5 202.9 L604.1 202.8 L603.7 202.7 L603.3 202.6 L603.0 202.5 L602.5 202.3 L602.2 202.2 L601.7 202.1 L601.5 202.0 L601.0 201.8 L600.7 201.8 L600.2 201.6 L600.0 201.5 L599.5 201.4 L599.2 201.3 L598.7 201.2 L598.4 201.1 L598.0 200.9 L597.6 200.8 L597.2 200.7 L596.8 200.6 L596.5 200.4 L596.0 200.3 L595.7 200.2 L595.2 200.1 L595.0 200.0 L594.5 199.8 L594.2 199.7 L593.7 199.6 L593.5 199.5 L593.0 199.3 L592.7 199.2 L592.2 199.1 L592.0 199.0 L591.5 198.8 L591.2 198.8 L590.7 198.6 L590.5 198.5 L590.0 198.3 L589.7 198.3 L589.2 198.1 L589.0 198.0 L588.5 197.8 L588.2 197.8 L587.7 197.6 L587.5 197.5 L587.0 197.3 L586.7 197.3 L586.2 197.1 L586.0 197.0 L585.5 196.8 L585.2 196.8 L584.7 196.6 L584.5 196.5 L584.0 196.3 L583.7 196.2 L583.2 196.1 L583.0 196.0 L582.5 195.8 L582.2 195.7 L581.7 195.6 L581.5 195.5 L581.0 195.3 L580.7 195.2 L580.3 195.1 L580.0 194.9 L579.6 194.8 L579.2 194.7 L578.9 194.6 L578.5 194.4 L578.2 194.3 L577.7 194.1 L577.5 194.0 L577.0 193.9 L576.7 193.8 L576.2 193.6 L576.0 193.5 L575.5 193.3 L575.2 193.2 L574.7 193.1 L574.5 193.0 L574.0 192.8 L573.7 192.7 L573.3 192.6 L573.0 192.4 L572.6 192.3 L572.2 192.1 L572.0 192.0 L571.5 191.9 L571.2 191.8 L570.7 191.6 L570.5 191.5 L570.0 191.3 L569.7 191.2 L569.3 191.1 L569.0 190.9 L568.6 190.8 L568.2 190.6 L568.0 190.5 L567.5 190.4 L567.2 190.3 L566.7 190.1 L566.5 190.0 L566.0 189.8 L565.7 189.7 L565.4 189.6 L565.0 189.4 L564.7 189.3 L564.2 189.1 L564.0 189.0 L563.5 188.8 L563.2 188.7 L562.8 188.6 L562.5 188.4 L562.1 188.3 L561.7 188.1 L561.5 188.0 L561.0 187.8 L560.7 187.7 L560.3 187.6 L560.0 187.4 L559.6 187.3 L559.2 187.1 L559.0 187.0 L558.5 186.8 L558.2 186.7 L557.8 186.6 L557.5 186.4 L557.1 186.3 L556.7 186.1 L556.5 186.0 L556.0 185.8 L555.7 185.7 L555.3 185.6 L555.0 185.4 L554.7 185.3 L554.2 185.1 L554.0 185.0 L553.5 184.8 L553.2 184.7 L552.9 184.6 L552.5 184.4 L552.2 184.3 L551.7 184.1 L551.5 183.9 L551.1 183.8 L550.7 183.6 L550.5 183.5 L550.0 183.3 L549.7 183.2 L549.3 183.1 L549.0 182.9 L548.7 182.8 L548.2 182.6 L548.0 182.5 L547.6 182.3 L547.2 182.1 L547.0 182.0 L546.5 181.8 L546.2 181.7 L545.9 181.6 L545.5 181.4 L545.2 181.3 L544.7 181.1 L544.5 180.9 L544.1 180.8 L543.7 180.6 L543.5 180.5 L543.0 180.3 L542.7 180.2 L542.5 180.0 L542.0 179.8 L541.7 179.7 L541.3 179.6 L541.0 179.4 L540.7 179.3 L540.2 179.1 L540.0 178.9 L539.7 178.8 L539.2 178.6 L539.0 178.5 L538.6 178.3 L538.2 178.1 L538.0 178.0 L537.5 177.8 L537.2 177.7 L536.9 177.6 L536.5 177.3 L536.2 177.2 L535.9 177.1 L535.5 176.9 L535.2 176.7 L534.8 176.6 L534.5 176.4 L534.2 176.3 L533.7 176.1 L533.5 175.9 L533.2 175.8 L532.7 175.6 L532.5 175.4 L532.1 175.3 L531.7 175.1 L531.5 175.0 L531.1 174.8 L530.7 174.6 L530.5 174.5 L530.1 174.3 L529.7 174.1 L529.5 174.0 L529.0 173.8 L528.7 173.6 L528.5 173.5 L528.0 173.3 L527.7 173.2 L527.5 173.0 L527.0 172.8 L526.7 172.7 L526.5 172.5 L526.0 172.3 L525.7 172.2 L525.5 172.0 L525.0 171.8 L524.7 171.7 L524.5 171.5 L524.0 171.3 L523.7 171.2 L523.5 171.0 L523.0 170.8 L522.7 170.7 L522.5 170.5 L522.0 170.3 L521.7 170.2 L521.5 170.0 L521.0 169.8 L520.7 169.6 L520.5 169.5 L520.0 169.3 L519.7 169.1 L519.5 169.0 L519.1 168.8 L518.7 168.6 L518.5 168.5 L518.1 168.3 L517.7 168.1 L517.5 168.0 L517.2 167.8 L516.7 167.6 L516.5 167.4 L516.2 167.3 L515.7 167.1 L515.5 166.9 L515.2 166.8 L514.8 166.6 L514.5 166.4 L514.2 166.2 L513.9 166.1 L513.5 165.8 L513.2 165.7 L513.0 165.5 L512.5 165.3 L512.2 165.1 L511.9 165.0 L511.6 164.8 L511.2 164.6 L510.9 164.5 L510.7 164.3 L510.2 164.1 L509.9 163.9 L509.7 163.8 L509.3 163.6 L508.9 163.3 L508.7 163.2 L508.4 163.1 L508.0 162.8 L507.7 162.6 L507.4 162.5 L507.1 162.3 L506.7 162.1 L506.4 161.9 L506.2 161.8 L505.8 161.6 L505.4 161.4 L505.2 161.2 L504.9 161.1 L504.5 160.8 L504.2 160.6 L503.9 160.5 L503.6 160.3 L503.2 160.1 L502.9 159.9 L502.7 159.8 L502.3 159.6 L501.9 159.3 L501.7 159.2 L501.4 159.0 L501.1 158.8 L500.7 158.6 L500.4 158.4 L500.2 158.3 L499.8 158.1 L499.4 157.8 L499.2 157.7 L498.9 157.5 L498.6 157.3 L498.2 157.1 L497.9 156.9 L497.7 156.8 L497.3 156.6 L496.9 156.3 L496.7 156.2 L496.4 156.0 L496.1 155.8 L495.7 155.6 L495.4 155.4 L495.2 155.2 L494.9 155.1 L494.5 154.8 L494.2 154.6 L493.9 154.4 L493.7 154.3 L493.3 154.1 L492.9 153.8 L492.7 153.6 L492.4 153.5 L492.2 153.3 L491.8 153.1 L491.4 152.8 L491.2 152.7 L490.9 152.5 L490.6 152.3 L490.2 152.1 L489.9 151.9 L489.7 151.7 L489.4 151.5 L489.1 151.3 L488.7 151.1 L488.4 150.9 L488.2 150.7 L487.9 150.6 L487.6 150.3 L487.2 150.1 L486.9 149.9 L486.7 149.7 L486.4 149.5 L486.1 149.3 L485.7 149.1 L485.4 148.9 L485.2 148.7 L484.9 148.5 L484.6 148.3 L484.3 148.1 L483.9 147.8 L483.7 147.7 L483.4 147.5 L483.2 147.3 L482.8 147.1 L482.5 146.8 L482.2 146.6 L481.9 146.4 L481.7 146.3 L481.4 146.1 L481.1 145.8 L480.7 145.6 L480.4 145.4 L480.2 145.2 L479.9 145.0 L479.7 144.8 L479.3 144.6 L479.0 144.3 L478.7 144.1 L478.4 143.9 L478.2 143.7 L477.9 143.5 L477.6 143.3 L477.3 143.1 L476.9 142.8 L476.7 142.6 L476.4 142.4 L476.2 142.2 L475.9 142.1 L475.6 141.8 L475.3 141.6 L475.0 141.3 L474.7 141.1 L474.4 140.9 L474.2 140.7 L473.9 140.5 L473.7 140.3 L473.3 140.1 L473.0 139.8 L472.7 139.6 L472.4 139.4 L472.2 139.2 L471.9 139.0 L471.7 138.8 L471.4 138.6 L471.1 138.3 L470.8 138.1 L470.5 137.8 L470.2 137.6 L469.9 137.3 L469.7 137.1 L469.4 136.9 L469.2 136.7 L468.9 136.5 L468.7 136.3 L468.4 136.1 L468.1 135.8 L467.8 135.6 L467.5 135.3 L467.2 135.1 L466.9 134.9 L466.7 134.6 L466.4 134.4 L466.2 134.2 L465.9 134.0 L465.7 133.8 L465.4 133.6 L465.1 133.3 L464.9 133.1 L464.6 132.8 L464.3 132.6 L464.0 132.3 L463.7 132.1 L463.4 131.8 L463.2 131.6 L462.9 131.4 L462.7 131.1 L462.4 130.9 L462.2 130.7 L461.9 130.4 L461.7 130.2 L461.4 130.0 L461.2 129.8 L460.9 129.5 L460.7 129.3 L460.4 129.1 L460.2 128.8 L459.9 128.6 L459.7 128.3 L459.4 128.1 L459.1 127.8 L458.9 127.5 L458.6 127.3 L458.4 127.0 L458.1 126.8 L457.9 126.5 L457.6 126.3 L457.4 126.0 L457.1 125.8 L456.9 125.5 L456.6 125.3 L456.4 125.0 L456.1 124.8 L455.9 124.5 L455.6 124.3 L455.4 124.0 L455.2 123.8 L454.9 123.5 L454.7 123.3 L454.4 123.0 L454.2 122.8 L453.9 122.5 L453.7 122.2 L453.4 122.0 L453.2 121.7 L452.9 121.4 L452.7 121.1 L452.4 120.9 L452.2 120.6 L451.9 120.3 L451.7 120.0 L451.5 119.8 L451.3 119.5 L451.1 119.3 L450.9 119.0 L450.6 118.8 L450.4 118.5 L450.2 118.3 L449.9 118.0 L449.7 117.7 L449.4 117.4 L449.2 117.1 L449.0 116.8 L448.8 116.5 L448.6 116.3 L448.4 116.0 L448.2 115.8 L447.9 115.5 L447.7 115.2 L447.4 114.8 L447.2 114.5 L447.0 114.3 L446.9 114.0 L446.7 113.8 L446.4 113.5 L446.2 113.2 L445.9 112.8 L445.8 112.5 L445.6 112.3 L445.4 112.0 L445.2 111.8 L444.9 111.4 L444.7 111.0 L444.5 110.8 L444.4 110.5 L444.2 110.3 L443.9 109.9 L443.7 109.5 L443.5 109.3 L443.4 109.0 L443.2 108.8 L442.9 108.4 L442.8 108.0 L442.6 107.8 L442.4 107.5 L442.2 107.1 L442.0 106.8 L441.9 106.5 L441.7 106.3 L441.4 105.8 L441.3 105.5 L441.2 105.3 L440.9 104.9 L440.8 104.5 L440.6 104.3 L440.4 104.0 L440.2 103.5 L440.1 103.3 L439.9 103.0 L439.7 102.5 L439.6 102.3 L439.4 101.9 L439.3 101.5 L439.2 101.3 L438.9 100.9 L438.8 100.5 L438.7 100.3 L438.5 99.8 L438.4 99.5 L438.2 99.1 L438.1 98.8 L437.9 98.4 L437.8 98.0 L437.7 97.7 L437.5 97.3 L437.4 97.0 L437.3 96.5 L437.2 96.3 L437.0 95.8 L436.9 95.5 L436.8 95.0 L436.7 94.6 L436.6 94.3 L436.5 93.8 L436.4 93.5 L436.3 93.0 L436.2 92.6 L436.1 92.3 L436.0 91.8 L435.9 91.4 L435.9 91.0 L435.8 90.5 L435.7 90.0 L435.7 89.8 L435.6 89.3 L435.6 88.8 L435.5 88.3 L435.5 87.8 L435.5 87.3 L435.4 87.0 L435.4 86.5 L435.4 86.0 L435.4 85.5 L435.4 85.0 L435.4 84.5 L435.4 84.0 L435.4 83.8 L435.5 83.3 L435.5 82.8 L435.6 82.3 L435.6 81.8 L435.7 81.4 L435.8 81.0 L435.8 80.5 L435.9 80.0 L436.0 79.8 L436.1 79.3 L436.2 78.8 L436.3 78.5 L436.4 78.0 L436.5 77.8 L436.6 77.3 L436.7 77.0 L436.9 76.5 L437.0 76.3 L437.2 75.8 L437.2 75.5 L437.4 75.1 L437.6 74.8 L437.7 74.5 L437.9 74.0 L438.0 73.8 L438.2 73.4 L438.4 73.0 L438.5 72.8 L438.7 72.4 L438.9 72.0 L439.1 71.8 L439.2 71.5 L439.4 71.1 L439.7 70.8 L439.8 70.5 L440.0 70.3 L440.2 70.0 L440.4 69.6 L440.7 69.3 L440.9 69.0 L441.0 68.8 L441.2 68.5 L441.4 68.3 L441.7 68.0 L441.9 67.6 L442.2 67.3 L442.4 67.1 L442.7 66.8 L442.9 66.5 L443.1 66.3 L443.4 66.0 L443.6 65.8 L443.8 65.5 L444.1 65.3 L444.3 65.0 L444.6 64.8 L444.8 64.5 L445.1 64.3 L445.4 64.0 L445.6 63.8 L445.9 63.5 L446.2 63.3 L446.4 63.1 L446.7 62.9 L446.9 62.7 L447.2 62.5 L447.4 62.3 L447.7 62.0 L448.0 61.8 L448.4 61.5 L448.7 61.3 L448.9 61.1 L449.2 60.9 L449.4 60.7 L449.7 60.5 L450.1 60.3 L450.4 60.0 L450.7 59.9 L450.9 59.7 L451.2 59.5 L451.6 59.3 L451.9 59.1 L452.2 58.9 L452.4 58.8 L452.8 58.5 L453.2 58.3 L453.4 58.1 L453.7 58.0 L454.0 57.8 L454.4 57.6 L454.7 57.4 L454.9 57.3 L455.4 57.0 L455.7 56.9 L455.9 56.8 L456.3 56.5 L456.7 56.4 L456.9 56.2 L457.3 56.0 L457.7 55.9 L457.9 55.7 L458.3 55.5 L458.7 55.4 L458.9 55.3 L459.4 55.0 L459.7 54.9 L460.0 54.8 L460.4 54.6 L460.7 54.5 L461.1 54.3 L461.4 54.2 L461.7 54.0 L462.2 53.8 L462.4 53.7 L462.9 53.5 L463.2 53.4 L463.5 53.3 L463.9 53.1 L464.2 53.0 L464.7 52.9 L464.9 52.8 L465.4 52.6 L465.7 52.5 L466.2 52.3 L466.4 52.2 L466.9 52.0 L467.2 52.0 L467.7 51.8 L467.9 51.7 L468.4 51.5 L468.7 51.5 L469.2 51.3 L469.4 51.2 L469.9 51.1 L470.2 51.0 L470.7 50.8 L470.9 50.8 L471.4 50.6 L471.7 50.5 L472.2 50.4 L472.5 50.3 L472.9 50.2 L473.4 50.0 L473.7 50.0 L474.2 49.8 L474.4 49.8 L474.9 49.6 L475.2 49.5 L475.7 49.4 L476.2 49.3 L476.4 49.2 L476.9 49.1 L477.2 49.0 L477.7 48.9 L478.2 48.8 L478.4 48.8 L478.9 48.6 L479.4 48.5 L479.7 48.5 L480.2 48.4 L480.5 48.3 L480.9 48.2 L481.4 48.1 L481.7 48.0 L482.2 47.9 L482.7 47.8 L482.9 47.8 L483.4 47.7 L483.9 47.6 L484.2 47.5 L484.7 47.5 L485.2 47.4 L485.6 47.3 L485.9 47.2 L486.4 47.1 L486.9 47.1 L487.2 47.0 L487.7 46.9 L488.2 46.9 L488.5 46.8 L488.9 46.7 L489.4 46.7 L489.9 46.6 L490.2 46.5 L490.7 46.5 L491.2 46.4 L491.7 46.3 L491.9 46.3 L492.4 46.2 L492.9 46.2 L493.4 46.1 L493.7 46.0 L494.2 46.0 L494.7 45.9 L495.2 45.9 L495.7 45.8 L495.9 45.8 L496.4 45.7 L496.9 45.7 L497.4 45.6 L497.9 45.5 L498.2 45.5 L498.7 45.5 L499.2 45.4 L499.7 45.4 L500.2 45.3 L500.4 45.3 L500.9 45.2 L501.4 45.2 L501.9 45.2 L502.4 45.1 L502.9 45.1 L503.2 45.0 L503.7 45.0 L504.2 45.0 L504.7 44.9 L505.2 44.9 L505.7 44.9 L506.2 44.8 L506.5 44.8 L506.9 44.8 L507.4 44.7 L507.9 44.7 L508.4 44.7 L508.9 44.6 L509.4 44.6 L509.9 44.6 L510.4 44.6 L510.8 44.5 L511.2 44.5 L511.7 44.5 L512.2 44.5 L512.7 44.5 L513.2 44.4 L513.7 44.4 L514.2 44.4 L514.7 44.4 L515.2 44.4 L515.7 44.4 L516.2 44.3 L516.7 44.3 L517.2 44.3 L517.7 44.3 L518.0 44.3 L518.5 44.3 L519.0 44.3 L519.5 44.3 L520.0 44.3 L520.5 44.3 L521.0 44.2 L521.5 44.2 L522.0 44.2 L522.5 44.2 L523.0 44.2 L523.5 44.2 L524.0 44.2 L524.5 44.2 L525.0 44.2 L525.5 44.2 L526.0 44.2 L526.5 44.2 L527.0 44.2 L527.5 44.3 L528.0 44.3 L528.5 44.3 L529.0 44.3 L529.5 44.3 L530.0 44.3 L530.5 44.3 L530.7 44.3 L531.2 44.3 L531.7 44.3 L532.2 44.3 L532.7 44.4 L533.2 44.4 L533.7 44.4 L534.2 44.4 L534.7 44.4 L535.2 44.4 L535.7 44.5 L536.2 44.5 L536.7 44.5 L537.2 44.5 L537.7 44.5 L538.1 44.5 L538.5 44.6 L539.0 44.6 L539.5 44.6 L540.0 44.6 L540.5 44.7 L541.0 44.7 L541.5 44.7 L542.0 44.7 L542.5 44.8 L543.0 44.8 L543.2 44.8 L543.7 44.8 L544.2 44.9 L544.7 44.9 L545.2 44.9 L545.7 45.0 L546.2 45.0 L546.7 45.0 L547.0 45.1 L547.5 45.1 L548.0 45.1 L548.5 45.2 L549.0 45.2 L549.5 45.2 L550.0 45.3 L550.3 45.3 L550.7 45.3 L551.2 45.4 L551.7 45.4 L552.2 45.5 L552.7 45.5 L553.2 45.5 L553.5 45.6 L554.0 45.6 L554.5 45.6 L555.0 45.7 L555.5 45.7 L556.0 45.8 L556.2 45.8 L556.7 45.9 L557.2 45.9 L557.7 46.0 L558.2 46.0 L558.7 46.0 L559.0 46.1 L559.5 46.1 L560.0 46.2 L560.5 46.2 L561.0 46.3 L561.2 46.3 L561.7 46.4 L562.2 46.4 L562.7 46.5 L563.2 46.5 L563.5 46.6 L564.0 46.6 L564.5 46.7 L565.0 46.7 L565.5 46.8 L565.7 46.8 L566.2 46.9 L566.7 46.9 L567.2 47.0 L567.7 47.0 L568.0 47.1 L568.5 47.1 L569.0 47.2 L569.5 47.3 L569.7 47.3 L570.2 47.4 L570.7 47.4 L571.2 47.5 L571.7 47.5 L572.0 47.6 L572.5 47.7 L573.0 47.7 L573.5 47.8 L573.7 47.8 L574.2 47.9 L574.7 48.0 L575.2 48.0 L575.5 48.1 L576.0 48.1 L576.5 48.2 L577.0 48.3 L577.2 48.3 L577.7 48.4 L578.2 48.5 L578.7 48.5 L579.0 48.6 L579.5 48.6 L580.0 48.7 L580.5 48.8 L580.7 48.8 L581.2 48.9 L581.7 49.0 L582.1 49.0 L582.5 49.1 L583.0 49.2 L583.5 49.3 L583.7 49.3 L584.2 49.4 L584.7 49.5 L585.2 49.5 L585.5 49.6 L586.0 49.7 L586.5 49.7 L586.8 49.8 L587.2 49.9 L587.7 49.9 L588.2 50.0 L588.5 50.1 L589.0 50.2 L589.5 50.2 L589.8 50.3 L590.2 50.4 L590.7 50.5 L591.2 50.5 L591.5 50.6 L592.0 50.7 L592.5 50.8 L592.7 50.8 L593.2 50.9 L593.7 51.0 L594.0 51.0 L594.5 51.1 L595.0 51.2 L595.4 51.3 L595.7 51.4 L596.2 51.4 L596.7 51.5 L597.0 51.6 L597.5 51.7 L598.0 51.8 L598.2 51.8 L598.7 51.9 L599.2 52.0 L599.5 52.1 L600.0 52.2 L600.5 52.3 L600.7 52.3 L601.2 52.4 L601.7 52.5 L602.0 52.5 L602.5 52.6 L603.0 52.7 L603.2 52.8 L603.7 52.9 L604.2 53.0 L604.5 53.0 L605.0 53.2 L605.5 53.3 L605.7 53.3 L606.2 53.4 L606.7 53.5 L607.0 53.6 L607.5 53.7 L608.0 53.8 L608.2 53.8 L608.7 53.9 L609.2 54.0 L609.5 54.1 L610.0 54.2 L610.4 54.3 L610.7 54.4 L611.2 54.5 L611.6 54.5 L612.0 54.6 L612.5 54.7 L612.7 54.8 L613.2 54.9 L613.7 55.0 L614.0 55.1 L614.5 55.2 L615.0 55.3 L615.2 55.3 L615.7 55.5 L616.1 55.5 L616.5 55.6 L617.0 55.7 L617.2 55.8 L617.7 55.9 L618.2 56.0 L618.5 56.1 L619.0 56.2 L619.3 56.3 L619.7 56.4 L620.2 56.5 L620.5 56.6 L621.0 56.7 L621.5 56.8 L621.7 56.9 L622.2 57.0 L622.5 57.0 L623.0 57.2 L623.5 57.3 L623.7 57.3 L624.2 57.5 L624.6 57.5 L625.0 57.6 L625.5 57.8 L625.7 57.8 L626.2 57.9 L626.6 58.0 L627.0 58.1 L627.5 58.3 L627.7 58.3 L628.2 58.4 L628.6 58.5 L629.0 58.6 L629.5 58.8 L629.7 58.8 L630.2 59.0 L630.6 59.0 L631.0 59.1 L631.5 59.3 L631.7 59.3 L632.2 59.5 L632.5 59.5 L633.0 59.7 L633.5 59.8 L633.7 59.9 L634.2 60.0 L634.5 60.1 L635.0 60.2 L635.4 60.3 L635.7 60.4 L636.2 60.5 L636.5 60.6 L637.0 60.7 L637.2 60.8 L637.7 60.9 L638.1 61.0 L638.5 61.1 L639.0 61.3 L639.2 61.3 L639.7 61.5 L640.0 61.5 L640.5 61.7 L640.9 61.8 L641.2 61.9 L641.7 62.0 L642.0 62.1 L642.5 62.2 L642.7 62.3 L643.2 62.5 L643.6 62.5 L644.0 62.7 L644.4 62.8 L644.7 62.9 L645.2 63.0 L645.5 63.1 L646.0 63.2 L646.2 63.3 L646.7 63.5 L647.0 63.5 L647.5 63.7 L647.9 63.8 L648.2 63.9 L648.7 64.0 L649.0 64.1 L649.5 64.3 L649.7 64.3 L650.2 64.5 L650.5 64.6 L651.0 64.7 L651.3 64.8 L651.7 64.9 L652.1 65.0 L652.5 65.1 L653.0 65.3 L653.2 65.4 L653.7 65.5 L654.0 65.6 L654.5 65.8 L654.7 65.8 L655.2 66.0 L655.5 66.1 L656.0 66.2 L656.2 66.3 L656.7 66.4 L657.0 66.5 L657.5 66.7 L657.8 66.8 L658.2 66.9 L658.6 67.0 L659.0 67.2 L659.4 67.3 L659.7 67.4 L660.2 67.5 L660.5 67.6 L661.0 67.8 L661.2 67.9 L661.7 68.0 L662.0 68.1 L662.5 68.3 L662.7 68.3 L663.2 68.5 L663.5 68.6 L664.0 68.8 L664.2 68.8 L664.7 69.0 L665.0 69.1 L665.5 69.2 L665.7 69.3 L666.2 69.5 L666.5 69.6 L667.0 69.7 L667.2 69.8 L667.7 70.0 L668.0 70.1 L668.5 70.2 L668.7 70.3 L669.2 70.5 L669.5 70.6 L669.7 70.7"/></g>
<rect x="41.00" y="42.00" width="269.70" height="180.60" fill="none" stroke="#777" stroke-width="0.8"/>
<rect x="396.20" y="43.30" width="273.70" height="180.70" fill="none" stroke="#777" stroke-width="0.8"/>
<line x1="33.80" x2="41.00" y1="42.00" y2="42.00" stroke="#888" stroke-width="0.9"/><text x="17.40" y="44.10" class="t">10.0</text><line x1="33.80" x2="41.00" y1="87.15" y2="87.15" stroke="#888" stroke-width="0.9"/><text x="17.40" y="89.25" class="t">9.5</text><line x1="33.80" x2="41.00" y1="132.30" y2="132.30" stroke="#888" stroke-width="0.9"/><text x="17.40" y="134.40" class="t">9.0</text><line x1="33.80" x2="41.00" y1="177.45" y2="177.45" stroke="#888" stroke-width="0.9"/><text x="17.40" y="179.55" class="t">8.5</text><line x1="33.80" x2="41.00" y1="222.60" y2="222.60" stroke="#888" stroke-width="0.9"/><text x="17.40" y="224.70" class="t">8.0</text><line x1="41.00" x2="41.00" y1="222.60" y2="227.40" stroke="#888" stroke-width="0.9"/><text x="41.80" y="237.40" text-anchor="middle" class="t">0</text><line x1="85.95" x2="85.95" y1="222.60" y2="227.40" stroke="#888" stroke-width="0.9"/><text x="85.60" y="237.40" text-anchor="middle" class="t">1</text><line x1="130.90" x2="130.90" y1="222.60" y2="227.40" stroke="#888" stroke-width="0.9"/><text x="131.50" y="237.40" text-anchor="middle" class="t">2</text><line x1="175.85" x2="175.85" y1="222.60" y2="227.40" stroke="#888" stroke-width="0.9"/><text x="176.90" y="237.40" text-anchor="middle" class="t">3</text><line x1="220.80" x2="220.80" y1="222.60" y2="227.40" stroke="#888" stroke-width="0.9"/><text x="221.00" y="237.40" text-anchor="middle" class="t">4</text><line x1="265.75" x2="265.75" y1="222.60" y2="227.40" stroke="#888" stroke-width="0.9"/><text x="265.60" y="237.40" text-anchor="middle" class="t">5</text><line x1="310.70" x2="310.70" y1="222.60" y2="227.40" stroke="#888" stroke-width="0.9"/><text x="310.10" y="237.40" text-anchor="middle" class="t">6</text>
<line x1="389.00" x2="396.20" y1="43.30" y2="43.30" stroke="#888" stroke-width="0.9"/><text x="373.50" y="46.50" class="t tb">4.0</text><line x1="389.00" x2="396.20" y1="88.47" y2="88.47" stroke="#888" stroke-width="0.9"/><text x="373.50" y="91.67" class="t tb">3.5</text><line x1="389.00" x2="396.20" y1="133.65" y2="133.65" stroke="#888" stroke-width="0.9"/><text x="373.50" y="136.85" class="t tb">3.0</text><line x1="389.00" x2="396.20" y1="178.82" y2="178.82" stroke="#888" stroke-width="0.9"/><text x="373.50" y="182.02" class="t tb">2.5</text><line x1="389.00" x2="396.20" y1="224.00" y2="224.00" stroke="#888" stroke-width="0.9"/><text x="373.50" y="227.20" class="t tb">2.0</text><line x1="396.20" x2="396.20" y1="224.00" y2="228.80" stroke="#888" stroke-width="0.9"/><text x="396.20" y="237.40" text-anchor="middle" class="t">0</text><line x1="441.82" x2="441.82" y1="224.00" y2="228.80" stroke="#888" stroke-width="0.9"/><text x="442.90" y="237.40" text-anchor="middle" class="t">1</text><line x1="487.43" x2="487.43" y1="224.00" y2="228.80" stroke="#888" stroke-width="0.9"/><text x="486.00" y="237.40" text-anchor="middle" class="t">2</text><line x1="533.05" x2="533.05" y1="224.00" y2="228.80" stroke="#888" stroke-width="0.9"/><text x="533.60" y="237.40" text-anchor="middle" class="t">3</text><line x1="578.67" x2="578.67" y1="224.00" y2="228.80" stroke="#888" stroke-width="0.9"/><text x="578.90" y="237.40" text-anchor="middle" class="t">4</text><line x1="624.28" x2="624.28" y1="224.00" y2="228.80" stroke="#888" stroke-width="0.9"/><text x="624.00" y="237.40" text-anchor="middle" class="t">5</text><line x1="669.90" x2="669.90" y1="224.00" y2="228.80" stroke="#888" stroke-width="0.9"/><text x="669.40" y="237.40" text-anchor="middle" class="t">6</text>
<text x="2.4" y="135.7" class="ax">C</text>
<text x="174.7" y="248.1" text-anchor="middle" class="ax">A</text>
<text x="361.0" y="139.5" class="ax" transform="translate(361 0) scale(1.08 1) translate(-361 0)">B</text>
<text x="533" y="249.3" text-anchor="middle" class="ax">A</text>
<text x="4.0" y="20.0" class="pl" style="font-weight:normal;font-size:16.4px;stroke:#111;stroke-width:0.35px">(a)</text>
<text x="350.2" y="24.1" class="pl">(b)</text>
<ellipse cx="40.60" cy="41.50" rx="2.4" ry="1.3" fill="#b06a9a" stroke="#7a0024" stroke-width="0.9"/>
<ellipse cx="40.60" cy="222.10" rx="2.4" ry="1.3" fill="#b06a9a" stroke="#7a0024" stroke-width="0.9"/>
<ellipse cx="310.30" cy="41.55" rx="2.6" ry="1.35" fill="#b80018" stroke="#6a0010" stroke-width="0.5"/>
<ellipse cx="310.30" cy="222.15" rx="2.6" ry="1.35" fill="#b80018" stroke="#6a0010" stroke-width="0.5"/>
<ellipse cx="395.80" cy="42.85" rx="2.6" ry="1.35" fill="#b80018" stroke="#6a0010" stroke-width="0.5"/>
<ellipse cx="395.80" cy="223.55" rx="2.6" ry="1.35" fill="#b80018" stroke="#6a0010" stroke-width="0.5"/>
<ellipse cx="669.50" cy="42.85" rx="2.6" ry="1.35" fill="#b80018" stroke="#6a0010" stroke-width="0.5"/>
<ellipse cx="669.50" cy="223.55" rx="2.6" ry="1.35" fill="#b80018" stroke="#6a0010" stroke-width="0.5"/>
<ellipse cx="175.45" cy="131.85" rx="2.6" ry="1.35" fill="#b80018" stroke="#6a0010" stroke-width="0.5"/>
<ellipse cx="532.65" cy="133.20" rx="2.6" ry="1.35" fill="#b80018" stroke="#6a0010" stroke-width="0.5"/>
<text x="168.00" y="134.10" class="five">5</text>
<text x="525.10" y="134.80" class="five">5</text>
<rect x="101.80" y="172.80" width="6.60" height="6.20" fill="#fff" stroke="#888" stroke-width="0.7"/><text x="105.10" y="177.70" text-anchor="middle" class="cl">7</text>
<rect x="297.40" y="166.80" width="5.50" height="5.70" fill="#fff" stroke="#888" stroke-width="0.7"/><text x="300.15" y="171.20" text-anchor="middle" class="cl">8</text>
<rect x="467.20" y="177.80" width="6.00" height="6.70" fill="#fff" stroke="#888" stroke-width="0.7"/><text x="470.20" y="183.20" text-anchor="middle" class="cl"></text>
<rect x="41.00" y="47.30" width="111.00" height="36.30" fill="#fff" stroke="#5bc3ee" stroke-width="1.2"/><text transform="translate(47.80 59.70) scale(.915 1)" class="bx">Prediction</text><text transform="translate(111.00 59.70) scale(.915 1)" class="bx">7.60</text><text transform="translate(47.80 69.60) scale(.915 1)" class="bx">A</text><text transform="translate(111.00 69.60) scale(.915 1)" class="bx">0.00</text><text transform="translate(47.80 79.70) scale(.915 1)" class="bx">C</text><text transform="translate(111.00 79.70) scale(.915 1)" class="bx">10.00</text>
<rect x="173.10" y="47.30" width="111.00" height="36.30" fill="#fff" stroke="#5bc3ee" stroke-width="1.2"/><text transform="translate(179.90 59.70) scale(.915 1)" class="bx">Prediction</text><text transform="translate(244.10 59.70) scale(.915 1)" class="bx">7.17</text><text transform="translate(179.90 69.60) scale(.915 1)" class="bx">A</text><text transform="translate(244.10 69.60) scale(.915 1)" class="bx">5.40</text><text transform="translate(179.90 79.70) scale(.915 1)" class="bx">C</text><text transform="translate(241.80 79.70) scale(.915 1)" class="bx">10.00</text><line x1="283.90" x2="283.90" y1="42.00" y2="47.30" stroke="#5bc3ee" stroke-width="1.0"/>
<rect x="41.00" y="119.50" width="111.00" height="36.30" fill="#fff" stroke="#5bc3ee" stroke-width="1.2"/><text transform="translate(47.80 131.40) scale(.915 1)" class="bx">Prediction</text><text transform="translate(111.00 131.40) scale(.915 1)" class="bx">6.65</text><text transform="translate(47.80 141.45) scale(.915 1)" class="bx">A</text><text transform="translate(111.00 141.45) scale(.915 1)" class="bx">0.00</text><text transform="translate(47.80 151.60) scale(.915 1)" class="bx">C</text><text transform="translate(111.00 151.60) scale(.915 1)" class="bx">8.67</text><line x1="41.00" x2="41.00" y1="155.80" y2="162.00" stroke="#5bc3ee" stroke-width="1.0"/>
<rect x="172.80" y="119.50" width="111.00" height="36.30" fill="#fff" stroke="#5bc3ee" stroke-width="1.2"/><text transform="translate(179.60 131.40) scale(.915 1)" class="bx">Prediction</text><text transform="translate(243.80 131.40) scale(.915 1)" class="bx">7.98</text><text transform="translate(179.60 141.45) scale(.915 1)" class="bx">A</text><text transform="translate(243.80 141.45) scale(.915 1)" class="bx">5.40</text><text transform="translate(179.60 151.60) scale(.915 1)" class="bx">C</text><text transform="translate(243.80 151.60) scale(.915 1)" class="bx">8.67</text><line x1="283.80" x2="283.80" y1="155.80" y2="161.70" stroke="#5bc3ee" stroke-width="1.0"/>
<rect x="41.00" y="179.30" width="111.00" height="36.30" fill="#fff" stroke="#5bc3ee" stroke-width="1.2"/><text transform="translate(47.80 191.20) scale(.915 1)" class="bx">Prediction</text><text transform="translate(111.00 191.20) scale(.915 1)" class="bx">5.55</text><text transform="translate(47.80 201.25) scale(.915 1)" class="bx">A</text><text transform="translate(111.00 201.25) scale(.915 1)" class="bx">0.00</text><text transform="translate(47.80 211.40) scale(.915 1)" class="bx">C</text><text transform="translate(111.00 211.40) scale(.915 1)" class="bx">8.00</text><line x1="41.00" x2="41.00" y1="215.60" y2="222.60" stroke="#5bc3ee" stroke-width="1.0"/>
<rect x="173.10" y="179.50" width="111.00" height="36.30" fill="#fff" stroke="#5bc3ee" stroke-width="1.2"/><text transform="translate(179.90 191.40) scale(.915 1)" class="bx">Prediction</text><text transform="translate(244.10 191.40) scale(.915 1)" class="bx">7.77</text><text transform="translate(179.90 201.45) scale(.915 1)" class="bx">A</text><text transform="translate(244.10 201.45) scale(.915 1)" class="bx">5.40</text><text transform="translate(179.90 211.60) scale(.915 1)" class="bx">C</text><text transform="translate(244.10 211.60) scale(.915 1)" class="bx">8.00</text><line x1="283.80" x2="283.80" y1="215.80" y2="222.60" stroke="#5bc3ee" stroke-width="1.0"/>
<rect x="531.90" y="1.60" width="110.40" height="36.30" fill="#fff" stroke="#5bc3ee" stroke-width="1.2"/><text transform="translate(538.70 13.40) scale(.915 1)" class="bx">Prediction</text><text transform="translate(600.70 13.40) scale(.915 1)" class="bx">7.25</text><text transform="translate(538.70 24.00) scale(.915 1)" class="bx">A</text><text transform="translate(600.70 24.00) scale(.915 1)" class="bx">5.40</text><text transform="translate(538.70 34.30) scale(.915 1)" class="bx">B</text><text transform="translate(600.70 34.30) scale(.915 1)" class="bx">4.00</text><line x1="642.30" x2="642.30" y1="37.80" y2="43.30" stroke="#5bc3ee" stroke-width="1.0"/>
<rect x="531.40" y="52.80" width="111.00" height="36.30" fill="#fff" stroke="#5bc3ee" stroke-width="1.2"/><text transform="translate(538.20 64.60) scale(.915 1)" class="bx">Prediction</text><text transform="translate(601.90 64.60) scale(.915 1)" class="bx">7.76</text><text transform="translate(538.20 75.20) scale(.915 1)" class="bx">A</text><text transform="translate(601.90 75.20) scale(.915 1)" class="bx">5.40</text><text transform="translate(538.20 85.50) scale(.915 1)" class="bx">B</text><text transform="translate(601.90 85.50) scale(.915 1)" class="bx">3.49</text>
<rect x="531.40" y="95.30" width="111.00" height="36.30" fill="#fff" stroke="#5bc3ee" stroke-width="1.2"/><text transform="translate(538.20 107.10) scale(.915 1)" class="bx">Prediction</text><text transform="translate(601.90 107.10) scale(.915 1)" class="bx">7.94</text><text transform="translate(538.20 117.70) scale(.915 1)" class="bx">A</text><text transform="translate(601.90 117.70) scale(.915 1)" class="bx">5.40</text><text transform="translate(538.20 128.00) scale(.915 1)" class="bx">B</text><text transform="translate(601.90 128.00) scale(.915 1)" class="bx">2.95</text><line x1="642.40" x2="642.40" y1="131.60" y2="138.60" stroke="#5bc3ee" stroke-width="1.0"/>
<rect x="396.40" y="95.30" width="111.00" height="36.30" fill="#fff" stroke="#5bc3ee" stroke-width="1.2"/><text transform="translate(403.20 107.10) scale(.915 1)" class="bx">Prediction</text><text transform="translate(467.10 107.10) scale(.915 1)" class="bx">7.00</text><text transform="translate(403.20 117.70) scale(.915 1)" class="bx">A</text><text transform="translate(467.10 117.70) scale(.915 1)" class="bx">0.00</text><text transform="translate(403.20 128.00) scale(.915 1)" class="bx">B</text><text transform="translate(467.10 128.00) scale(.915 1)" class="bx">2.95</text><line x1="396.40" x2="396.40" y1="131.60" y2="138.20" stroke="#5bc3ee" stroke-width="1.0"/>
<rect x="396.40" y="180.00" width="111.00" height="36.30" fill="#fff" stroke="#5bc3ee" stroke-width="1.2"/><text transform="translate(403.20 191.80) scale(.915 1)" class="bx">Prediction</text><text transform="translate(467.60 191.80) scale(.915 1)" class="bx">5.60</text><text transform="translate(403.20 202.40) scale(.915 1)" class="bx">A</text><text transform="translate(467.60 202.40) scale(.915 1)" class="bx">0.00</text><text transform="translate(403.20 212.70) scale(.915 1)" class="bx">B</text><text transform="translate(467.60 212.70) scale(.915 1)" class="bx">2.00</text><line x1="396.40" x2="396.40" y1="216.30" y2="224.00" stroke="#5bc3ee" stroke-width="1.0"/>
<rect x="531.40" y="179.60" width="111.00" height="36.30" fill="#fff" stroke="#5bc3ee" stroke-width="1.2"/><text transform="translate(538.20 191.40) scale(.915 1)" class="bx">Prediction</text><text transform="translate(602.30 191.40) scale(.915 1)" class="bx">7.36</text><text transform="translate(538.20 202.00) scale(.915 1)" class="bx">A</text><text transform="translate(602.30 202.00) scale(.915 1)" class="bx">5.40</text><text transform="translate(538.20 212.30) scale(.915 1)" class="bx">B</text><text transform="translate(602.30 212.30) scale(.915 1)" class="bx">2.00</text><line x1="642.40" x2="642.40" y1="215.90" y2="224.00" stroke="#5bc3ee" stroke-width="1.0"/>
</svg></body></html>
